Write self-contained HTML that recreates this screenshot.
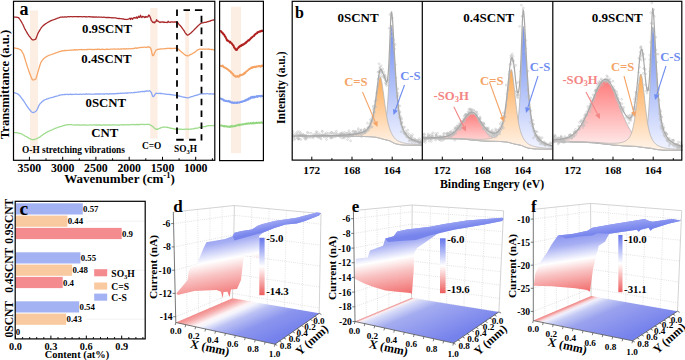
<!DOCTYPE html><html><head><meta charset="utf-8"><style>html,body{margin:0;padding:0;background:#fff;overflow:hidden}svg{display:block}text{font-family:"Liberation Serif",serif}</style></head><body>
<svg width="685" height="360" viewBox="0 0 685 360">
<rect width="685" height="360" fill="#fff"/>
<rect x="30" y="10.5" width="8" height="143.5" fill="#fdeee4"/>
<rect x="150.2" y="8" width="7.4" height="130.5" fill="#fdeee4"/>
<rect x="185.2" y="9.7" width="3.9" height="129.5" fill="#fdeee4"/>
<rect x="231" y="6.7" width="10" height="146.5" fill="#fdeee4"/>
<path d="M13.6 132.5 L14.3 132.6 L14.9 132.6 L15.6 132.6 L16.3 132.7 L17 132.8 L17.6 132.9 L18.3 133.1 L19 133.1 L19.6 133.3 L20.3 133.5 L21 133.7 L21.7 134 L22.3 134.3 L23 134.8 L23.7 135.2 L24.3 135.5 L25 136 L25.7 136.3 L26.4 136.7 L27 137 L27.7 137.4 L28.4 137.8 L29 138.3 L29.7 138.6 L30.4 139 L31.1 139.2 L31.7 139.5 L32.4 139.7 L33.1 139.7 L33.7 139.6 L34.4 139.5 L35.1 139.2 L35.8 139 L36.4 138.8 L37.1 138.4 L37.8 138.1 L38.4 137.8 L39.1 137.4 L39.8 137 L40.5 136.6 L41.1 136.1 L41.8 135.5 L42.5 135.1 L43.1 134.6 L43.8 134 L44.5 133.6 L45.2 133.2 L45.8 132.7 L46.5 132.5 L47.2 132.1 L47.9 131.7 L48.5 131.4 L49.2 131.1 L49.9 130.7 L50.5 130.5 L51.2 130.1 L51.9 129.9 L52.6 129.6 L53.2 129.2 L53.9 129 L54.6 128.7 L55.2 128.4 L55.9 128.1 L56.6 127.9 L57.3 127.6 L57.9 127.4 L58.6 127.2 L59.3 126.9 L59.9 126.7 L60.6 126.7 L61.3 126.3 L62 126.1 L62.6 125.8 L63.3 125.7 L64 125.7 L64.6 125.4 L65.3 125.1 L66 124.9 L66.7 124.8 L67.3 124.7 L68 124.8 L68.7 124.7 L69.3 124.7 L70 124.7 L70.7 124.7 L71.4 124.6 L72 124.7 L72.7 124.8 L73.4 125 L74 124.8 L74.7 125 L75.4 125.1 L76.1 124.9 L76.7 124.9 L77.4 125 L78.1 124.9 L78.7 124.9 L79.4 125 L80.1 125.1 L80.8 125 L81.4 124.9 L82.1 124.9 L82.8 125.2 L83.4 124.8 L84.1 124.8 L84.8 125.2 L85.5 124.9 L86.1 125.1 L86.8 125.2 L87.5 125.1 L88.1 125.1 L88.8 125.2 L89.5 125 L90.2 124.9 L90.8 124.8 L91.5 125 L92.2 125.1 L92.8 125.2 L93.5 124.9 L94.2 124.9 L94.9 124.9 L95.5 125 L96.2 124.9 L96.9 125 L97.5 125.1 L98.2 124.9 L98.9 125 L99.6 124.9 L100.2 125 L100.9 125 L101.6 125.3 L102.2 125.1 L102.9 124.9 L103.6 124.9 L104.3 125.1 L104.9 124.8 L105.6 124.8 L106.3 125.1 L106.9 125 L107.6 125 L108.3 124.8 L109 125 L109.6 124.9 L110.3 125 L111 125.2 L111.6 125.1 L112.3 124.9 L113 124.9 L113.7 125 L114.3 124.9 L115 124.8 L115.7 125 L116.4 124.8 L117 125.1 L117.7 125.1 L118.4 125 L119 124.9 L119.7 125.1 L120.4 124.9 L121.1 124.8 L121.7 124.9 L122.4 124.8 L123.1 124.6 L123.7 125 L124.4 124.8 L125.1 124.8 L125.8 125 L126.4 124.6 L127.1 124.7 L127.8 124.8 L128.4 124.8 L129.1 124.7 L129.8 124.8 L130.5 124.7 L131.1 124.5 L131.8 124.6 L132.5 124.7 L133.1 124.7 L133.8 124.4 L134.5 124.7 L135.2 124.6 L135.8 124.8 L136.5 124.5 L137.2 124.5 L137.8 124.4 L138.5 124.9 L139.2 124.5 L139.9 124.7 L140.5 124.4 L141.2 124.4 L141.9 124.3 L142.5 124.4 L143.2 124.5 L143.9 124.3 L144.6 124.6 L145.2 124.5 L145.9 124.3 L146.6 124.3 L147.2 124.4 L147.9 124.3 L148.6 124.4 L149.3 124.4 L149.9 124.8 L150.6 125.1 L151.3 125.5 L151.9 125.9 L152.6 126.5 L153.3 126.9 L154 127.7 L154.6 128.3 L155.3 128.9 L156 129.3 L156.6 129.1 L157.3 129.4 L158 128.9 L158.7 128.8 L159.3 128.5 L160 128.1 L160.7 128 L161.3 127.7 L162 127.5 L162.7 127.2 L163.4 127 L164 127.1 L164.7 127.1 L165.4 127.2 L166 127.1 L166.7 127.3 L167.4 127.2 L168.1 127.7 L168.7 127.6 L169.4 127.7 L170.1 128.1 L170.7 128.4 L171.4 128.1 L172.1 128.5 L172.8 128.6 L173.4 128.7 L174.1 128.9 L174.8 129 L175.4 129.1 L176.1 129.3 L176.8 129.2 L177.5 129.3 L178.1 129.2 L178.8 129.2 L179.5 129 L180.1 129.5 L180.8 129.2 L181.5 129.2 L182.2 129.3 L182.8 129.4 L183.5 129.3 L184.2 129.5 L184.9 129.1 L185.5 129.2 L186.2 129.2 L186.9 129.1 L187.5 129.4 L188.2 129.4 L188.9 129.2 L189.6 129.1 L190.2 129.2 L190.9 129.3 L191.6 128.8 L192.2 129 L192.9 128.8 L193.6 128.9 L194.3 128.5 L194.9 128.5 L195.6 128.2 L196.3 128.2 L196.9 128.4 L197.6 128 L198.3 127.8 L199 127.6 L199.6 127.2 L200.3 127.4 L201 127.3 L201.6 127.1 L202.3 127 L203 126.8 L203.7 126.7 L204.3 126.7 L205 126.6 L205.7 126.5 L206.3 126.2 L207 125.9 L207.7 125.9 L208.4 125.6 L209 125.7 L209.7 125.7 L210.4 125.5 L211 125.7 L211.7 125.6 L212.4 125.6 L213.1 125.6 L213.7 125.5 L214.4 125.5" fill="none" stroke="#9edc8c" stroke-width="1.3" stroke-linejoin="round"/>
<path d="M13.6 92.5 L14.3 92.6 L14.9 92.8 L15.6 93.1 L16.3 93.3 L17 93.7 L17.6 93.9 L18.3 94.3 L19 94.9 L19.6 95.5 L20.3 96.4 L21 97.3 L21.7 98.2 L22.3 99.1 L23 100 L23.7 100.9 L24.3 101.9 L25 103 L25.7 104.1 L26.4 105.1 L27 106.2 L27.7 107.1 L28.4 108 L29 108.8 L29.7 109.8 L30.4 110.5 L31.1 111.4 L31.7 112 L32.4 112.4 L33.1 112.5 L33.7 112.4 L34.4 112.1 L35.1 111.7 L35.8 111.2 L36.4 110.7 L37.1 109.6 L37.8 108.2 L38.4 106.6 L39.1 105.2 L39.8 104.1 L40.5 103.2 L41.1 102.7 L41.8 102 L42.5 101.3 L43.1 100.9 L43.8 100.4 L44.5 100 L45.2 99.7 L45.8 99.5 L46.5 99.2 L47.2 98.9 L47.9 98.8 L48.5 98.5 L49.2 98.2 L49.9 98 L50.5 97.8 L51.2 97.6 L51.9 97.5 L52.6 97.3 L53.2 97.1 L53.9 97 L54.6 96.7 L55.2 96.5 L55.9 96.4 L56.6 96.2 L57.3 96 L57.9 95.8 L58.6 95.5 L59.3 95.4 L59.9 95.1 L60.6 94.9 L61.3 94.8 L62 94.9 L62.6 94.6 L63.3 94.6 L64 94.6 L64.6 94.5 L65.3 94.5 L66 94.4 L66.7 94.3 L67.3 94.4 L68 94.5 L68.7 94.5 L69.3 94.4 L70 94.3 L70.7 94.2 L71.4 94.5 L72 94.5 L72.7 94.4 L73.4 94.3 L74 94.4 L74.7 94.3 L75.4 94.2 L76.1 94.2 L76.7 94.4 L77.4 94.3 L78.1 94.4 L78.7 94.3 L79.4 94.3 L80.1 94.1 L80.8 94.2 L81.4 94.5 L82.1 94.3 L82.8 94.2 L83.4 94.1 L84.1 94.2 L84.8 94.3 L85.5 94.1 L86.1 94 L86.8 94 L87.5 94.1 L88.1 94.1 L88.8 94.2 L89.5 94 L90.2 94.2 L90.8 94 L91.5 94.2 L92.2 94.3 L92.8 94.2 L93.5 94.1 L94.2 94.1 L94.9 94.2 L95.5 93.9 L96.2 94 L96.9 94 L97.5 94.1 L98.2 94 L98.9 94 L99.6 94 L100.2 94 L100.9 94 L101.6 93.8 L102.2 93.9 L102.9 94.1 L103.6 93.9 L104.3 94 L104.9 94 L105.6 93.8 L106.3 94 L106.9 93.7 L107.6 93.9 L108.3 94.1 L109 94 L109.6 93.7 L110.3 93.8 L111 93.7 L111.6 93.8 L112.3 93.8 L113 93.6 L113.7 93.8 L114.3 93.7 L115 93.8 L115.7 93.6 L116.4 93.5 L117 93.6 L117.7 93.5 L118.4 93.5 L119 93.5 L119.7 93.3 L120.4 93.2 L121.1 93.4 L121.7 93.4 L122.4 93.2 L123.1 93.2 L123.7 93.3 L124.4 93.2 L125.1 93.1 L125.8 93 L126.4 93.2 L127.1 92.9 L127.8 93 L128.4 92.8 L129.1 92.8 L129.8 92.9 L130.5 92.8 L131.1 92.5 L131.8 92.7 L132.5 92.8 L133.1 92.7 L133.8 92.5 L134.5 92.4 L135.2 92.5 L135.8 92.3 L136.5 92.3 L137.2 92.2 L137.8 92.1 L138.5 91.9 L139.2 92 L139.9 91.8 L140.5 91.7 L141.2 91.6 L141.9 91.7 L142.5 91.4 L143.2 91.6 L143.9 91.5 L144.6 91.4 L145.2 91.5 L145.9 91 L146.6 91 L147.2 90.9 L147.9 91.1 L148.6 91.1 L149.3 90.7 L149.9 90.8 L150.6 91.7 L151.3 92.6 L151.9 94.2 L152.6 96.2 L153.3 96.7 L154 96.1 L154.6 95 L155.3 94.1 L156 93.1 L156.6 93.4 L157.3 93.3 L158 93.5 L158.7 93.4 L159.3 93.4 L160 93.5 L160.7 93.5 L161.3 93.5 L162 93.5 L162.7 93.7 L163.4 93.8 L164 93.9 L164.7 93.9 L165.4 94.1 L166 94.1 L166.7 94.3 L167.4 94.3 L168.1 94.4 L168.7 94.4 L169.4 94.5 L170.1 94.5 L170.7 94.6 L171.4 94.7 L172.1 94.9 L172.8 94.9 L173.4 95.1 L174.1 95 L174.8 95.2 L175.4 95.3 L176.1 95.4 L176.8 95.6 L177.5 95.6 L178.1 95.9 L178.8 96 L179.5 96 L180.1 96.3 L180.8 96.4 L181.5 96.7 L182.2 96.8 L182.8 97 L183.5 97.1 L184.2 97.3 L184.9 97.2 L185.5 97.7 L186.2 97.6 L186.9 97.7 L187.5 97.8 L188.2 97.8 L188.9 97.6 L189.6 97.3 L190.2 97.1 L190.9 96.9 L191.6 96.7 L192.2 96.7 L192.9 96.3 L193.6 96.2 L194.3 95.7 L194.9 95.7 L195.6 95.4 L196.3 95.3 L196.9 95.1 L197.6 95 L198.3 94.6 L199 94.4 L199.6 94.1 L200.3 94.1 L201 93.9 L201.6 93.8 L202.3 93.8 L203 94 L203.7 93.6 L204.3 93.7 L205 94 L205.7 93.8 L206.3 93.7 L207 93.7 L207.7 93.7 L208.4 93.8 L209 94 L209.7 94 L210.4 93.7 L211 93.8 L211.7 93.8 L212.4 94 L213.1 93.9 L213.7 94 L214.4 94" fill="none" stroke="#8aa6f4" stroke-width="1.3" stroke-linejoin="round"/>
<path d="M13.6 48.1 L14.3 48 L14.9 48.1 L15.6 48.1 L16.3 48.3 L17 48.3 L17.6 48.6 L18.3 48.7 L19 49 L19.6 49.3 L20.3 49.6 L21 50.2 L21.7 51.1 L22.3 52.2 L23 53.3 L23.7 54.8 L24.3 56.8 L25 59 L25.7 61.4 L26.4 63.4 L27 65.5 L27.7 67.6 L28.4 69.7 L29 71.6 L29.7 73.4 L30.4 75.1 L31.1 77 L31.7 78.4 L32.4 79.6 L33.1 80 L33.7 79.9 L34.4 79.7 L35.1 79.4 L35.8 78.9 L36.4 77.3 L37.1 74.9 L37.8 72.4 L38.4 70.4 L39.1 68.1 L39.8 65.5 L40.5 63.6 L41.1 62.1 L41.8 61 L42.5 60.1 L43.1 59.3 L43.8 58.6 L44.5 58 L45.2 57.4 L45.8 57 L46.5 56.6 L47.2 56.2 L47.9 55.8 L48.5 55.5 L49.2 55.2 L49.9 55 L50.5 54.8 L51.2 54.5 L51.9 54.3 L52.6 54 L53.2 53.8 L53.9 53.6 L54.6 53.3 L55.2 53.1 L55.9 52.8 L56.6 52.7 L57.3 52.4 L57.9 52.1 L58.6 51.9 L59.3 51.6 L59.9 51.5 L60.6 51.4 L61.3 51.1 L62 50.8 L62.6 50.6 L63.3 50.8 L64 50.6 L64.6 50.5 L65.3 50.5 L66 50.6 L66.7 50.4 L67.3 50.3 L68 50.5 L68.7 50.3 L69.3 50 L70 50.2 L70.7 50.3 L71.4 50.1 L72 49.8 L72.7 50 L73.4 50.1 L74 50 L74.7 49.6 L75.4 50.1 L76.1 49.7 L76.7 49.9 L77.4 49.9 L78.1 50 L78.7 49.7 L79.4 49.6 L80.1 49.7 L80.8 49.6 L81.4 49.5 L82.1 49.9 L82.8 49.7 L83.4 49.7 L84.1 49.5 L84.8 49.8 L85.5 49.7 L86.1 49.7 L86.8 49.5 L87.5 49.4 L88.1 49.5 L88.8 49.3 L89.5 49.3 L90.2 49.4 L90.8 49.3 L91.5 49.5 L92.2 49.4 L92.8 49.6 L93.5 49.6 L94.2 49.4 L94.9 49.5 L95.5 49.4 L96.2 49.4 L96.9 49.5 L97.5 49.2 L98.2 49.4 L98.9 49.2 L99.6 49.4 L100.2 49.6 L100.9 49.3 L101.6 49.4 L102.2 49.2 L102.9 49.3 L103.6 49.3 L104.3 49.5 L104.9 49.6 L105.6 49.4 L106.3 49.2 L106.9 49.4 L107.6 49.2 L108.3 49.4 L109 49.3 L109.6 49.3 L110.3 49.2 L111 49.1 L111.6 49.2 L112.3 49.1 L113 49.2 L113.7 49 L114.3 49.1 L115 49 L115.7 49.2 L116.4 49.2 L117 49 L117.7 49.1 L118.4 49 L119 49.1 L119.7 49.2 L120.4 49 L121.1 48.9 L121.7 49.2 L122.4 48.8 L123.1 49 L123.7 48.9 L124.4 48.7 L125.1 49.1 L125.8 49 L126.4 48.7 L127.1 48.8 L127.8 48.8 L128.4 48.8 L129.1 48.6 L129.8 48.7 L130.5 48.8 L131.1 48.7 L131.8 48.6 L132.5 48.5 L133.1 48.7 L133.8 48.3 L134.5 48.4 L135.2 48 L135.8 48 L136.5 48.3 L137.2 47.9 L137.8 48 L138.5 47.9 L139.2 47.7 L139.9 47.7 L140.5 47.4 L141.2 47.4 L141.9 47.5 L142.5 47.4 L143.2 47.3 L143.9 47.2 L144.6 47.2 L145.2 47.1 L145.9 47.3 L146.6 47.3 L147.2 47 L147.9 47 L148.6 47 L149.3 47 L149.9 47.4 L150.6 48 L151.3 50 L151.9 53 L152.6 55.5 L153.3 55.6 L154 54.6 L154.6 52.8 L155.3 51.5 L156 50 L156.6 49.8 L157.3 49.5 L158 49.4 L158.7 49.2 L159.3 49.2 L160 49.3 L160.7 48.8 L161.3 48.9 L162 48.9 L162.7 48.8 L163.4 48.8 L164 48.8 L164.7 48.6 L165.4 48.7 L166 48.5 L166.7 48.5 L167.4 48.4 L168.1 48.4 L168.7 48.4 L169.4 48.5 L170.1 48.2 L170.7 48.6 L171.4 48.5 L172.1 48.5 L172.8 48.3 L173.4 48.3 L174.1 48.4 L174.8 48.4 L175.4 48.1 L176.1 48.3 L176.8 48.7 L177.5 48.5 L178.1 49.1 L178.8 49.6 L179.5 50.1 L180.1 50.9 L180.8 51.3 L181.5 51.9 L182.2 52.6 L182.8 52.9 L183.5 53.6 L184.2 54.2 L184.9 54.7 L185.5 55.4 L186.2 55.4 L186.9 55.8 L187.5 55.7 L188.2 55.8 L188.9 55.5 L189.6 54.9 L190.2 54.8 L190.9 54.4 L191.6 54.1 L192.2 53.9 L192.9 53.2 L193.6 52.8 L194.3 52.7 L194.9 52.1 L195.6 51.6 L196.3 51 L196.9 50.3 L197.6 49.9 L198.3 49.7 L199 49.3 L199.6 49.2 L200.3 49.2 L201 49.2 L201.6 49.2 L202.3 49.4 L203 49.2 L203.7 49 L204.3 49.2 L205 49.2 L205.7 49.2 L206.3 49.1 L207 49.1 L207.7 49.1 L208.4 49 L209 49.1 L209.7 49.4 L210.4 49.3 L211 49.5 L211.7 49.5 L212.4 49.5 L213.1 49.6 L213.7 49.8 L214.4 49.7" fill="none" stroke="#f7a668" stroke-width="1.3" stroke-linejoin="round"/>
<path d="M13.6 17 L14.3 17.1 L14.9 17.1 L15.6 17.1 L16.3 17.2 L17 17.3 L17.6 17.3 L18.3 17.6 L19 18.1 L19.6 19 L20.3 20 L21 21.2 L21.7 22.3 L22.3 23.5 L23 24.8 L23.7 26.3 L24.3 27.7 L25 29.1 L25.7 30.4 L26.4 31.5 L27 32.7 L27.7 33.9 L28.4 34.8 L29 35.8 L29.7 36.7 L30.4 37.7 L31.1 38.4 L31.7 39.2 L32.4 39.8 L33.1 39.9 L33.7 39.9 L34.4 39.7 L35.1 39.4 L35.8 38.9 L36.4 37.6 L37.1 35.6 L37.8 33.7 L38.4 32.5 L39.1 31.3 L39.8 30.1 L40.5 29 L41.1 28 L41.8 27.1 L42.5 26.4 L43.1 25.8 L43.8 25.1 L44.5 24.6 L45.2 24.1 L45.8 23.6 L46.5 23.2 L47.2 22.7 L47.9 22.3 L48.5 22 L49.2 21.7 L49.9 21.2 L50.5 20.9 L51.2 20.6 L51.9 20.3 L52.6 20 L53.2 19.8 L53.9 19.6 L54.6 19.3 L55.2 19.1 L55.9 18.8 L56.6 18.6 L57.3 18.2 L57.9 18.1 L58.6 17.9 L59.3 17.6 L59.9 17.4 L60.6 17.2 L61.3 17.2 L62 17.1 L62.6 17 L63.3 17.1 L64 17.1 L64.6 16.8 L65.3 16.8 L66 17.1 L66.7 17 L67.3 16.8 L68 16.7 L68.7 16.7 L69.3 16.8 L70 16.7 L70.7 16.7 L71.4 16.7 L72 16.7 L72.7 16.8 L73.4 16.7 L74 16.7 L74.7 16.7 L75.4 16.7 L76.1 16.7 L76.7 16.7 L77.4 16.6 L78.1 16.9 L78.7 16.7 L79.4 16.6 L80.1 16.6 L80.8 16.7 L81.4 16.7 L82.1 16.8 L82.8 16.8 L83.4 16.6 L84.1 16.7 L84.8 16.6 L85.5 16.8 L86.1 16.7 L86.8 17 L87.5 16.8 L88.1 16.6 L88.8 16.7 L89.5 16.9 L90.2 16.7 L90.8 16.8 L91.5 16.9 L92.2 17 L92.8 17 L93.5 16.9 L94.2 17.1 L94.9 17 L95.5 17.1 L96.2 16.9 L96.9 17.1 L97.5 17.2 L98.2 17 L98.9 17.1 L99.6 17.2 L100.2 17.2 L100.9 17.2 L101.6 17.2 L102.2 17.4 L102.9 17.4 L103.6 17.2 L104.3 17.2 L104.9 17.3 L105.6 17.5 L106.3 17.6 L106.9 17.4 L107.6 17.7 L108.3 17.4 L109 17.6 L109.6 17.5 L110.3 17.7 L111 17.5 L111.6 17.8 L112.3 17.8 L113 17.7 L113.7 17.8 L114.3 17.9 L115 17.9 L115.7 17.8 L116.4 18.2 L117 18.3 L117.7 18.4 L118.4 18.6 L119 18.4 L119.7 18.5 L120.4 18.7 L121.1 18.7 L121.7 18.8 L122.4 18.9 L123.1 19 L123.7 19 L124.4 19.3 L125.1 19.4 L125.8 19.3 L126.4 19.5 L127.1 19.3 L127.8 19.3 L128.4 19.2 L129.1 18.8 L129.8 18.3 L130.5 19.5 L131.1 18.1 L131.8 18.4 L132.5 19.3 L133.1 18.3 L133.8 17.7 L134.5 17.6 L135.2 18.1 L135.8 17.8 L136.5 16.9 L137.2 18.4 L137.8 17.5 L138.5 16.2 L139.2 17.3 L139.9 17.3 L140.5 15.2 L141.2 16.9 L141.9 17.6 L142.5 16.4 L143.2 16.4 L143.9 17 L144.6 17.6 L145.2 16.5 L145.9 17.4 L146.6 16.6 L147.2 17 L147.9 16.9 L148.6 15.1 L149.3 15.4 L149.9 16.5 L150.6 18.3 L151.3 20.5 L151.9 21.1 L152.6 22.2 L153.3 22.6 L154 22 L154.6 22.8 L155.3 21.8 L156 21.5 L156.6 19.6 L157.3 21.2 L158 21 L158.7 21.5 L159.3 22.1 L160 22.5 L160.7 21.9 L161.3 22.1 L162 22 L162.7 22 L163.4 21.9 L164 22.5 L164.7 22.1 L165.4 22.4 L166 22.3 L166.7 22.5 L167.4 22.5 L168.1 21.2 L168.7 22.2 L169.4 22.2 L170.1 22.4 L170.7 21.9 L171.4 22 L172.1 21.8 L172.8 22.1 L173.4 22.1 L174.1 22 L174.8 22 L175.4 22 L176.1 22 L176.8 21.8 L177.5 22.6 L178.1 23 L178.8 24.1 L179.5 25 L180.1 25.4 L180.8 26.3 L181.5 27.1 L182.2 28.2 L182.8 29 L183.5 30 L184.2 30.9 L184.9 32.3 L185.5 33.1 L186.2 34 L186.9 34.7 L187.5 35.1 L188.2 34.8 L188.9 34.6 L189.6 34 L190.2 33.5 L190.9 33 L191.6 32.2 L192.2 31.7 L192.9 31.1 L193.6 30.4 L194.3 29.6 L194.9 29.1 L195.6 28.2 L196.3 27.7 L196.9 26.9 L197.6 26.5 L198.3 25.4 L199 25 L199.6 24.4 L200.3 23.8 L201 23.3 L201.6 23 L202.3 22.9 L203 22.8 L203.7 22.7 L204.3 22.4 L205 22.4 L205.7 22.3 L206.3 22.1 L207 22 L207.7 21.7 L208.4 21.5 L209 21.4 L209.7 21.1 L210.4 21 L211 20.6 L211.7 20.4 L212.4 20.2 L213.1 20.1 L213.7 20 L214.4 19.5" fill="none" stroke="#a8282a" stroke-width="1.3" stroke-linejoin="round"/>
<path d="M220.2 31.1 L220.6 31 L220.9 31.3 L221.3 31.5 L221.6 32.3 L222 32.3 L222.3 32.8 L222.7 33 L223.1 33.6 L223.4 34.3 L223.8 34.2 L224.1 34.8 L224.5 35.2 L224.9 36.3 L225.2 36.5 L225.6 37.2 L225.9 37.8 L226.3 38.5 L226.6 39.5 L227 40.5 L227.4 40 L227.7 40.8 L228.1 40.9 L228.4 40.8 L228.8 41.3 L229.1 41.5 L229.5 41.6 L229.9 42.5 L230.2 41.7 L230.6 42.5 L230.9 42.8 L231.3 42.9 L231.7 43.4 L232 44 L232.4 44.3 L232.7 44.8 L233.1 45.4 L233.4 45.3 L233.8 46.8 L234.2 47.5 L234.5 47.8 L234.9 48.5 L235.2 48.7 L235.6 49.6 L236 49.8 L236.3 49.8 L236.7 50 L237 49.2 L237.4 49 L237.7 48.1 L238.1 48 L238.5 47.6 L238.8 47 L239.2 46.6 L239.5 47 L239.9 46 L240.2 45.8 L240.6 45.6 L241 45.9 L241.3 45.9 L241.7 45.3 L242 44.8 L242.4 44.7 L242.8 44.9 L243.1 44.2 L243.5 44.6 L243.8 44.3 L244.2 43.8 L244.5 43.7 L244.9 43.5 L245.3 43.4 L245.6 42.5 L246 42.8 L246.3 42.1 L246.7 41.8 L247 41.7 L247.4 41.3 L247.8 40.8 L248.1 40.4 L248.5 40.2 L248.8 40.5 L249.2 40.3 L249.6 39.7 L249.9 39.5 L250.3 38.8 L250.6 38.6 L251 38.4 L251.3 37.7 L251.7 37.5 L252.1 37.4 L252.4 37 L252.8 36.5 L253.1 36.5 L253.5 36 L253.9 36 L254.2 35.4 L254.6 34.9 L254.9 34.7 L255.3 34.3 L255.6 33.8 L256 33.6 L256.4 33.6 L256.7 33.3 L257.1 33.2 L257.4 32.2 L257.8 32.3 L258.1 32.1 L258.5 32.1 L258.9 31.8 L259.2 31.6 L259.6 31.8 L259.9 31.5 L260.3 31 L260.7 31.5 L261 31.3 L261.4 30.8 L261.7 31 L262.1 30.6 L262.4 31 L262.8 30.6" fill="none" stroke="#b0201e" stroke-width="2.0" stroke-linejoin="round"/>
<path d="M220.2 65.4 L220.6 65.7 L220.9 65.7 L221.3 66 L221.6 66.1 L222 66.2 L222.3 66.2 L222.7 65.6 L223.1 66.7 L223.4 66.4 L223.8 67.1 L224.1 67.5 L224.5 67.5 L224.9 67.5 L225.2 67.8 L225.6 68 L225.9 68.1 L226.3 68.3 L226.6 68.4 L227 69.1 L227.4 69.1 L227.7 69.5 L228.1 69.5 L228.4 69.9 L228.8 70.1 L229.1 70.6 L229.5 71 L229.9 71.1 L230.2 71.2 L230.6 71.5 L230.9 72.5 L231.3 72.3 L231.7 72.6 L232 73.4 L232.4 73.6 L232.7 73.9 L233.1 74.1 L233.4 75.2 L233.8 75.2 L234.2 75.6 L234.5 75.8 L234.9 75.8 L235.2 76.1 L235.6 76.7 L236 76.8 L236.3 76.6 L236.7 76.4 L237 76.3 L237.4 76.5 L237.7 76.1 L238.1 76.6 L238.5 76.6 L238.8 76.8 L239.2 76.2 L239.5 75.7 L239.9 75.5 L240.2 74.7 L240.6 75.2 L241 75.2 L241.3 75.3 L241.7 75 L242 74.9 L242.4 74.6 L242.8 74.5 L243.1 74.6 L243.5 73.7 L243.8 73.6 L244.2 73.1 L244.5 73.6 L244.9 73.2 L245.3 72.8 L245.6 72 L246 72 L246.3 71.6 L246.7 71.3 L247 70.9 L247.4 70.8 L247.8 70.2 L248.1 70.2 L248.5 69.7 L248.8 69.3 L249.2 69.1 L249.6 68.7 L249.9 68.8 L250.3 68.3 L250.6 68.3 L251 67.9 L251.3 67.5 L251.7 68 L252.1 67.4 L252.4 67.8 L252.8 67.6 L253.1 67 L253.5 67.1 L253.9 67.1 L254.2 66.9 L254.6 66.8 L254.9 67.2 L255.3 66.8 L255.6 66.9 L256 66.7 L256.4 66.8 L256.7 66.4 L257.1 66.6 L257.4 66.6 L257.8 66.4 L258.1 66.3 L258.5 66.1 L258.9 66.3 L259.2 66.3 L259.6 66.1 L259.9 66 L260.3 66.3 L260.7 66.7 L261 66 L261.4 66.1 L261.7 66.1 L262.1 65.4 L262.4 66 L262.8 65.8" fill="none" stroke="#f6a262" stroke-width="2.0" stroke-linejoin="round"/>
<path d="M220.2 98.8 L220.6 98.6 L220.9 98.6 L221.3 98.9 L221.6 99.2 L222 99.1 L222.3 99.4 L222.7 99.2 L223.1 99.7 L223.4 100.1 L223.8 100.5 L224.1 100.3 L224.5 100.3 L224.9 100.7 L225.2 100.8 L225.6 101.1 L225.9 101 L226.3 100.8 L226.6 101 L227 101.1 L227.4 101.3 L227.7 101.3 L228.1 101.2 L228.4 100.9 L228.8 101.4 L229.1 101.1 L229.5 101.8 L229.9 101.8 L230.2 101.5 L230.6 102.2 L230.9 102.3 L231.3 102.2 L231.7 102.7 L232 102.8 L232.4 102.2 L232.7 102.8 L233.1 102.7 L233.4 102.8 L233.8 103 L234.2 102.6 L234.5 102.7 L234.9 102.6 L235.2 102.7 L235.6 102.9 L236 102.5 L236.3 102.6 L236.7 103 L237 102.8 L237.4 102.9 L237.7 102.3 L238.1 102.5 L238.5 102.5 L238.8 102.6 L239.2 102.3 L239.5 102.6 L239.9 102.2 L240.2 102.2 L240.6 102 L241 102.1 L241.3 101.7 L241.7 102 L242 101.7 L242.4 101.5 L242.8 101.3 L243.1 101.3 L243.5 101.3 L243.8 101.2 L244.2 100.9 L244.5 100.9 L244.9 100.6 L245.3 100.8 L245.6 100.3 L246 99.7 L246.3 100.4 L246.7 99.9 L247 99.4 L247.4 99.5 L247.8 99.1 L248.1 99.7 L248.5 99.1 L248.8 98.4 L249.2 98.8 L249.6 98.4 L249.9 98.8 L250.3 97.9 L250.6 97.4 L251 97.9 L251.3 97.6 L251.7 97.5 L252.1 96.9 L252.4 97.4 L252.8 97.6 L253.1 96.7 L253.5 97.4 L253.9 96.8 L254.2 97.5 L254.6 97 L254.9 96.8 L255.3 97 L255.6 96.8 L256 96.5 L256.4 96.8 L256.7 96.4 L257.1 96 L257.4 96.9 L257.8 96.3 L258.1 96.2 L258.5 96.4 L258.9 95.9 L259.2 95.9 L259.6 96.1 L259.9 96 L260.3 96.1 L260.7 96.4 L261 95.9 L261.4 96.2 L261.7 96.2 L262.1 95.7 L262.4 96.1 L262.8 95.8" fill="none" stroke="#7f9df2" stroke-width="2.0" stroke-linejoin="round"/>
<path d="M220.2 125.6 L220.6 125.6 L220.9 125.5 L221.3 125.3 L221.6 125.7 L222 125.6 L222.3 126 L222.7 125.9 L223.1 125.8 L223.4 126.3 L223.8 126.3 L224.1 126 L224.5 126.5 L224.9 126.1 L225.2 126.2 L225.6 126.3 L225.9 126.1 L226.3 126.2 L226.6 126.3 L227 126.8 L227.4 126.8 L227.7 126.4 L228.1 126.9 L228.4 126.5 L228.8 126.6 L229.1 126.7 L229.5 126.6 L229.9 127.1 L230.2 126.6 L230.6 126.2 L230.9 126.8 L231.3 126.4 L231.7 126.4 L232 125.6 L232.4 126.6 L232.7 126.5 L233.1 126.4 L233.4 126.4 L233.8 126.5 L234.2 126 L234.5 126.2 L234.9 125.7 L235.2 125.7 L235.6 126 L236 125.7 L236.3 125.2 L236.7 125.6 L237 125.4 L237.4 125.1 L237.7 125.4 L238.1 125.1 L238.5 124.7 L238.8 124.8 L239.2 125.4 L239.5 124.5 L239.9 124.9 L240.2 125 L240.6 124.9 L241 124.4 L241.3 124.5 L241.7 124.6 L242 124.7 L242.4 124.3 L242.8 124.1 L243.1 124.6 L243.5 124.5 L243.8 124.3 L244.2 124 L244.5 124.2 L244.9 124.1 L245.3 124.2 L245.6 123.6 L246 123.9 L246.3 123.8 L246.7 123.5 L247 123.8 L247.4 123.7 L247.8 123.5 L248.1 123.7 L248.5 123.2 L248.8 123.5 L249.2 123.5 L249.6 123.5 L249.9 123.6 L250.3 123 L250.6 122.9 L251 123.3 L251.3 123.3 L251.7 123.7 L252.1 123.3 L252.4 122.9 L252.8 123.3 L253.1 122.8 L253.5 122.7 L253.9 123.6 L254.2 123.1 L254.6 123.1 L254.9 123.1 L255.3 123.3 L255.6 122.9 L256 123.1 L256.4 122.6 L256.7 122.4 L257.1 123.1 L257.4 123.1 L257.8 122.8 L258.1 122.8 L258.5 122.7 L258.9 122.5 L259.2 123 L259.6 122.8 L259.9 122.7 L260.3 122.7 L260.7 122.8 L261 122.7 L261.4 122.7 L261.7 122.2 L262.1 122.6 L262.4 123.1 L262.8 122.4" fill="none" stroke="#92d67e" stroke-width="1.8" stroke-linejoin="round"/>
<path d="M177 9.5 V16 M177 21.3 V27.8 M177 33.1 V39.6 M177 44.9 V51.4 M177 56.7 V63.2 M177 68.5 V75 M177 80.3 V86.8 M177 92.1 V98.6 M177 103.9 V110.4 M177 115.7 V122.2 M177 127.5 V134 M201.5 15.8 V22.4 M201.5 27.6 V34.2 M201.5 39.5 V46.1 M201.5 51.3 V57.9 M201.5 63.2 V69.8 M201.5 75 V81.6 M201.5 86.8 V93.4 M201.5 98.7 V105.3 M201.5 110.5 V117.1 M201.5 122.4 V129 M201.5 134.2 V140.4 M183.5 10.2 H190 M194.9 10.2 H202.2 M176.2 139.75 H183.7 M189.1 139.75 H195.75" stroke="#000" stroke-width="1.8" fill="none"/>
<rect x="13.5" y="1.3" width="201.3" height="159" fill="none" stroke="#000" stroke-width="1.2"/>
<rect x="219.6" y="1.3" width="43.8" height="159.3" fill="none" stroke="#000" stroke-width="1.2"/>
<line x1="212.4" y1="160.3" x2="212.4" y2="158.3" stroke="#000" stroke-width="1"/>
<line x1="195.7" y1="160.3" x2="195.7" y2="156.8" stroke="#000" stroke-width="1"/>
<line x1="179.1" y1="160.3" x2="179.1" y2="158.3" stroke="#000" stroke-width="1"/>
<line x1="162.5" y1="160.3" x2="162.5" y2="156.8" stroke="#000" stroke-width="1"/>
<line x1="145.8" y1="160.3" x2="145.8" y2="158.3" stroke="#000" stroke-width="1"/>
<line x1="129.2" y1="160.3" x2="129.2" y2="156.8" stroke="#000" stroke-width="1"/>
<line x1="112.6" y1="160.3" x2="112.6" y2="158.3" stroke="#000" stroke-width="1"/>
<line x1="95.9" y1="160.3" x2="95.9" y2="156.8" stroke="#000" stroke-width="1"/>
<line x1="79.3" y1="160.3" x2="79.3" y2="158.3" stroke="#000" stroke-width="1"/>
<line x1="62.7" y1="160.3" x2="62.7" y2="156.8" stroke="#000" stroke-width="1"/>
<line x1="46" y1="160.3" x2="46" y2="158.3" stroke="#000" stroke-width="1"/>
<line x1="29.4" y1="160.3" x2="29.4" y2="156.8" stroke="#000" stroke-width="1"/>
<g font-family="Liberation Serif" font-weight="bold">
<text x="29.4" y="171.5" font-size="11.8" text-anchor="middle" fill="#000" >3500</text>
<text x="62.7" y="171.5" font-size="11.8" text-anchor="middle" fill="#000" >3000</text>
<text x="95.9" y="171.5" font-size="11.8" text-anchor="middle" fill="#000" >2500</text>
<text x="129.2" y="171.5" font-size="11.8" text-anchor="middle" fill="#000" >2000</text>
<text x="162.5" y="171.5" font-size="11.8" text-anchor="middle" fill="#000" >1500</text>
<text x="195.7" y="171.5" font-size="11.8" text-anchor="middle" fill="#000" >1000</text>
<text x="19.6" y="14.8" font-size="18" text-anchor="start" fill="#000" >a</text>
<text x="82" y="32.5" font-size="12.8" text-anchor="start" fill="#000" >0.9SCNT</text>
<text x="81.3" y="62.5" font-size="12.8" text-anchor="start" fill="#000" >0.4SCNT</text>
<text x="85.5" y="106.7" font-size="12.8" text-anchor="start" fill="#000" >0SCNT</text>
<text x="91.3" y="137" font-size="12.8" text-anchor="start" fill="#000" >CNT</text>
<text x="22" y="152.8" font-size="9.4" text-anchor="start" fill="#000" >O-H stretching vibrations</text>
<text x="141.9" y="149" font-size="9.4" text-anchor="start" fill="#000" >C=O</text>
<text x="174.1" y="152.2" font-size="9.4">SO<tspan font-size="6.5" dy="2">3</tspan><tspan dy="-2">H</tspan></text>
<text x="64.3" y="183.3" font-size="13">Wavenumber (cm<tspan font-size="8.5" dy="-5">-1</tspan><tspan dy="5">)</tspan></text>
<text transform="translate(9.2,84.5) rotate(-90)" font-size="12.6" text-anchor="middle">Transmittance (a.u.)</text>
</g>
<defs>
<linearGradient id="g_so3" x1="0" y1="0" x2="0" y2="1"><stop offset="0" stop-color="#ff7c7c"/><stop offset="1" stop-color="#fff2f2"/></linearGradient>
<linearGradient id="g_cs2" x1="0" y1="0" x2="0" y2="1"><stop offset="0" stop-color="#ffab55"/><stop offset="1" stop-color="#fff4ea"/></linearGradient>
<linearGradient id="g_cs" x1="0" y1="0" x2="0" y2="1"><stop offset="0" stop-color="#6d8cf2"/><stop offset="1" stop-color="#f2f4ff"/></linearGradient>
</defs>
<clipPath id="clipb0"><rect x="292.5" y="1" width="128.9" height="159"/></clipPath>
<g clip-path="url(#clipb0)">
<path d="M337.9 136 L338.4 136 L338.9 136 L339.4 136 L339.9 136 L340.4 136 L340.9 136 L341.4 136 L341.9 136 L342.4 136 L342.9 136 L343.4 136 L343.9 136 L344.4 136 L344.9 136 L345.4 136 L345.9 136 L346.4 136 L346.9 136 L347.4 136 L347.9 136 L348.4 136 L348.9 136 L349.4 135.9 L349.9 135.9 L350.4 135.9 L350.9 135.9 L351.4 135.9 L351.9 135.9 L352.4 135.9 L352.9 135.9 L353.4 135.9 L353.9 135.9 L354.4 135.9 L354.9 135.9 L355.4 135.9 L355.9 135.8 L356.4 135.8 L356.9 135.8 L357.5 135.8 L358 135.8 L358.5 135.8 L359 135.8 L359.5 135.8 L360 135.7 L360.5 135.7 L361 135.7 L361.5 135.7 L362 135.7 L362.5 135.7 L363 135.6 L363.5 135.6 L364 135.6 L364.5 135.6 L365 135.5 L365.5 135.5 L366 135.5 L366.5 135.5 L367 135.4 L367.5 135.4 L368 135.4 L368.5 135.3 L369 135.3 L369.5 135.2 L370 135.2 L370.5 135.1 L371 135.1 L371.5 135 L372 135 L372.5 134.9 L373 134.9 L373.5 134.8 L374 134.7 L374.5 134.6 L375 134.6 L375.5 134.5 L376 134.4 L376.5 134.3 L377 134.2 L377.5 134 L378 133.9 L378.5 133.7 L379 133.5 L379.5 133.3 L380 133.1 L380.5 132.8 L381 132.4 L381.5 131.9 L382 131.4 L382.5 130.7 L383 129.9 L383.6 129 L384.1 127.8 L384.6 126.3 L385.1 124.5 L385.6 122.2 L386.1 119.2 L386.6 115.4 L387.1 110.6 L387.6 104.4 L388.1 96.7 L388.6 87.1 L389.1 75.7 L389.6 62.7 L390.1 48.9 L390.6 36.2 L391.1 27.4 L391.6 25.1 L392.1 27.1 L392.6 31.5 L393.1 37.8 L393.6 45.4 L394.1 53.7 L394.6 62.2 L395.1 70.4 L395.6 78.3 L396.1 85.5 L396.6 92 L397.1 97.9 L397.6 103.1 L398.1 107.7 L398.6 111.8 L399.1 115.3 L399.6 118.4 L400.1 121.1 L400.6 123.4 L401.1 125.4 L401.6 127.2 L402.1 128.7 L402.6 130.1 L403.1 131.3 L403.6 132.3 L404.1 133.3 L404.6 134.1 L405.1 134.9 L405.6 135.5 L406.1 136.2 L406.6 136.7 L407.1 137.2 L407.6 137.7 L408.1 138.1 L408.6 138.5 L409.1 138.9 L409.7 139.2 L410.2 139.6 L410.7 139.9 L411.2 140.1 L411.7 140.4 L412.2 140.6 L412.7 140.8 L413.2 141.1 L413.7 141.2 L414.2 141.4 L414.7 141.6 L415.2 141.8 L415.7 141.9 L416.2 142.1 L416.7 142.2 L417.2 142.3 L417.7 142.5 L418.2 142.6 L418.7 142.7 L419.2 142.8 L419.7 142.9 L420.2 143 L420.7 143.1 L421.2 143.2 L421.7 143.2 L422.2 143.3 L422.2 145.5 L421.7 145.5 L421.2 145.5 L420.7 145.5 L420.2 145.5 L419.7 145.5 L419.2 145.5 L418.7 145.4 L418.2 145.4 L417.7 145.4 L417.2 145.4 L416.7 145.4 L416.2 145.4 L415.7 145.4 L415.2 145.4 L414.7 145.4 L414.2 145.4 L413.7 145.3 L413.2 145.3 L412.7 145.3 L412.2 145.3 L411.7 145.3 L411.2 145.3 L410.7 145.3 L410.2 145.2 L409.7 145.2 L409.1 145.2 L408.6 145.2 L408.1 145.2 L407.6 145.2 L407.1 145.1 L406.6 145.1 L406.1 145.1 L405.6 145.1 L405.1 145 L404.6 145 L404.1 145 L403.6 144.9 L403.1 144.9 L402.6 144.9 L402.1 144.8 L401.6 144.8 L401.1 144.7 L400.6 144.7 L400.1 144.6 L399.6 144.6 L399.1 144.5 L398.6 144.4 L398.1 144.3 L397.6 144.2 L397.1 144.1 L396.6 144 L396.1 143.8 L395.6 143.7 L395.1 143.5 L394.6 143.3 L394.1 143.1 L393.6 142.9 L393.1 142.6 L392.6 142.3 L392.1 142.1 L391.6 141.8 L391.1 141.5 L390.6 141.2 L390.1 141 L389.6 140.8 L389.1 140.6 L388.6 140.5 L388.1 140.3 L387.6 140.2 L387.1 140.1 L386.6 140 L386.1 139.9 L385.6 139.8 L385.1 139.6 L384.6 139.5 L384.1 139.4 L383.6 139.3 L383 139.2 L382.5 139 L382 138.9 L381.5 138.7 L381 138.6 L380.5 138.4 L380 138.3 L379.5 138.1 L379 138 L378.5 137.9 L378 137.7 L377.5 137.6 L377 137.5 L376.5 137.4 L376 137.3 L375.5 137.2 L375 137.2 L374.5 137.1 L374 137 L373.5 137 L373 136.9 L372.5 136.9 L372 136.8 L371.5 136.8 L371 136.8 L370.5 136.8 L370 136.7 L369.5 136.7 L369 136.7 L368.5 136.7 L368 136.6 L367.5 136.6 L367 136.6 L366.5 136.6 L366 136.6 L365.5 136.6 L365 136.6 L364.5 136.5 L364 136.5 L363.5 136.5 L363 136.5 L362.5 136.5 L362 136.5 L361.5 136.5 L361 136.5 L360.5 136.5 L360 136.5 L359.5 136.5 L359 136.4 L358.5 136.4 L358 136.4 L357.5 136.4 L356.9 136.4 L356.4 136.4 L355.9 136.4 L355.4 136.4 L354.9 136.4 L354.4 136.4 L353.9 136.4 L353.4 136.4 L352.9 136.4 L352.4 136.4 L351.9 136.4 L351.4 136.4 L350.9 136.4 L350.4 136.4 L349.9 136.4 L349.4 136.4 L348.9 136.3 L348.4 136.3 L347.9 136.3 L347.4 136.3 L346.9 136.3 L346.4 136.3 L345.9 136.3 L345.4 136.3 L344.9 136.3 L344.4 136.3 L343.9 136.3 L343.4 136.3 L342.9 136.3 L342.4 136.3 L341.9 136.3 L341.4 136.3 L340.9 136.3 L340.4 136.3 L339.9 136.3 L339.4 136.3 L338.9 136.3 L338.4 136.3 L337.9 136.3 Z" fill="url(#g_cs)" stroke="#b4b4b4" stroke-width="0.8"/>
<path d="M312.8 136 L313.3 136 L313.8 136 L314.3 136 L314.8 136 L315.3 136 L315.8 136 L316.3 136 L316.8 135.9 L317.3 135.9 L317.8 135.9 L318.3 135.9 L318.8 135.9 L319.3 135.9 L319.8 135.9 L320.3 135.9 L320.8 135.9 L321.3 135.9 L321.8 135.9 L322.3 135.9 L322.8 135.9 L323.3 135.9 L323.8 135.9 L324.3 135.9 L324.8 135.9 L325.3 135.9 L325.8 135.9 L326.3 135.9 L326.8 135.9 L327.3 135.8 L327.8 135.8 L328.3 135.8 L328.8 135.8 L329.3 135.8 L329.8 135.8 L330.3 135.8 L330.8 135.8 L331.4 135.8 L331.9 135.8 L332.4 135.8 L332.9 135.8 L333.4 135.8 L333.9 135.7 L334.4 135.7 L334.9 135.7 L335.4 135.7 L335.9 135.7 L336.4 135.7 L336.9 135.7 L337.4 135.7 L337.9 135.7 L338.4 135.6 L338.9 135.6 L339.4 135.6 L339.9 135.6 L340.4 135.6 L340.9 135.6 L341.4 135.6 L341.9 135.5 L342.4 135.5 L342.9 135.5 L343.4 135.5 L343.9 135.5 L344.4 135.4 L344.9 135.4 L345.4 135.4 L345.9 135.4 L346.4 135.3 L346.9 135.3 L347.4 135.3 L347.9 135.3 L348.4 135.2 L348.9 135.2 L349.4 135.2 L349.9 135.1 L350.4 135.1 L350.9 135.1 L351.4 135 L351.9 135 L352.4 134.9 L352.9 134.9 L353.4 134.8 L353.9 134.8 L354.4 134.7 L354.9 134.7 L355.4 134.6 L355.9 134.5 L356.4 134.5 L356.9 134.4 L357.5 134.3 L358 134.2 L358.5 134.1 L359 134 L359.5 133.9 L360 133.8 L360.5 133.7 L361 133.6 L361.5 133.4 L362 133.3 L362.5 133.1 L363 133 L363.5 132.8 L364 132.6 L364.5 132.3 L365 132.1 L365.5 131.8 L366 131.5 L366.5 131.1 L367 130.7 L367.5 130.3 L368 129.8 L368.5 129.2 L369 128.5 L369.5 127.7 L370 126.8 L370.5 125.7 L371 124.5 L371.5 123.2 L372 121.6 L372.5 119.8 L373 117.7 L373.5 115.4 L374 112.9 L374.5 110.1 L375 107 L375.5 103.7 L376 100.2 L376.5 96.5 L377 92.8 L377.5 89 L378 85.5 L378.5 82.4 L379 79.8 L379.5 78 L380 77.1 L380.5 77.2 L381 78.3 L381.5 80.4 L382 83.3 L382.5 86.7 L383 90.4 L383.6 94.4 L384.1 98.4 L384.6 102.2 L385.1 106 L385.6 109.5 L386.1 112.7 L386.6 115.7 L387.1 118.4 L387.6 120.9 L388.1 123.1 L388.6 125.1 L389.1 126.9 L389.6 128.5 L390.1 129.9 L390.6 131.3 L391.1 132.5 L391.6 133.5 L392.1 134.5 L392.6 135.4 L393.1 136.2 L393.6 136.9 L394.1 137.6 L394.6 138.2 L395.1 138.7 L395.6 139.2 L396.1 139.6 L396.6 140 L397.1 140.3 L397.6 140.6 L398.1 140.9 L398.6 141.2 L399.1 141.4 L399.6 141.6 L400.1 141.9 L400.6 142 L401.1 142.2 L401.6 142.4 L402.1 142.5 L402.6 142.7 L403.1 142.8 L403.6 142.9 L404.1 143 L404.6 143.1 L405.1 143.2 L405.6 143.3 L406.1 143.4 L406.6 143.5 L407.1 143.6 L407.6 143.7 L408.1 143.7 L408.6 143.8 L409.1 143.9 L409.7 143.9 L410.2 144 L410.7 144 L411.2 144.1 L411.7 144.1 L412.2 144.2 L412.7 144.2 L413.2 144.3 L413.7 144.3 L414.2 144.4 L414.7 144.4 L415.2 144.4 L415.7 144.5 L416.2 144.5 L416.7 144.5 L417.2 144.6 L417.7 144.6 L418.2 144.6 L418.7 144.7 L419.2 144.7 L419.7 144.7 L420.2 144.7 L420.7 144.8 L421.2 144.8 L421.7 144.8 L422.2 144.8 L422.2 145.5 L421.7 145.5 L421.2 145.5 L420.7 145.5 L420.2 145.5 L419.7 145.5 L419.2 145.5 L418.7 145.4 L418.2 145.4 L417.7 145.4 L417.2 145.4 L416.7 145.4 L416.2 145.4 L415.7 145.4 L415.2 145.4 L414.7 145.4 L414.2 145.4 L413.7 145.3 L413.2 145.3 L412.7 145.3 L412.2 145.3 L411.7 145.3 L411.2 145.3 L410.7 145.3 L410.2 145.2 L409.7 145.2 L409.1 145.2 L408.6 145.2 L408.1 145.2 L407.6 145.2 L407.1 145.1 L406.6 145.1 L406.1 145.1 L405.6 145.1 L405.1 145 L404.6 145 L404.1 145 L403.6 144.9 L403.1 144.9 L402.6 144.9 L402.1 144.8 L401.6 144.8 L401.1 144.7 L400.6 144.7 L400.1 144.6 L399.6 144.6 L399.1 144.5 L398.6 144.4 L398.1 144.3 L397.6 144.2 L397.1 144.1 L396.6 144 L396.1 143.8 L395.6 143.7 L395.1 143.5 L394.6 143.3 L394.1 143.1 L393.6 142.9 L393.1 142.6 L392.6 142.3 L392.1 142.1 L391.6 141.8 L391.1 141.5 L390.6 141.2 L390.1 141 L389.6 140.8 L389.1 140.6 L388.6 140.5 L388.1 140.3 L387.6 140.2 L387.1 140.1 L386.6 140 L386.1 139.9 L385.6 139.8 L385.1 139.6 L384.6 139.5 L384.1 139.4 L383.6 139.3 L383 139.2 L382.5 139 L382 138.9 L381.5 138.7 L381 138.6 L380.5 138.4 L380 138.3 L379.5 138.1 L379 138 L378.5 137.9 L378 137.7 L377.5 137.6 L377 137.5 L376.5 137.4 L376 137.3 L375.5 137.2 L375 137.2 L374.5 137.1 L374 137 L373.5 137 L373 136.9 L372.5 136.9 L372 136.8 L371.5 136.8 L371 136.8 L370.5 136.8 L370 136.7 L369.5 136.7 L369 136.7 L368.5 136.7 L368 136.6 L367.5 136.6 L367 136.6 L366.5 136.6 L366 136.6 L365.5 136.6 L365 136.6 L364.5 136.5 L364 136.5 L363.5 136.5 L363 136.5 L362.5 136.5 L362 136.5 L361.5 136.5 L361 136.5 L360.5 136.5 L360 136.5 L359.5 136.5 L359 136.4 L358.5 136.4 L358 136.4 L357.5 136.4 L356.9 136.4 L356.4 136.4 L355.9 136.4 L355.4 136.4 L354.9 136.4 L354.4 136.4 L353.9 136.4 L353.4 136.4 L352.9 136.4 L352.4 136.4 L351.9 136.4 L351.4 136.4 L350.9 136.4 L350.4 136.4 L349.9 136.4 L349.4 136.4 L348.9 136.3 L348.4 136.3 L347.9 136.3 L347.4 136.3 L346.9 136.3 L346.4 136.3 L345.9 136.3 L345.4 136.3 L344.9 136.3 L344.4 136.3 L343.9 136.3 L343.4 136.3 L342.9 136.3 L342.4 136.3 L341.9 136.3 L341.4 136.3 L340.9 136.3 L340.4 136.3 L339.9 136.3 L339.4 136.3 L338.9 136.3 L338.4 136.3 L337.9 136.3 L337.4 136.3 L336.9 136.3 L336.4 136.3 L335.9 136.3 L335.4 136.3 L334.9 136.3 L334.4 136.3 L333.9 136.3 L333.4 136.3 L332.9 136.3 L332.4 136.3 L331.9 136.3 L331.4 136.3 L330.8 136.3 L330.3 136.3 L329.8 136.3 L329.3 136.3 L328.8 136.3 L328.3 136.3 L327.8 136.3 L327.3 136.3 L326.8 136.3 L326.3 136.3 L325.8 136.3 L325.3 136.3 L324.8 136.3 L324.3 136.2 L323.8 136.2 L323.3 136.2 L322.8 136.2 L322.3 136.2 L321.8 136.2 L321.3 136.2 L320.8 136.2 L320.3 136.2 L319.8 136.2 L319.3 136.2 L318.8 136.2 L318.3 136.2 L317.8 136.2 L317.3 136.2 L316.8 136.2 L316.3 136.2 L315.8 136.2 L315.3 136.2 L314.8 136.2 L314.3 136.2 L313.8 136.2 L313.3 136.2 L312.8 136.2 Z" fill="url(#g_cs2)" stroke="#b4b4b4" stroke-width="0.8"/>
<g fill="none" stroke="#bcbcbc" stroke-width="0.5"><circle cx="292" cy="134.2" r="0.9"/><circle cx="292.1" cy="135.8" r="0.9"/><circle cx="291.8" cy="135.1" r="0.9"/><circle cx="293.5" cy="139.8" r="0.9"/><circle cx="292.7" cy="131.3" r="0.9"/><circle cx="292.2" cy="136.7" r="0.9"/><circle cx="293.7" cy="137.4" r="0.9"/><circle cx="293.3" cy="133.7" r="0.9"/><circle cx="294.4" cy="134.7" r="0.9"/><circle cx="294.3" cy="136.8" r="0.9"/><circle cx="294.8" cy="139.2" r="0.9"/><circle cx="296.9" cy="134.1" r="0.9"/><circle cx="296.5" cy="132.8" r="0.9"/><circle cx="297.1" cy="137.9" r="0.9"/><circle cx="298.4" cy="139" r="0.9"/><circle cx="296.1" cy="135.3" r="0.9"/><circle cx="297.8" cy="131.6" r="0.9"/><circle cx="298.5" cy="138.8" r="0.9"/><circle cx="297.8" cy="135.6" r="0.9"/><circle cx="297.6" cy="138.2" r="0.9"/><circle cx="299.7" cy="135.9" r="0.9"/><circle cx="298.5" cy="135.2" r="0.9"/><circle cx="300.1" cy="135" r="0.9"/><circle cx="299.2" cy="138.9" r="0.9"/><circle cx="299.2" cy="138.8" r="0.9"/><circle cx="299.5" cy="131.7" r="0.9"/><circle cx="299.6" cy="134.1" r="0.9"/><circle cx="300.9" cy="139.5" r="0.9"/><circle cx="300.7" cy="135.2" r="0.9"/><circle cx="300.7" cy="133.2" r="0.9"/><circle cx="301" cy="135.9" r="0.9"/><circle cx="301.8" cy="135.7" r="0.9"/><circle cx="301.8" cy="135.7" r="0.9"/><circle cx="300.9" cy="135" r="0.9"/><circle cx="301.9" cy="135.3" r="0.9"/><circle cx="303.3" cy="135" r="0.9"/><circle cx="302.8" cy="136.6" r="0.9"/><circle cx="303.1" cy="134.3" r="0.9"/><circle cx="302.9" cy="135.3" r="0.9"/><circle cx="303.9" cy="135.6" r="0.9"/><circle cx="304.5" cy="138.5" r="0.9"/><circle cx="305" cy="136.7" r="0.9"/><circle cx="304.5" cy="135.7" r="0.9"/><circle cx="305.9" cy="137" r="0.9"/><circle cx="304.6" cy="136.7" r="0.9"/><circle cx="306.9" cy="138.1" r="0.9"/><circle cx="305.8" cy="136.9" r="0.9"/><circle cx="305.7" cy="139.5" r="0.9"/><circle cx="305.4" cy="138.6" r="0.9"/><circle cx="304.2" cy="135.8" r="0.9"/><circle cx="306.1" cy="135.1" r="0.9"/><circle cx="306.3" cy="137.6" r="0.9"/><circle cx="307.4" cy="136.9" r="0.9"/><circle cx="306.3" cy="135.7" r="0.9"/><circle cx="308.5" cy="133" r="0.9"/><circle cx="307.4" cy="132.3" r="0.9"/><circle cx="310" cy="136.6" r="0.9"/><circle cx="308.9" cy="137.4" r="0.9"/><circle cx="310.9" cy="137.5" r="0.9"/><circle cx="311.1" cy="133.3" r="0.9"/><circle cx="313.2" cy="137.9" r="0.9"/><circle cx="313.2" cy="134.8" r="0.9"/><circle cx="312.5" cy="136.6" r="0.9"/><circle cx="314" cy="136.7" r="0.9"/><circle cx="314.7" cy="134.2" r="0.9"/><circle cx="315.8" cy="134.7" r="0.9"/><circle cx="316.3" cy="131.7" r="0.9"/><circle cx="316.5" cy="134" r="0.9"/><circle cx="317.1" cy="132.2" r="0.9"/><circle cx="316.8" cy="136.7" r="0.9"/><circle cx="316.9" cy="135.9" r="0.9"/><circle cx="318.7" cy="137.6" r="0.9"/><circle cx="318.5" cy="136.5" r="0.9"/><circle cx="318.3" cy="134.5" r="0.9"/><circle cx="318" cy="136.5" r="0.9"/><circle cx="318.9" cy="135" r="0.9"/><circle cx="319.6" cy="137" r="0.9"/><circle cx="319.5" cy="136.4" r="0.9"/><circle cx="319.6" cy="133.8" r="0.9"/><circle cx="321.4" cy="135.8" r="0.9"/><circle cx="320.8" cy="135.9" r="0.9"/><circle cx="320.7" cy="135.1" r="0.9"/><circle cx="320.6" cy="137.5" r="0.9"/><circle cx="321.1" cy="139.1" r="0.9"/><circle cx="322.2" cy="135" r="0.9"/><circle cx="322.7" cy="135" r="0.9"/><circle cx="322.3" cy="131.3" r="0.9"/><circle cx="322.6" cy="135.5" r="0.9"/><circle cx="322.6" cy="134.9" r="0.9"/><circle cx="322.2" cy="131.5" r="0.9"/><circle cx="323.9" cy="136.3" r="0.9"/><circle cx="324.1" cy="136.9" r="0.9"/><circle cx="325.6" cy="134.3" r="0.9"/><circle cx="324.3" cy="135" r="0.9"/><circle cx="324.8" cy="133.8" r="0.9"/><circle cx="326.2" cy="137.2" r="0.9"/><circle cx="326.6" cy="132.7" r="0.9"/><circle cx="326" cy="135" r="0.9"/><circle cx="326.5" cy="139.5" r="0.9"/><circle cx="327.3" cy="135.8" r="0.9"/><circle cx="327.6" cy="136.6" r="0.9"/><circle cx="327.7" cy="135.4" r="0.9"/><circle cx="328.5" cy="133.3" r="0.9"/><circle cx="329.3" cy="135.6" r="0.9"/><circle cx="329.8" cy="136.4" r="0.9"/><circle cx="330" cy="133.6" r="0.9"/><circle cx="330" cy="136.3" r="0.9"/><circle cx="330.8" cy="138.1" r="0.9"/><circle cx="331.9" cy="137.7" r="0.9"/><circle cx="331.4" cy="132.4" r="0.9"/><circle cx="332" cy="133.6" r="0.9"/><circle cx="331.7" cy="132.4" r="0.9"/><circle cx="331.3" cy="137.7" r="0.9"/><circle cx="332.2" cy="136.7" r="0.9"/><circle cx="333.7" cy="136.9" r="0.9"/><circle cx="333.6" cy="133.8" r="0.9"/><circle cx="334.5" cy="133.2" r="0.9"/><circle cx="333.8" cy="135.7" r="0.9"/><circle cx="334.9" cy="135.7" r="0.9"/><circle cx="336.1" cy="133.8" r="0.9"/><circle cx="336.4" cy="135.7" r="0.9"/><circle cx="335.5" cy="136.7" r="0.9"/><circle cx="335.9" cy="135.9" r="0.9"/><circle cx="336.7" cy="133.4" r="0.9"/><circle cx="336.4" cy="131.2" r="0.9"/><circle cx="338" cy="134.9" r="0.9"/><circle cx="339.4" cy="135.7" r="0.9"/><circle cx="339" cy="134.8" r="0.9"/><circle cx="340.5" cy="134.5" r="0.9"/><circle cx="339.7" cy="133.9" r="0.9"/><circle cx="339.8" cy="136.7" r="0.9"/><circle cx="340.1" cy="135.2" r="0.9"/><circle cx="340" cy="135.5" r="0.9"/><circle cx="340.9" cy="133.4" r="0.9"/><circle cx="341" cy="134" r="0.9"/><circle cx="342.2" cy="135.6" r="0.9"/><circle cx="341.7" cy="133.3" r="0.9"/><circle cx="342.2" cy="132.7" r="0.9"/><circle cx="341.8" cy="134.6" r="0.9"/><circle cx="341.5" cy="137.6" r="0.9"/><circle cx="342.5" cy="135.6" r="0.9"/><circle cx="342.8" cy="138" r="0.9"/><circle cx="344" cy="134.9" r="0.9"/><circle cx="343.5" cy="134.5" r="0.9"/><circle cx="344.5" cy="132.4" r="0.9"/><circle cx="344.1" cy="134" r="0.9"/><circle cx="344.4" cy="138" r="0.9"/><circle cx="344.1" cy="135.8" r="0.9"/><circle cx="344.2" cy="136.6" r="0.9"/><circle cx="344.7" cy="136.5" r="0.9"/><circle cx="345.1" cy="135.1" r="0.9"/><circle cx="344.4" cy="134.7" r="0.9"/><circle cx="345.4" cy="135.3" r="0.9"/><circle cx="347" cy="136.4" r="0.9"/><circle cx="345.5" cy="135.9" r="0.9"/><circle cx="346" cy="136" r="0.9"/><circle cx="346.3" cy="135.2" r="0.9"/><circle cx="346.2" cy="133.4" r="0.9"/><circle cx="347.8" cy="134.4" r="0.9"/><circle cx="347.1" cy="133.1" r="0.9"/><circle cx="347.7" cy="136.9" r="0.9"/><circle cx="348.9" cy="130.7" r="0.9"/><circle cx="349.3" cy="134.4" r="0.9"/><circle cx="347.5" cy="139.6" r="0.9"/><circle cx="349" cy="134.1" r="0.9"/><circle cx="348.9" cy="132.6" r="0.9"/><circle cx="349.1" cy="134.7" r="0.9"/><circle cx="349.3" cy="137.3" r="0.9"/><circle cx="349.3" cy="134.4" r="0.9"/><circle cx="350.3" cy="136" r="0.9"/><circle cx="349.7" cy="134.9" r="0.9"/><circle cx="349.8" cy="134" r="0.9"/><circle cx="350.6" cy="140.9" r="0.9"/><circle cx="350.5" cy="134.8" r="0.9"/><circle cx="350.4" cy="133.6" r="0.9"/><circle cx="350.8" cy="133.6" r="0.9"/><circle cx="352.3" cy="135.3" r="0.9"/><circle cx="352.5" cy="135.3" r="0.9"/><circle cx="352.3" cy="136" r="0.9"/><circle cx="352.4" cy="134.6" r="0.9"/><circle cx="352.9" cy="131.5" r="0.9"/><circle cx="353" cy="135.3" r="0.9"/><circle cx="354" cy="133.6" r="0.9"/><circle cx="354.1" cy="133.7" r="0.9"/><circle cx="353" cy="131.2" r="0.9"/><circle cx="354.7" cy="133" r="0.9"/><circle cx="355.3" cy="132.6" r="0.9"/><circle cx="355.7" cy="133.9" r="0.9"/><circle cx="355" cy="131.1" r="0.9"/><circle cx="356.5" cy="134.1" r="0.9"/><circle cx="355.4" cy="134.2" r="0.9"/><circle cx="355.5" cy="131.7" r="0.9"/><circle cx="355.6" cy="132.6" r="0.9"/><circle cx="356.7" cy="132.1" r="0.9"/><circle cx="357.6" cy="135.5" r="0.9"/><circle cx="358.4" cy="128.6" r="0.9"/><circle cx="359" cy="132.6" r="0.9"/><circle cx="358.2" cy="130" r="0.9"/><circle cx="359" cy="132.3" r="0.9"/><circle cx="359.1" cy="134.8" r="0.9"/><circle cx="360" cy="131.7" r="0.9"/><circle cx="359.3" cy="133.2" r="0.9"/><circle cx="360.9" cy="131.1" r="0.9"/><circle cx="361.5" cy="136.6" r="0.9"/><circle cx="361.1" cy="134.5" r="0.9"/><circle cx="361.5" cy="134.9" r="0.9"/><circle cx="361.2" cy="129.8" r="0.9"/><circle cx="361.1" cy="130.2" r="0.9"/><circle cx="362.6" cy="134.2" r="0.9"/><circle cx="363.7" cy="131.6" r="0.9"/><circle cx="364.1" cy="131.2" r="0.9"/><circle cx="363.6" cy="132.3" r="0.9"/><circle cx="364.6" cy="129.1" r="0.9"/><circle cx="363.8" cy="133.1" r="0.9"/><circle cx="365.2" cy="131.4" r="0.9"/><circle cx="364.9" cy="132.1" r="0.9"/><circle cx="364.4" cy="129.8" r="0.9"/><circle cx="365.2" cy="132.1" r="0.9"/><circle cx="364.6" cy="129.5" r="0.9"/><circle cx="364.5" cy="132.8" r="0.9"/><circle cx="364.9" cy="132.7" r="0.9"/><circle cx="366.3" cy="132" r="0.9"/><circle cx="367.2" cy="130.3" r="0.9"/><circle cx="367.6" cy="130.1" r="0.9"/><circle cx="367.4" cy="123.1" r="0.9"/><circle cx="368.6" cy="130.3" r="0.9"/><circle cx="367.7" cy="127.8" r="0.9"/><circle cx="367.9" cy="128.1" r="0.9"/><circle cx="369.3" cy="126.9" r="0.9"/><circle cx="370.2" cy="123.2" r="0.9"/><circle cx="369.6" cy="125" r="0.9"/><circle cx="368.5" cy="127.5" r="0.9"/><circle cx="369.8" cy="128.1" r="0.9"/><circle cx="371.1" cy="121.8" r="0.9"/><circle cx="370.9" cy="120.6" r="0.9"/><circle cx="371.9" cy="126.6" r="0.9"/><circle cx="370.5" cy="119.4" r="0.9"/><circle cx="371.8" cy="127.2" r="0.9"/><circle cx="372.4" cy="116.5" r="0.9"/><circle cx="373.7" cy="112.7" r="0.9"/><circle cx="372.9" cy="118.9" r="0.9"/><circle cx="373.6" cy="121.3" r="0.9"/><circle cx="373.3" cy="106.2" r="0.9"/><circle cx="373" cy="117.5" r="0.9"/><circle cx="373.3" cy="109.6" r="0.9"/><circle cx="373.7" cy="116" r="0.9"/><circle cx="373.6" cy="107.7" r="0.9"/><circle cx="375.1" cy="101.2" r="0.9"/><circle cx="375.7" cy="106.9" r="0.9"/><circle cx="375.4" cy="107.1" r="0.9"/><circle cx="374.7" cy="112" r="0.9"/><circle cx="376.7" cy="100.3" r="0.9"/><circle cx="376.6" cy="92.9" r="0.9"/><circle cx="378" cy="86.6" r="0.9"/><circle cx="378.1" cy="79.1" r="0.9"/><circle cx="378.9" cy="75.7" r="0.9"/><circle cx="378.7" cy="71.7" r="0.9"/><circle cx="378" cy="72.2" r="0.9"/><circle cx="379" cy="63.7" r="0.9"/><circle cx="379.1" cy="71.6" r="0.9"/><circle cx="380" cy="70.9" r="0.9"/><circle cx="380.1" cy="76.7" r="0.9"/><circle cx="379.7" cy="71.9" r="0.9"/><circle cx="380.1" cy="68.7" r="0.9"/><circle cx="381.4" cy="70.7" r="0.9"/><circle cx="379.9" cy="66.9" r="0.9"/><circle cx="380" cy="68.2" r="0.9"/><circle cx="381.2" cy="65.7" r="0.9"/><circle cx="381.3" cy="73.5" r="0.9"/><circle cx="381.7" cy="72.1" r="0.9"/><circle cx="382.7" cy="68.9" r="0.9"/><circle cx="383.6" cy="72" r="0.9"/><circle cx="382.2" cy="76.5" r="0.9"/><circle cx="383.7" cy="76.3" r="0.9"/><circle cx="384.3" cy="77.7" r="0.9"/><circle cx="384.3" cy="74.6" r="0.9"/><circle cx="384.3" cy="75.2" r="0.9"/><circle cx="384.5" cy="78" r="0.9"/><circle cx="385.3" cy="80.3" r="0.9"/><circle cx="384.7" cy="76.3" r="0.9"/><circle cx="385" cy="75.7" r="0.9"/><circle cx="385.5" cy="83" r="0.9"/><circle cx="385.6" cy="77.6" r="0.9"/><circle cx="386.1" cy="84.1" r="0.9"/><circle cx="386.9" cy="82.4" r="0.9"/><circle cx="386.4" cy="83.8" r="0.9"/><circle cx="386.6" cy="85.5" r="0.9"/><circle cx="387.9" cy="80.2" r="0.9"/><circle cx="387.5" cy="80.2" r="0.9"/><circle cx="389.2" cy="28.3" r="0.9"/><circle cx="389.8" cy="14.5" r="0.9"/><circle cx="390.6" cy="31.8" r="0.9"/><circle cx="391.3" cy="17" r="0.9"/><circle cx="391.2" cy="19.4" r="0.9"/><circle cx="392.1" cy="26.5" r="0.9"/><circle cx="392.5" cy="18" r="0.9"/><circle cx="392.3" cy="36.3" r="0.9"/><circle cx="394.6" cy="48.9" r="0.9"/><circle cx="393.7" cy="40" r="0.9"/><circle cx="394" cy="45.7" r="0.9"/><circle cx="395.2" cy="44.3" r="0.9"/><circle cx="394.7" cy="69.2" r="0.9"/><circle cx="395.4" cy="64.7" r="0.9"/><circle cx="397.7" cy="88.9" r="0.9"/><circle cx="396.1" cy="77.9" r="0.9"/><circle cx="397.5" cy="106.3" r="0.9"/><circle cx="398.4" cy="96" r="0.9"/><circle cx="397.3" cy="107.9" r="0.9"/><circle cx="397.9" cy="93.3" r="0.9"/><circle cx="398.3" cy="101.2" r="0.9"/><circle cx="399.8" cy="112.6" r="0.9"/><circle cx="398.3" cy="105.6" r="0.9"/><circle cx="399.3" cy="114" r="0.9"/><circle cx="399.8" cy="111.5" r="0.9"/><circle cx="399.7" cy="105.9" r="0.9"/><circle cx="399" cy="117.3" r="0.9"/><circle cx="400" cy="118" r="0.9"/><circle cx="400.6" cy="116.5" r="0.9"/><circle cx="401.1" cy="123.4" r="0.9"/><circle cx="401.5" cy="119" r="0.9"/><circle cx="401.5" cy="118.6" r="0.9"/><circle cx="401.6" cy="123.5" r="0.9"/><circle cx="401.8" cy="122.6" r="0.9"/><circle cx="401.1" cy="131.7" r="0.9"/><circle cx="402" cy="121.9" r="0.9"/><circle cx="404" cy="132.5" r="0.9"/><circle cx="403.9" cy="133.5" r="0.9"/><circle cx="404.4" cy="127" r="0.9"/><circle cx="403.9" cy="127.6" r="0.9"/><circle cx="405.5" cy="133.3" r="0.9"/><circle cx="405.9" cy="130.9" r="0.9"/><circle cx="405.4" cy="134.6" r="0.9"/><circle cx="406.4" cy="136.9" r="0.9"/><circle cx="406.2" cy="133.9" r="0.9"/><circle cx="407.6" cy="133" r="0.9"/><circle cx="407.7" cy="130.2" r="0.9"/><circle cx="408.3" cy="137.1" r="0.9"/><circle cx="408.4" cy="135.1" r="0.9"/><circle cx="408.8" cy="137.8" r="0.9"/><circle cx="408.5" cy="137.9" r="0.9"/><circle cx="409.5" cy="134.6" r="0.9"/><circle cx="409" cy="141.2" r="0.9"/><circle cx="409.9" cy="140" r="0.9"/><circle cx="410.6" cy="140.2" r="0.9"/><circle cx="411.2" cy="136.1" r="0.9"/><circle cx="410.5" cy="137.7" r="0.9"/><circle cx="411.3" cy="137.5" r="0.9"/><circle cx="410.6" cy="138" r="0.9"/><circle cx="411.6" cy="136.6" r="0.9"/><circle cx="411.5" cy="140" r="0.9"/><circle cx="412.1" cy="139.8" r="0.9"/><circle cx="412.4" cy="140.3" r="0.9"/><circle cx="413.3" cy="138.7" r="0.9"/><circle cx="412" cy="142.6" r="0.9"/><circle cx="413.5" cy="140.4" r="0.9"/><circle cx="412.5" cy="134.6" r="0.9"/><circle cx="414.6" cy="139" r="0.9"/><circle cx="412.9" cy="140.3" r="0.9"/><circle cx="414.6" cy="142.7" r="0.9"/><circle cx="414.4" cy="140.3" r="0.9"/><circle cx="417" cy="140.6" r="0.9"/><circle cx="415.3" cy="139.8" r="0.9"/><circle cx="416.2" cy="142.4" r="0.9"/><circle cx="416" cy="140.3" r="0.9"/><circle cx="415.8" cy="140.2" r="0.9"/><circle cx="417.7" cy="140.2" r="0.9"/><circle cx="419" cy="142.9" r="0.9"/><circle cx="418.5" cy="140.8" r="0.9"/><circle cx="419.3" cy="138.6" r="0.9"/><circle cx="418.6" cy="143.2" r="0.9"/><circle cx="419.2" cy="140.6" r="0.9"/><circle cx="419.2" cy="142.8" r="0.9"/><circle cx="419.7" cy="142.8" r="0.9"/><circle cx="421.1" cy="144.6" r="0.9"/><circle cx="421.1" cy="144.5" r="0.9"/><circle cx="421.2" cy="141.3" r="0.9"/><circle cx="420.9" cy="142.1" r="0.9"/><circle cx="421.2" cy="140" r="0.9"/><circle cx="422.6" cy="145.9" r="0.9"/><circle cx="421.4" cy="143.5" r="0.9"/></g>
<path d="M291.7 136.2 L292.2 136.2 L292.7 136.2 L293.2 136.2 L293.7 136.2 L294.2 136.2 L294.7 136.2 L295.2 136.2 L295.7 136.2 L296.2 136.2 L296.7 136.2 L297.2 136.2 L297.7 136.2 L298.2 136.2 L298.7 136.2 L299.2 136.2 L299.7 136.2 L300.2 136.2 L300.7 136.2 L301.2 136.2 L301.7 136.2 L302.2 136.2 L302.7 136.2 L303.2 136.2 L303.7 136.2 L304.2 136.2 L304.8 136.2 L305.3 136.2 L305.8 136.2 L306.3 136.2 L306.8 136.2 L307.3 136.2 L307.8 136.2 L308.3 136.2 L308.8 136.2 L309.3 136.2 L309.8 136.2 L310.3 136.2 L310.8 136.2 L311.3 136.2 L311.8 136.2 L312.3 136.2 L312.8 136.2 L313.3 136.2 L313.8 136.2 L314.3 136.2 L314.8 136.2 L315.3 136.2 L315.8 136.2 L316.3 136.2 L316.8 136.2 L317.3 136.2 L317.8 136.2 L318.3 136.2 L318.8 136.2 L319.3 136.2 L319.8 136.2 L320.3 136.2 L320.8 136.2 L321.3 136.2 L321.8 136.2 L322.3 136.2 L322.8 136.2 L323.3 136.2 L323.8 136.2 L324.3 136.2 L324.8 136.3 L325.3 136.3 L325.8 136.3 L326.3 136.3 L326.8 136.3 L327.3 136.3 L327.8 136.3 L328.3 136.3 L328.8 136.3 L329.3 136.3 L329.8 136.3 L330.3 136.3 L330.8 136.3 L331.4 136.3 L331.9 136.3 L332.4 136.3 L332.9 136.3 L333.4 136.3 L333.9 136.3 L334.4 136.3 L334.9 136.3 L335.4 136.3 L335.9 136.3 L336.4 136.3 L336.9 136.3 L337.4 136.3 L337.9 136.3 L338.4 136.3 L338.9 136.3 L339.4 136.3 L339.9 136.3 L340.4 136.3 L340.9 136.3 L341.4 136.3 L341.9 136.3 L342.4 136.3 L342.9 136.3 L343.4 136.3 L343.9 136.3 L344.4 136.3 L344.9 136.3 L345.4 136.3 L345.9 136.3 L346.4 136.3 L346.9 136.3 L347.4 136.3 L347.9 136.3 L348.4 136.3 L348.9 136.3 L349.4 136.4 L349.9 136.4 L350.4 136.4 L350.9 136.4 L351.4 136.4 L351.9 136.4 L352.4 136.4 L352.9 136.4 L353.4 136.4 L353.9 136.4 L354.4 136.4 L354.9 136.4 L355.4 136.4 L355.9 136.4 L356.4 136.4 L356.9 136.4 L357.5 136.4 L358 136.4 L358.5 136.4 L359 136.4 L359.5 136.5 L360 136.5 L360.5 136.5 L361 136.5 L361.5 136.5 L362 136.5 L362.5 136.5 L363 136.5 L363.5 136.5 L364 136.5 L364.5 136.5 L365 136.6 L365.5 136.6 L366 136.6 L366.5 136.6 L367 136.6 L367.5 136.6 L368 136.6 L368.5 136.7 L369 136.7 L369.5 136.7 L370 136.7 L370.5 136.8 L371 136.8 L371.5 136.8 L372 136.8 L372.5 136.9 L373 136.9 L373.5 137 L374 137 L374.5 137.1 L375 137.2 L375.5 137.2 L376 137.3 L376.5 137.4 L377 137.5 L377.5 137.6 L378 137.7 L378.5 137.9 L379 138 L379.5 138.1 L380 138.3 L380.5 138.4 L381 138.6 L381.5 138.7 L382 138.9 L382.5 139 L383 139.2 L383.6 139.3 L384.1 139.4 L384.6 139.5 L385.1 139.6 L385.6 139.8 L386.1 139.9 L386.6 140 L387.1 140.1 L387.6 140.2 L388.1 140.3 L388.6 140.5 L389.1 140.6 L389.6 140.8 L390.1 141 L390.6 141.2 L391.1 141.5 L391.6 141.8 L392.1 142.1 L392.6 142.3 L393.1 142.6 L393.6 142.9 L394.1 143.1 L394.6 143.3 L395.1 143.5 L395.6 143.7 L396.1 143.8 L396.6 144 L397.1 144.1 L397.6 144.2 L398.1 144.3 L398.6 144.4 L399.1 144.5 L399.6 144.6 L400.1 144.6 L400.6 144.7 L401.1 144.7 L401.6 144.8 L402.1 144.8 L402.6 144.9 L403.1 144.9 L403.6 144.9 L404.1 145 L404.6 145 L405.1 145 L405.6 145.1 L406.1 145.1 L406.6 145.1 L407.1 145.1 L407.6 145.2 L408.1 145.2 L408.6 145.2 L409.1 145.2 L409.7 145.2 L410.2 145.2 L410.7 145.3 L411.2 145.3 L411.7 145.3 L412.2 145.3 L412.7 145.3 L413.2 145.3 L413.7 145.3 L414.2 145.4 L414.7 145.4 L415.2 145.4 L415.7 145.4 L416.2 145.4 L416.7 145.4 L417.2 145.4 L417.7 145.4 L418.2 145.4 L418.7 145.4 L419.2 145.5 L419.7 145.5 L420.2 145.5 L420.7 145.5 L421.2 145.5 L421.7 145.5 L422.2 145.5" fill="none" stroke="#b8b8b8" stroke-width="0.9"/>
<path d="M291.7 136 L292.2 136 L292.7 136 L293.2 136 L293.7 136 L294.2 136 L294.7 136 L295.2 136 L295.7 136 L296.2 136 L296.7 136 L297.2 136 L297.7 135.9 L298.2 135.9 L298.7 135.9 L299.2 135.9 L299.7 135.9 L300.2 135.9 L300.7 135.9 L301.2 135.9 L301.7 135.9 L302.2 135.9 L302.7 135.9 L303.2 135.9 L303.7 135.9 L304.2 135.9 L304.8 135.9 L305.3 135.9 L305.8 135.9 L306.3 135.9 L306.8 135.9 L307.3 135.9 L307.8 135.9 L308.3 135.9 L308.8 135.9 L309.3 135.9 L309.8 135.9 L310.3 135.9 L310.8 135.9 L311.3 135.9 L311.8 135.9 L312.3 135.9 L312.8 135.8 L313.3 135.8 L313.8 135.8 L314.3 135.8 L314.8 135.8 L315.3 135.8 L315.8 135.8 L316.3 135.8 L316.8 135.8 L317.3 135.8 L317.8 135.8 L318.3 135.8 L318.8 135.8 L319.3 135.8 L319.8 135.8 L320.3 135.8 L320.8 135.8 L321.3 135.8 L321.8 135.7 L322.3 135.7 L322.8 135.7 L323.3 135.7 L323.8 135.7 L324.3 135.7 L324.8 135.7 L325.3 135.7 L325.8 135.7 L326.3 135.7 L326.8 135.7 L327.3 135.7 L327.8 135.7 L328.3 135.6 L328.8 135.6 L329.3 135.6 L329.8 135.6 L330.3 135.6 L330.8 135.6 L331.4 135.6 L331.9 135.6 L332.4 135.6 L332.9 135.5 L333.4 135.5 L333.9 135.5 L334.4 135.5 L334.9 135.5 L335.4 135.5 L335.9 135.5 L336.4 135.4 L336.9 135.4 L337.4 135.4 L337.9 135.4 L338.4 135.4 L338.9 135.3 L339.4 135.3 L339.9 135.3 L340.4 135.3 L340.9 135.3 L341.4 135.2 L341.9 135.2 L342.4 135.2 L342.9 135.2 L343.4 135.1 L343.9 135.1 L344.4 135.1 L344.9 135.1 L345.4 135 L345.9 135 L346.4 135 L346.9 134.9 L347.4 134.9 L347.9 134.9 L348.4 134.8 L348.9 134.8 L349.4 134.7 L349.9 134.7 L350.4 134.6 L350.9 134.6 L351.4 134.5 L351.9 134.5 L352.4 134.4 L352.9 134.4 L353.4 134.3 L353.9 134.2 L354.4 134.2 L354.9 134.1 L355.4 134 L355.9 133.9 L356.4 133.8 L356.9 133.7 L357.5 133.6 L358 133.5 L358.5 133.4 L359 133.3 L359.5 133.2 L360 133 L360.5 132.9 L361 132.7 L361.5 132.6 L362 132.4 L362.5 132.2 L363 132 L363.5 131.8 L364 131.5 L364.5 131.3 L365 131 L365.5 130.6 L366 130.3 L366.5 129.9 L367 129.4 L367.5 128.9 L368 128.3 L368.5 127.7 L369 126.9 L369.5 126.1 L370 125.1 L370.5 123.9 L371 122.7 L371.5 121.2 L372 119.5 L372.5 117.6 L373 115.4 L373.5 113 L374 110.3 L374.5 107.3 L375 104 L375.5 100.5 L376 96.8 L376.5 92.9 L377 88.9 L377.5 84.8 L378 81 L378.5 77.4 L379 74.3 L379.5 71.9 L380 70.2 L380.5 69.4 L381 69.3 L381.5 69.9 L382 71 L382.5 72.2 L383 73.5 L383.6 74.8 L384.1 76 L384.6 77.3 L385.1 78.7 L385.6 80.3 L386.1 81.6 L386.6 82.1 L387.1 81.5 L387.6 79.1 L388.1 74.6 L388.6 67.8 L389.1 58.5 L389.6 46.9 L390.1 33.9 L390.6 21.6 L391.1 13.1 L391.6 11.5 L392.1 14.8 L392.6 20.9 L393.1 28.8 L393.6 37.8 L394.1 47.1 L394.6 56.3 L395.1 65.1 L395.6 73.3 L396.1 80.8 L396.6 87.7 L397.1 93.8 L397.6 99.3 L398.1 104.1 L398.6 108.3 L399.1 112 L399.6 115.3 L400.1 118.1 L400.6 120.6 L401.1 122.7 L401.6 124.6 L402.1 126.3 L402.6 127.7 L403.1 129 L403.6 130.2 L404.1 131.2 L404.6 132.1 L405.1 132.9 L405.6 133.7 L406.1 134.4 L406.6 135 L407.1 135.6 L407.6 136.1 L408.1 136.6 L408.6 137.1 L409.1 137.5 L409.7 137.9 L410.2 138.2 L410.7 138.6 L411.2 138.9 L411.7 139.2 L412.2 139.4 L412.7 139.7 L413.2 140 L413.7 140.2 L414.2 140.4 L414.7 140.6 L415.2 140.8 L415.7 141 L416.2 141.1 L416.7 141.3 L417.2 141.5 L417.7 141.6 L418.2 141.7 L418.7 141.9 L419.2 142 L419.7 142.1 L420.2 142.2 L420.7 142.3 L421.2 142.4 L421.7 142.5 L422.2 142.6" fill="none" stroke="#a8a8a8" stroke-width="1.2"/>
</g>
<clipPath id="clipb1"><rect x="423" y="1" width="128.9" height="159"/></clipPath>
<g clip-path="url(#clipb1)">
<path d="M422.2 138.2 L422.7 138.2 L423.2 138.2 L423.7 138.2 L424.2 138.2 L424.7 138.2 L425.2 138.1 L425.7 138.1 L426.2 138.1 L426.7 138.1 L427.2 138.1 L427.7 138.1 L428.2 138.1 L428.7 138.1 L429.2 138.1 L429.7 138.1 L430.2 138.1 L430.7 138 L431.2 138 L431.7 138 L432.2 138 L432.7 138 L433.2 138 L433.7 138 L434.2 137.9 L434.7 137.9 L435.2 137.9 L435.8 137.9 L436.3 137.9 L436.8 137.8 L437.3 137.8 L437.8 137.8 L438.3 137.8 L438.8 137.7 L439.3 137.7 L439.8 137.7 L440.3 137.6 L440.8 137.6 L441.3 137.5 L441.8 137.5 L442.3 137.4 L442.8 137.4 L443.3 137.3 L443.8 137.2 L444.3 137.1 L444.8 137.1 L445.3 137 L445.8 136.9 L446.3 136.7 L446.8 136.6 L447.3 136.5 L447.8 136.3 L448.3 136.1 L448.8 136 L449.3 135.8 L449.8 135.5 L450.3 135.3 L450.8 135.1 L451.3 134.8 L451.8 134.5 L452.3 134.2 L452.8 133.8 L453.3 133.4 L453.8 133.1 L454.3 132.6 L454.8 132.2 L455.3 131.7 L455.8 131.2 L456.3 130.7 L456.8 130.2 L457.3 129.6 L457.8 129 L458.3 128.4 L458.8 127.7 L459.3 127 L459.8 126.3 L460.3 125.6 L460.8 124.9 L461.3 124.2 L461.9 123.4 L462.4 122.7 L462.9 121.9 L463.4 121.2 L463.9 120.4 L464.4 119.7 L464.9 119 L465.4 118.3 L465.9 117.6 L466.4 116.9 L466.9 116.3 L467.4 115.7 L467.9 115.2 L468.4 114.7 L468.9 114.3 L469.4 114 L469.9 113.7 L470.4 113.5 L470.9 113.3 L471.4 113.3 L471.9 113.3 L472.4 113.4 L472.9 113.6 L473.4 113.9 L473.9 114.2 L474.4 114.6 L474.9 115.1 L475.4 115.6 L475.9 116.2 L476.4 116.8 L476.9 117.5 L477.4 118.2 L477.9 119 L478.4 119.7 L478.9 120.5 L479.4 121.3 L479.9 122.2 L480.4 123 L480.9 123.8 L481.4 124.6 L481.9 125.4 L482.4 126.2 L482.9 127 L483.4 127.8 L483.9 128.5 L484.4 129.3 L484.9 130 L485.4 130.7 L485.9 131.3 L486.4 132 L486.9 132.6 L487.4 133.1 L488 133.7 L488.5 134.2 L489 134.7 L489.5 135.2 L490 135.6 L490.5 136 L491 136.4 L491.5 136.7 L492 137.1 L492.5 137.4 L493 137.7 L493.5 138 L494 138.2 L494.5 138.4 L495 138.6 L495.5 138.8 L496 139 L496.5 139.2 L497 139.4 L497.5 139.5 L498 139.6 L498.5 139.8 L499 139.9 L499.5 140 L500 140.1 L500.5 140.2 L501 140.3 L501.5 140.4 L502 140.4 L502.5 140.5 L503 140.6 L503.5 140.7 L504 140.8 L504.5 140.8 L505 140.9 L505.5 141 L506 141.1 L506.5 141.2 L507 141.3 L507.5 141.4 L508 141.5 L508.5 141.7 L509 141.8 L509.5 141.9 L510 142.1 L510.5 142.2 L511 142.4 L511.5 142.5 L512 142.7 L512.5 142.9 L513 143 L513.5 143.2 L514.1 143.3 L514.6 143.4 L515.1 143.6 L515.6 143.7 L516.1 143.8 L516.6 143.9 L517.1 144 L517.6 144.1 L518.1 144.2 L518.6 144.3 L519.1 144.4 L519.6 144.5 L520.1 144.6 L520.6 144.8 L521.1 144.9 L521.6 145.1 L522.1 145.3 L522.6 145.5 L523.1 145.7 L523.6 145.9 L524.1 146.2 L524.6 146.4 L525.1 146.6 L525.6 146.8 L526.1 147 L526.6 147.2 L527.1 147.4 L527.6 147.5 L528.1 147.6 L528.6 147.8 L529.1 147.9 L529.6 148 L530.1 148 L530.6 148.1 L531.1 148.2 L531.6 148.3 L532.1 148.3 L532.6 148.4 L533.1 148.4 L533.6 148.5 L534.1 148.5 L534.6 148.5 L535.1 148.6 L535.6 148.6 L535.6 148.9 L535.1 148.8 L534.6 148.8 L534.1 148.8 L533.6 148.7 L533.1 148.7 L532.6 148.6 L532.1 148.6 L531.6 148.5 L531.1 148.5 L530.6 148.4 L530.1 148.3 L529.6 148.3 L529.1 148.2 L528.6 148.1 L528.1 148 L527.6 147.8 L527.1 147.7 L526.6 147.5 L526.1 147.4 L525.6 147.2 L525.1 147 L524.6 146.8 L524.1 146.5 L523.6 146.3 L523.1 146.1 L522.6 145.9 L522.1 145.6 L521.6 145.5 L521.1 145.3 L520.6 145.2 L520.1 145.1 L519.6 144.9 L519.1 144.8 L518.6 144.8 L518.1 144.7 L517.6 144.6 L517.1 144.5 L516.6 144.4 L516.1 144.3 L515.6 144.2 L515.1 144.1 L514.6 144 L514.1 143.9 L513.5 143.7 L513 143.6 L512.5 143.5 L512 143.3 L511.5 143.2 L511 143 L510.5 142.9 L510 142.7 L509.5 142.6 L509 142.5 L508.5 142.4 L508 142.3 L507.5 142.2 L507 142.1 L506.5 142 L506 142 L505.5 141.9 L505 141.8 L504.5 141.8 L504 141.7 L503.5 141.7 L503 141.7 L502.5 141.6 L502 141.6 L501.5 141.6 L501 141.6 L500.5 141.5 L500 141.5 L499.5 141.5 L499 141.5 L498.5 141.5 L498 141.4 L497.5 141.4 L497 141.4 L496.5 141.4 L496 141.4 L495.5 141.4 L495 141.3 L494.5 141.3 L494 141.3 L493.5 141.3 L493 141.3 L492.5 141.3 L492 141.3 L491.5 141.2 L491 141.2 L490.5 141.2 L490 141.2 L489.5 141.2 L489 141.2 L488.5 141.1 L488 141.1 L487.4 141.1 L486.9 141.1 L486.4 141.1 L485.9 141 L485.4 141 L484.9 141 L484.4 141 L483.9 140.9 L483.4 140.9 L482.9 140.9 L482.4 140.9 L481.9 140.8 L481.4 140.8 L480.9 140.8 L480.4 140.7 L479.9 140.7 L479.4 140.6 L478.9 140.6 L478.4 140.6 L477.9 140.5 L477.4 140.5 L476.9 140.4 L476.4 140.4 L475.9 140.3 L475.4 140.3 L474.9 140.2 L474.4 140.2 L473.9 140.1 L473.4 140.1 L472.9 140 L472.4 140 L471.9 139.9 L471.4 139.9 L470.9 139.8 L470.4 139.8 L469.9 139.7 L469.4 139.7 L468.9 139.7 L468.4 139.6 L467.9 139.6 L467.4 139.5 L466.9 139.5 L466.4 139.4 L465.9 139.4 L465.4 139.3 L464.9 139.3 L464.4 139.3 L463.9 139.2 L463.4 139.2 L462.9 139.2 L462.4 139.1 L461.9 139.1 L461.3 139.1 L460.8 139.1 L460.3 139 L459.8 139 L459.3 139 L458.8 139 L458.3 138.9 L457.8 138.9 L457.3 138.9 L456.8 138.9 L456.3 138.9 L455.8 138.9 L455.3 138.8 L454.8 138.8 L454.3 138.8 L453.8 138.8 L453.3 138.8 L452.8 138.8 L452.3 138.8 L451.8 138.8 L451.3 138.8 L450.8 138.7 L450.3 138.7 L449.8 138.7 L449.3 138.7 L448.8 138.7 L448.3 138.7 L447.8 138.7 L447.3 138.7 L446.8 138.7 L446.3 138.7 L445.8 138.7 L445.3 138.7 L444.8 138.7 L444.3 138.7 L443.8 138.7 L443.3 138.7 L442.8 138.7 L442.3 138.7 L441.8 138.7 L441.3 138.7 L440.8 138.7 L440.3 138.7 L439.8 138.7 L439.3 138.7 L438.8 138.7 L438.3 138.7 L437.8 138.6 L437.3 138.6 L436.8 138.6 L436.3 138.6 L435.8 138.6 L435.2 138.6 L434.7 138.6 L434.2 138.6 L433.7 138.6 L433.2 138.6 L432.7 138.6 L432.2 138.6 L431.7 138.6 L431.2 138.6 L430.7 138.6 L430.2 138.6 L429.7 138.6 L429.2 138.6 L428.7 138.6 L428.2 138.6 L427.7 138.6 L427.2 138.6 L426.7 138.6 L426.2 138.6 L425.7 138.6 L425.2 138.6 L424.7 138.6 L424.2 138.6 L423.7 138.6 L423.2 138.6 L422.7 138.6 L422.2 138.6 Z" fill="url(#g_so3)" stroke="#b4b4b4" stroke-width="0.8"/>
<path d="M466.9 139.2 L467.4 139.3 L467.9 139.3 L468.4 139.3 L468.9 139.4 L469.4 139.4 L469.9 139.5 L470.4 139.5 L470.9 139.6 L471.4 139.6 L471.9 139.6 L472.4 139.7 L472.9 139.7 L473.4 139.8 L473.9 139.8 L474.4 139.9 L474.9 139.9 L475.4 139.9 L475.9 140 L476.4 140 L476.9 140.1 L477.4 140.1 L477.9 140.1 L478.4 140.2 L478.9 140.2 L479.4 140.2 L479.9 140.3 L480.4 140.3 L480.9 140.3 L481.4 140.3 L481.9 140.4 L482.4 140.4 L482.9 140.4 L483.4 140.4 L483.9 140.4 L484.4 140.4 L484.9 140.4 L485.4 140.5 L485.9 140.5 L486.4 140.5 L486.9 140.5 L487.4 140.5 L488 140.5 L488.5 140.5 L489 140.5 L489.5 140.5 L490 140.5 L490.5 140.5 L491 140.5 L491.5 140.5 L492 140.4 L492.5 140.4 L493 140.4 L493.5 140.4 L494 140.4 L494.5 140.4 L495 140.4 L495.5 140.3 L496 140.3 L496.5 140.3 L497 140.3 L497.5 140.2 L498 140.2 L498.5 140.2 L499 140.1 L499.5 140.1 L500 140.1 L500.5 140 L501 140 L501.5 139.9 L502 139.9 L502.5 139.8 L503 139.8 L503.5 139.7 L504 139.6 L504.5 139.6 L505 139.5 L505.5 139.4 L506 139.3 L506.5 139.3 L507 139.2 L507.5 139.1 L508 139 L508.5 138.8 L509 138.7 L509.5 138.6 L510 138.4 L510.5 138.2 L511 138 L511.5 137.7 L512 137.4 L512.5 137 L513 136.5 L513.5 135.9 L514.1 135.3 L514.6 134.5 L515.1 133.5 L515.6 132.3 L516.1 130.8 L516.6 129 L517.1 126.8 L517.6 123.9 L518.1 120.3 L518.6 115.8 L519.1 110 L519.6 102.8 L520.1 94 L520.6 83.3 L521.1 71 L521.6 57.4 L522.1 43.9 L522.6 32.7 L523.1 26.6 L523.6 26.6 L524.1 29.7 L524.6 35 L525.1 42.1 L525.6 50.2 L526.1 58.9 L526.6 67.5 L527.1 75.8 L527.6 83.5 L528.1 90.7 L528.6 97.1 L529.1 102.8 L529.6 107.9 L530.1 112.4 L530.6 116.3 L531.1 119.8 L531.6 122.8 L532.1 125.3 L532.6 127.6 L533.1 129.6 L533.6 131.3 L534.1 132.8 L534.6 134.1 L535.1 135.2 L535.6 136.3 L536.1 137.2 L536.6 138 L537.1 138.7 L537.6 139.4 L538.1 140 L538.6 140.6 L539.1 141.1 L539.6 141.5 L540.2 142 L540.7 142.4 L541.2 142.7 L541.7 143.1 L542.2 143.4 L542.7 143.7 L543.2 143.9 L543.7 144.2 L544.2 144.4 L544.7 144.6 L545.2 144.8 L545.7 145 L546.2 145.2 L546.7 145.4 L547.2 145.6 L547.7 145.7 L548.2 145.9 L548.7 146 L549.2 146.1 L549.7 146.2 L550.2 146.4 L550.7 146.5 L551.2 146.6 L551.7 146.7 L552.2 146.8 L552.7 146.9 L552.7 149.3 L552.2 149.3 L551.7 149.3 L551.2 149.3 L550.7 149.3 L550.2 149.3 L549.7 149.3 L549.2 149.2 L548.7 149.2 L548.2 149.2 L547.7 149.2 L547.2 149.2 L546.7 149.2 L546.2 149.2 L545.7 149.2 L545.2 149.2 L544.7 149.2 L544.2 149.2 L543.7 149.1 L543.2 149.1 L542.7 149.1 L542.2 149.1 L541.7 149.1 L541.2 149.1 L540.7 149.1 L540.2 149 L539.6 149 L539.1 149 L538.6 149 L538.1 149 L537.6 148.9 L537.1 148.9 L536.6 148.9 L536.1 148.9 L535.6 148.9 L535.1 148.8 L534.6 148.8 L534.1 148.8 L533.6 148.7 L533.1 148.7 L532.6 148.6 L532.1 148.6 L531.6 148.5 L531.1 148.5 L530.6 148.4 L530.1 148.3 L529.6 148.3 L529.1 148.2 L528.6 148.1 L528.1 148 L527.6 147.8 L527.1 147.7 L526.6 147.5 L526.1 147.4 L525.6 147.2 L525.1 147 L524.6 146.8 L524.1 146.5 L523.6 146.3 L523.1 146.1 L522.6 145.9 L522.1 145.6 L521.6 145.5 L521.1 145.3 L520.6 145.2 L520.1 145.1 L519.6 144.9 L519.1 144.8 L518.6 144.8 L518.1 144.7 L517.6 144.6 L517.1 144.5 L516.6 144.4 L516.1 144.3 L515.6 144.2 L515.1 144.1 L514.6 144 L514.1 143.9 L513.5 143.7 L513 143.6 L512.5 143.5 L512 143.3 L511.5 143.2 L511 143 L510.5 142.9 L510 142.7 L509.5 142.6 L509 142.5 L508.5 142.4 L508 142.3 L507.5 142.2 L507 142.1 L506.5 142 L506 142 L505.5 141.9 L505 141.8 L504.5 141.8 L504 141.7 L503.5 141.7 L503 141.7 L502.5 141.6 L502 141.6 L501.5 141.6 L501 141.6 L500.5 141.5 L500 141.5 L499.5 141.5 L499 141.5 L498.5 141.5 L498 141.4 L497.5 141.4 L497 141.4 L496.5 141.4 L496 141.4 L495.5 141.4 L495 141.3 L494.5 141.3 L494 141.3 L493.5 141.3 L493 141.3 L492.5 141.3 L492 141.3 L491.5 141.2 L491 141.2 L490.5 141.2 L490 141.2 L489.5 141.2 L489 141.2 L488.5 141.1 L488 141.1 L487.4 141.1 L486.9 141.1 L486.4 141.1 L485.9 141 L485.4 141 L484.9 141 L484.4 141 L483.9 140.9 L483.4 140.9 L482.9 140.9 L482.4 140.9 L481.9 140.8 L481.4 140.8 L480.9 140.8 L480.4 140.7 L479.9 140.7 L479.4 140.6 L478.9 140.6 L478.4 140.6 L477.9 140.5 L477.4 140.5 L476.9 140.4 L476.4 140.4 L475.9 140.3 L475.4 140.3 L474.9 140.2 L474.4 140.2 L473.9 140.1 L473.4 140.1 L472.9 140 L472.4 140 L471.9 139.9 L471.4 139.9 L470.9 139.8 L470.4 139.8 L469.9 139.7 L469.4 139.7 L468.9 139.7 L468.4 139.6 L467.9 139.6 L467.4 139.5 L466.9 139.5 Z" fill="url(#g_cs)" stroke="#b4b4b4" stroke-width="0.8"/>
<path d="M439.8 138.4 L440.3 138.4 L440.8 138.4 L441.3 138.4 L441.8 138.4 L442.3 138.4 L442.8 138.4 L443.3 138.4 L443.8 138.4 L444.3 138.4 L444.8 138.4 L445.3 138.4 L445.8 138.4 L446.3 138.4 L446.8 138.4 L447.3 138.4 L447.8 138.4 L448.3 138.4 L448.8 138.4 L449.3 138.4 L449.8 138.4 L450.3 138.4 L450.8 138.4 L451.3 138.4 L451.8 138.4 L452.3 138.4 L452.8 138.4 L453.3 138.4 L453.8 138.4 L454.3 138.4 L454.8 138.4 L455.3 138.4 L455.8 138.4 L456.3 138.4 L456.8 138.5 L457.3 138.5 L457.8 138.5 L458.3 138.5 L458.8 138.5 L459.3 138.5 L459.8 138.5 L460.3 138.5 L460.8 138.6 L461.3 138.6 L461.9 138.6 L462.4 138.6 L462.9 138.6 L463.4 138.6 L463.9 138.7 L464.4 138.7 L464.9 138.7 L465.4 138.7 L465.9 138.8 L466.4 138.8 L466.9 138.8 L467.4 138.9 L467.9 138.9 L468.4 138.9 L468.9 138.9 L469.4 139 L469.9 139 L470.4 139 L470.9 139.1 L471.4 139.1 L471.9 139.1 L472.4 139.2 L472.9 139.2 L473.4 139.2 L473.9 139.2 L474.4 139.3 L474.9 139.3 L475.4 139.3 L475.9 139.3 L476.4 139.4 L476.9 139.4 L477.4 139.4 L477.9 139.4 L478.4 139.4 L478.9 139.4 L479.4 139.4 L479.9 139.4 L480.4 139.4 L480.9 139.4 L481.4 139.4 L481.9 139.4 L482.4 139.4 L482.9 139.3 L483.4 139.3 L483.9 139.3 L484.4 139.2 L484.9 139.2 L485.4 139.2 L485.9 139.1 L486.4 139.1 L486.9 139 L487.4 138.9 L488 138.9 L488.5 138.8 L489 138.7 L489.5 138.6 L490 138.5 L490.5 138.4 L491 138.3 L491.5 138.2 L492 138 L492.5 137.9 L493 137.7 L493.5 137.5 L494 137.3 L494.5 137.1 L495 136.9 L495.5 136.7 L496 136.4 L496.5 136.1 L497 135.7 L497.5 135.3 L498 134.9 L498.5 134.4 L499 133.8 L499.5 133.2 L500 132.4 L500.5 131.6 L501 130.6 L501.5 129.4 L502 128 L502.5 126.5 L503 124.6 L503.5 122.6 L504 120.2 L504.5 117.5 L505 114.5 L505.5 111.1 L506 107.4 L506.5 103.4 L507 99 L507.5 94.5 L508 89.8 L508.5 85.1 L509 80.6 L509.5 76.6 L510 73.2 L510.5 70.8 L511 69.6 L511.5 69.7 L512 71.2 L512.5 73.8 L513 77.4 L513.5 81.7 L514.1 86.4 L514.6 91.3 L515.1 96.2 L515.6 101 L516.1 105.5 L516.6 109.7 L517.1 113.6 L517.6 117.1 L518.1 120.3 L518.6 123.1 L519.1 125.6 L519.6 127.8 L520.1 129.8 L520.6 131.5 L521.1 133.1 L521.6 134.4 L522.1 135.7 L522.6 136.8 L523.1 137.7 L523.6 138.7 L524.1 139.5 L524.6 140.2 L525.1 140.9 L525.6 141.5 L526.1 142 L526.6 142.5 L527.1 143 L527.6 143.4 L528.1 143.8 L528.6 144.1 L529.1 144.4 L529.6 144.7 L530.1 144.9 L530.6 145.2 L531.1 145.4 L531.6 145.6 L532.1 145.8 L532.6 146 L533.1 146.1 L533.6 146.3 L534.1 146.4 L534.6 146.5 L535.1 146.6 L535.6 146.8 L536.1 146.9 L536.6 147 L537.1 147.1 L537.6 147.2 L538.1 147.2 L538.6 147.3 L539.1 147.4 L539.6 147.5 L540.2 147.5 L540.7 147.6 L541.2 147.7 L541.7 147.7 L542.2 147.8 L542.7 147.8 L543.2 147.9 L543.7 147.9 L544.2 148 L544.7 148 L545.2 148.1 L545.7 148.1 L546.2 148.2 L546.7 148.2 L547.2 148.2 L547.7 148.3 L548.2 148.3 L548.7 148.3 L549.2 148.4 L549.7 148.4 L550.2 148.4 L550.7 148.5 L551.2 148.5 L551.7 148.5 L552.2 148.5 L552.7 148.6 L552.7 149.3 L552.2 149.3 L551.7 149.3 L551.2 149.3 L550.7 149.3 L550.2 149.3 L549.7 149.3 L549.2 149.2 L548.7 149.2 L548.2 149.2 L547.7 149.2 L547.2 149.2 L546.7 149.2 L546.2 149.2 L545.7 149.2 L545.2 149.2 L544.7 149.2 L544.2 149.2 L543.7 149.1 L543.2 149.1 L542.7 149.1 L542.2 149.1 L541.7 149.1 L541.2 149.1 L540.7 149.1 L540.2 149 L539.6 149 L539.1 149 L538.6 149 L538.1 149 L537.6 148.9 L537.1 148.9 L536.6 148.9 L536.1 148.9 L535.6 148.9 L535.1 148.8 L534.6 148.8 L534.1 148.8 L533.6 148.7 L533.1 148.7 L532.6 148.6 L532.1 148.6 L531.6 148.5 L531.1 148.5 L530.6 148.4 L530.1 148.3 L529.6 148.3 L529.1 148.2 L528.6 148.1 L528.1 148 L527.6 147.8 L527.1 147.7 L526.6 147.5 L526.1 147.4 L525.6 147.2 L525.1 147 L524.6 146.8 L524.1 146.5 L523.6 146.3 L523.1 146.1 L522.6 145.9 L522.1 145.6 L521.6 145.5 L521.1 145.3 L520.6 145.2 L520.1 145.1 L519.6 144.9 L519.1 144.8 L518.6 144.8 L518.1 144.7 L517.6 144.6 L517.1 144.5 L516.6 144.4 L516.1 144.3 L515.6 144.2 L515.1 144.1 L514.6 144 L514.1 143.9 L513.5 143.7 L513 143.6 L512.5 143.5 L512 143.3 L511.5 143.2 L511 143 L510.5 142.9 L510 142.7 L509.5 142.6 L509 142.5 L508.5 142.4 L508 142.3 L507.5 142.2 L507 142.1 L506.5 142 L506 142 L505.5 141.9 L505 141.8 L504.5 141.8 L504 141.7 L503.5 141.7 L503 141.7 L502.5 141.6 L502 141.6 L501.5 141.6 L501 141.6 L500.5 141.5 L500 141.5 L499.5 141.5 L499 141.5 L498.5 141.5 L498 141.4 L497.5 141.4 L497 141.4 L496.5 141.4 L496 141.4 L495.5 141.4 L495 141.3 L494.5 141.3 L494 141.3 L493.5 141.3 L493 141.3 L492.5 141.3 L492 141.3 L491.5 141.2 L491 141.2 L490.5 141.2 L490 141.2 L489.5 141.2 L489 141.2 L488.5 141.1 L488 141.1 L487.4 141.1 L486.9 141.1 L486.4 141.1 L485.9 141 L485.4 141 L484.9 141 L484.4 141 L483.9 140.9 L483.4 140.9 L482.9 140.9 L482.4 140.9 L481.9 140.8 L481.4 140.8 L480.9 140.8 L480.4 140.7 L479.9 140.7 L479.4 140.6 L478.9 140.6 L478.4 140.6 L477.9 140.5 L477.4 140.5 L476.9 140.4 L476.4 140.4 L475.9 140.3 L475.4 140.3 L474.9 140.2 L474.4 140.2 L473.9 140.1 L473.4 140.1 L472.9 140 L472.4 140 L471.9 139.9 L471.4 139.9 L470.9 139.8 L470.4 139.8 L469.9 139.7 L469.4 139.7 L468.9 139.7 L468.4 139.6 L467.9 139.6 L467.4 139.5 L466.9 139.5 L466.4 139.4 L465.9 139.4 L465.4 139.3 L464.9 139.3 L464.4 139.3 L463.9 139.2 L463.4 139.2 L462.9 139.2 L462.4 139.1 L461.9 139.1 L461.3 139.1 L460.8 139.1 L460.3 139 L459.8 139 L459.3 139 L458.8 139 L458.3 138.9 L457.8 138.9 L457.3 138.9 L456.8 138.9 L456.3 138.9 L455.8 138.9 L455.3 138.8 L454.8 138.8 L454.3 138.8 L453.8 138.8 L453.3 138.8 L452.8 138.8 L452.3 138.8 L451.8 138.8 L451.3 138.8 L450.8 138.7 L450.3 138.7 L449.8 138.7 L449.3 138.7 L448.8 138.7 L448.3 138.7 L447.8 138.7 L447.3 138.7 L446.8 138.7 L446.3 138.7 L445.8 138.7 L445.3 138.7 L444.8 138.7 L444.3 138.7 L443.8 138.7 L443.3 138.7 L442.8 138.7 L442.3 138.7 L441.8 138.7 L441.3 138.7 L440.8 138.7 L440.3 138.7 L439.8 138.7 Z" fill="url(#g_cs2)" stroke="#b4b4b4" stroke-width="0.8"/>
<g fill="none" stroke="#bcbcbc" stroke-width="0.5"><circle cx="423.3" cy="141.5" r="0.9"/><circle cx="422.9" cy="137" r="0.9"/><circle cx="422.2" cy="139.3" r="0.9"/><circle cx="422.7" cy="134.7" r="0.9"/><circle cx="424" cy="133.9" r="0.9"/><circle cx="424.6" cy="139" r="0.9"/><circle cx="423.4" cy="137.9" r="0.9"/><circle cx="424.4" cy="138.2" r="0.9"/><circle cx="424.3" cy="136.7" r="0.9"/><circle cx="424.9" cy="137.2" r="0.9"/><circle cx="425.1" cy="139.4" r="0.9"/><circle cx="424.1" cy="141.2" r="0.9"/><circle cx="423.4" cy="137.4" r="0.9"/><circle cx="424.6" cy="134.5" r="0.9"/><circle cx="425.8" cy="140.3" r="0.9"/><circle cx="425.3" cy="139" r="0.9"/><circle cx="425.5" cy="139.1" r="0.9"/><circle cx="427.4" cy="138.1" r="0.9"/><circle cx="425.4" cy="142.4" r="0.9"/><circle cx="427.1" cy="137.9" r="0.9"/><circle cx="427.6" cy="138.7" r="0.9"/><circle cx="428.1" cy="134" r="0.9"/><circle cx="428.3" cy="136.6" r="0.9"/><circle cx="429.2" cy="136.4" r="0.9"/><circle cx="427.7" cy="137.7" r="0.9"/><circle cx="428.1" cy="138.4" r="0.9"/><circle cx="427.6" cy="136.2" r="0.9"/><circle cx="429.1" cy="141.1" r="0.9"/><circle cx="428.6" cy="135.6" r="0.9"/><circle cx="429.4" cy="136.8" r="0.9"/><circle cx="428.7" cy="138.2" r="0.9"/><circle cx="429.9" cy="135.2" r="0.9"/><circle cx="431" cy="138.8" r="0.9"/><circle cx="430.3" cy="138.9" r="0.9"/><circle cx="430.8" cy="137.1" r="0.9"/><circle cx="431.2" cy="141.4" r="0.9"/><circle cx="430.9" cy="137.8" r="0.9"/><circle cx="430.4" cy="138.2" r="0.9"/><circle cx="432" cy="135.7" r="0.9"/><circle cx="431.7" cy="134.3" r="0.9"/><circle cx="433" cy="136.3" r="0.9"/><circle cx="431.5" cy="136.9" r="0.9"/><circle cx="432.3" cy="136.7" r="0.9"/><circle cx="432.2" cy="139.1" r="0.9"/><circle cx="433" cy="132.8" r="0.9"/><circle cx="436" cy="135.2" r="0.9"/><circle cx="435.7" cy="133.8" r="0.9"/><circle cx="435.4" cy="140.1" r="0.9"/><circle cx="436.1" cy="136.3" r="0.9"/><circle cx="436.7" cy="136.4" r="0.9"/><circle cx="436.2" cy="135.2" r="0.9"/><circle cx="436.8" cy="139.2" r="0.9"/><circle cx="436.8" cy="136.6" r="0.9"/><circle cx="435.8" cy="137.8" r="0.9"/><circle cx="437.5" cy="133.3" r="0.9"/><circle cx="439.2" cy="139.6" r="0.9"/><circle cx="438.9" cy="138" r="0.9"/><circle cx="439.3" cy="138.3" r="0.9"/><circle cx="439.7" cy="139.6" r="0.9"/><circle cx="439.8" cy="136.8" r="0.9"/><circle cx="440.8" cy="136.8" r="0.9"/><circle cx="440" cy="138.6" r="0.9"/><circle cx="440" cy="138" r="0.9"/><circle cx="438.8" cy="136.6" r="0.9"/><circle cx="441.1" cy="137.1" r="0.9"/><circle cx="440.3" cy="136" r="0.9"/><circle cx="440.5" cy="138.4" r="0.9"/><circle cx="442.6" cy="138.8" r="0.9"/><circle cx="442.6" cy="137" r="0.9"/><circle cx="441.2" cy="140.6" r="0.9"/><circle cx="443.5" cy="133.8" r="0.9"/><circle cx="443.4" cy="136.3" r="0.9"/><circle cx="442.8" cy="140.2" r="0.9"/><circle cx="443.9" cy="135.9" r="0.9"/><circle cx="444.1" cy="133.3" r="0.9"/><circle cx="444.4" cy="139.2" r="0.9"/><circle cx="444.9" cy="137.4" r="0.9"/><circle cx="446.1" cy="133.7" r="0.9"/><circle cx="448.1" cy="137.4" r="0.9"/><circle cx="446.9" cy="133.8" r="0.9"/><circle cx="447.2" cy="133" r="0.9"/><circle cx="447.4" cy="135.4" r="0.9"/><circle cx="448.3" cy="134.7" r="0.9"/><circle cx="448.1" cy="133.4" r="0.9"/><circle cx="448.9" cy="134.8" r="0.9"/><circle cx="448.1" cy="133.5" r="0.9"/><circle cx="447.7" cy="135.6" r="0.9"/><circle cx="448.6" cy="135.3" r="0.9"/><circle cx="449.1" cy="136.8" r="0.9"/><circle cx="448.5" cy="134.4" r="0.9"/><circle cx="449.8" cy="132.3" r="0.9"/><circle cx="450.8" cy="132.4" r="0.9"/><circle cx="449.5" cy="134.4" r="0.9"/><circle cx="450" cy="137.9" r="0.9"/><circle cx="450.8" cy="136.6" r="0.9"/><circle cx="450.6" cy="133.1" r="0.9"/><circle cx="450.6" cy="136.2" r="0.9"/><circle cx="450.6" cy="131.9" r="0.9"/><circle cx="451.7" cy="136.1" r="0.9"/><circle cx="451.8" cy="133.3" r="0.9"/><circle cx="452.6" cy="134.8" r="0.9"/><circle cx="452.8" cy="134.5" r="0.9"/><circle cx="453.5" cy="132.7" r="0.9"/><circle cx="453.4" cy="133.8" r="0.9"/><circle cx="452.5" cy="130.6" r="0.9"/><circle cx="453.5" cy="132.5" r="0.9"/><circle cx="453.8" cy="134.6" r="0.9"/><circle cx="454.9" cy="140.3" r="0.9"/><circle cx="454.4" cy="133.2" r="0.9"/><circle cx="454.3" cy="131.8" r="0.9"/><circle cx="454.7" cy="129.2" r="0.9"/><circle cx="454.1" cy="133.4" r="0.9"/><circle cx="455.1" cy="127.8" r="0.9"/><circle cx="455.3" cy="129.1" r="0.9"/><circle cx="456.2" cy="131.1" r="0.9"/><circle cx="455.4" cy="127.8" r="0.9"/><circle cx="455.8" cy="133.5" r="0.9"/><circle cx="455.5" cy="132.5" r="0.9"/><circle cx="456.1" cy="128.3" r="0.9"/><circle cx="457.2" cy="128.3" r="0.9"/><circle cx="456.8" cy="126.3" r="0.9"/><circle cx="457.4" cy="126" r="0.9"/><circle cx="456.6" cy="129.8" r="0.9"/><circle cx="457.6" cy="129.9" r="0.9"/><circle cx="457.1" cy="128.6" r="0.9"/><circle cx="458" cy="128.2" r="0.9"/><circle cx="458.1" cy="126.3" r="0.9"/><circle cx="459.2" cy="127.6" r="0.9"/><circle cx="459" cy="123.7" r="0.9"/><circle cx="459" cy="126.5" r="0.9"/><circle cx="459.7" cy="129.7" r="0.9"/><circle cx="459.7" cy="128.8" r="0.9"/><circle cx="459.9" cy="124.8" r="0.9"/><circle cx="460.6" cy="124.3" r="0.9"/><circle cx="460.6" cy="127.4" r="0.9"/><circle cx="460.6" cy="128.1" r="0.9"/><circle cx="461" cy="120.9" r="0.9"/><circle cx="460.8" cy="122.9" r="0.9"/><circle cx="461.3" cy="124.3" r="0.9"/><circle cx="461.7" cy="126.4" r="0.9"/><circle cx="461.7" cy="121.7" r="0.9"/><circle cx="461.4" cy="124.3" r="0.9"/><circle cx="461" cy="122" r="0.9"/><circle cx="461.8" cy="127.8" r="0.9"/><circle cx="462.8" cy="121.9" r="0.9"/><circle cx="463.7" cy="120.4" r="0.9"/><circle cx="463.5" cy="119" r="0.9"/><circle cx="463.9" cy="121.6" r="0.9"/><circle cx="464.6" cy="120.6" r="0.9"/><circle cx="464.2" cy="116.2" r="0.9"/><circle cx="464.6" cy="118.6" r="0.9"/><circle cx="466" cy="114.9" r="0.9"/><circle cx="466" cy="115.9" r="0.9"/><circle cx="465.6" cy="114.6" r="0.9"/><circle cx="465.4" cy="114.6" r="0.9"/><circle cx="464.9" cy="115.6" r="0.9"/><circle cx="466.2" cy="114.4" r="0.9"/><circle cx="466.6" cy="116.7" r="0.9"/><circle cx="467.1" cy="116.8" r="0.9"/><circle cx="466.7" cy="114.5" r="0.9"/><circle cx="468.1" cy="111.6" r="0.9"/><circle cx="468.2" cy="115.3" r="0.9"/><circle cx="469" cy="109.1" r="0.9"/><circle cx="470.1" cy="109" r="0.9"/><circle cx="469.6" cy="114.3" r="0.9"/><circle cx="468.5" cy="114.1" r="0.9"/><circle cx="469" cy="114.7" r="0.9"/><circle cx="468.7" cy="112.2" r="0.9"/><circle cx="470.1" cy="109.7" r="0.9"/><circle cx="470.9" cy="111.2" r="0.9"/><circle cx="471.1" cy="113.3" r="0.9"/><circle cx="470.7" cy="110.6" r="0.9"/><circle cx="471.5" cy="110.7" r="0.9"/><circle cx="471.7" cy="109.3" r="0.9"/><circle cx="471.8" cy="109.9" r="0.9"/><circle cx="471.9" cy="114" r="0.9"/><circle cx="472.4" cy="113.2" r="0.9"/><circle cx="473.9" cy="110.1" r="0.9"/><circle cx="474" cy="111.4" r="0.9"/><circle cx="475.7" cy="112.6" r="0.9"/><circle cx="476.3" cy="115.4" r="0.9"/><circle cx="475.9" cy="112.4" r="0.9"/><circle cx="476.6" cy="115.2" r="0.9"/><circle cx="476.8" cy="111.7" r="0.9"/><circle cx="477.5" cy="114.1" r="0.9"/><circle cx="478.5" cy="118.6" r="0.9"/><circle cx="479.2" cy="121.2" r="0.9"/><circle cx="480" cy="117" r="0.9"/><circle cx="480.2" cy="118" r="0.9"/><circle cx="479.9" cy="121.8" r="0.9"/><circle cx="479.9" cy="119.2" r="0.9"/><circle cx="479.9" cy="119.2" r="0.9"/><circle cx="480.8" cy="122.5" r="0.9"/><circle cx="480" cy="121.9" r="0.9"/><circle cx="481.8" cy="125.4" r="0.9"/><circle cx="482" cy="125.1" r="0.9"/><circle cx="481.6" cy="122.4" r="0.9"/><circle cx="484" cy="124.3" r="0.9"/><circle cx="482.6" cy="125.1" r="0.9"/><circle cx="483" cy="122.7" r="0.9"/><circle cx="484.1" cy="124.2" r="0.9"/><circle cx="482.9" cy="128.6" r="0.9"/><circle cx="483.7" cy="123.2" r="0.9"/><circle cx="483.5" cy="129.1" r="0.9"/><circle cx="484.3" cy="128.1" r="0.9"/><circle cx="485" cy="127.4" r="0.9"/><circle cx="485.5" cy="129.1" r="0.9"/><circle cx="486.5" cy="129.6" r="0.9"/><circle cx="486.4" cy="131.3" r="0.9"/><circle cx="486.7" cy="128" r="0.9"/><circle cx="486.9" cy="128.9" r="0.9"/><circle cx="486.9" cy="129.4" r="0.9"/><circle cx="487.8" cy="133.9" r="0.9"/><circle cx="487.1" cy="132.1" r="0.9"/><circle cx="487.1" cy="128.3" r="0.9"/><circle cx="488.4" cy="129.6" r="0.9"/><circle cx="488" cy="128.8" r="0.9"/><circle cx="488.7" cy="131.2" r="0.9"/><circle cx="489.2" cy="131.8" r="0.9"/><circle cx="489.5" cy="136.1" r="0.9"/><circle cx="488.3" cy="127.9" r="0.9"/><circle cx="489.5" cy="133.9" r="0.9"/><circle cx="490.3" cy="133.4" r="0.9"/><circle cx="491.1" cy="131.2" r="0.9"/><circle cx="490.9" cy="132.4" r="0.9"/><circle cx="492.3" cy="131.8" r="0.9"/><circle cx="491.9" cy="132.9" r="0.9"/><circle cx="491.9" cy="135" r="0.9"/><circle cx="492.4" cy="130" r="0.9"/><circle cx="491.9" cy="135.7" r="0.9"/><circle cx="493.1" cy="132.4" r="0.9"/><circle cx="493.7" cy="136.1" r="0.9"/><circle cx="493.6" cy="134" r="0.9"/><circle cx="492.3" cy="135.6" r="0.9"/><circle cx="493.5" cy="134.3" r="0.9"/><circle cx="494.3" cy="135.3" r="0.9"/><circle cx="494.3" cy="133.3" r="0.9"/><circle cx="495.2" cy="131.5" r="0.9"/><circle cx="493.9" cy="134.4" r="0.9"/><circle cx="495.2" cy="134.5" r="0.9"/><circle cx="494.5" cy="137.2" r="0.9"/><circle cx="495.5" cy="129" r="0.9"/><circle cx="496.7" cy="132.2" r="0.9"/><circle cx="496.9" cy="134.7" r="0.9"/><circle cx="496.2" cy="130" r="0.9"/><circle cx="496.9" cy="132" r="0.9"/><circle cx="496.2" cy="136.6" r="0.9"/><circle cx="496.1" cy="135.2" r="0.9"/><circle cx="497.7" cy="130.3" r="0.9"/><circle cx="497.4" cy="134.9" r="0.9"/><circle cx="496.8" cy="134.2" r="0.9"/><circle cx="497.8" cy="133" r="0.9"/><circle cx="498.4" cy="132" r="0.9"/><circle cx="499.5" cy="131.6" r="0.9"/><circle cx="499.2" cy="129.3" r="0.9"/><circle cx="499.2" cy="129.9" r="0.9"/><circle cx="497.9" cy="132.2" r="0.9"/><circle cx="499.1" cy="130.8" r="0.9"/><circle cx="499.8" cy="134" r="0.9"/><circle cx="500" cy="128.8" r="0.9"/><circle cx="500.2" cy="124" r="0.9"/><circle cx="500.4" cy="127.4" r="0.9"/><circle cx="501.7" cy="128.7" r="0.9"/><circle cx="502.4" cy="127.1" r="0.9"/><circle cx="501.8" cy="125.4" r="0.9"/><circle cx="501.5" cy="122.3" r="0.9"/><circle cx="503.6" cy="127.8" r="0.9"/><circle cx="503.2" cy="116.4" r="0.9"/><circle cx="504.3" cy="121" r="0.9"/><circle cx="504.8" cy="117" r="0.9"/><circle cx="503.3" cy="112.9" r="0.9"/><circle cx="505.2" cy="116.8" r="0.9"/><circle cx="506.2" cy="85" r="0.9"/><circle cx="506.8" cy="93.7" r="0.9"/><circle cx="507.9" cy="90.2" r="0.9"/><circle cx="509" cy="83.7" r="0.9"/><circle cx="509.1" cy="81.5" r="0.9"/><circle cx="508.9" cy="74.5" r="0.9"/><circle cx="509.6" cy="71.9" r="0.9"/><circle cx="509.8" cy="77.6" r="0.9"/><circle cx="509.8" cy="64.5" r="0.9"/><circle cx="511.4" cy="64" r="0.9"/><circle cx="510.9" cy="55.6" r="0.9"/><circle cx="511.4" cy="56.2" r="0.9"/><circle cx="512" cy="58.9" r="0.9"/><circle cx="511.5" cy="58.8" r="0.9"/><circle cx="510.9" cy="57.7" r="0.9"/><circle cx="513.1" cy="56.4" r="0.9"/><circle cx="512.1" cy="60" r="0.9"/><circle cx="512.3" cy="54" r="0.9"/><circle cx="513.2" cy="60.6" r="0.9"/><circle cx="512.9" cy="61.3" r="0.9"/><circle cx="513.3" cy="61.3" r="0.9"/><circle cx="514.1" cy="66.9" r="0.9"/><circle cx="515.8" cy="65.3" r="0.9"/><circle cx="516.8" cy="82.9" r="0.9"/><circle cx="517.1" cy="96.6" r="0.9"/><circle cx="515.8" cy="92.5" r="0.9"/><circle cx="517" cy="95.1" r="0.9"/><circle cx="516.3" cy="91.3" r="0.9"/><circle cx="518.2" cy="94.8" r="0.9"/><circle cx="517.7" cy="94.5" r="0.9"/><circle cx="517.9" cy="95.4" r="0.9"/><circle cx="518" cy="97.8" r="0.9"/><circle cx="517.9" cy="91.9" r="0.9"/><circle cx="518.9" cy="82.1" r="0.9"/><circle cx="520.6" cy="71.5" r="0.9"/><circle cx="519.6" cy="26.4" r="0.9"/><circle cx="521.4" cy="5.1" r="0.9"/><circle cx="522.4" cy="16.1" r="0.9"/><circle cx="522.5" cy="16.5" r="0.9"/><circle cx="523.4" cy="8" r="0.9"/><circle cx="525.8" cy="48.5" r="0.9"/><circle cx="525.4" cy="51.3" r="0.9"/><circle cx="525.8" cy="40.3" r="0.9"/><circle cx="526.5" cy="75.8" r="0.9"/><circle cx="527.6" cy="89.8" r="0.9"/><circle cx="526.5" cy="84" r="0.9"/><circle cx="528" cy="71.2" r="0.9"/><circle cx="527.3" cy="96.6" r="0.9"/><circle cx="527.8" cy="90.3" r="0.9"/><circle cx="529.1" cy="96" r="0.9"/><circle cx="530" cy="110.1" r="0.9"/><circle cx="531.1" cy="110.9" r="0.9"/><circle cx="531.7" cy="121.2" r="0.9"/><circle cx="530.2" cy="122.5" r="0.9"/><circle cx="531.9" cy="126" r="0.9"/><circle cx="533.3" cy="124.4" r="0.9"/><circle cx="532.8" cy="120.3" r="0.9"/><circle cx="533.5" cy="124.1" r="0.9"/><circle cx="533.7" cy="131.1" r="0.9"/><circle cx="533.2" cy="128.6" r="0.9"/><circle cx="533.4" cy="138" r="0.9"/><circle cx="535.2" cy="131.4" r="0.9"/><circle cx="535.8" cy="131.6" r="0.9"/><circle cx="534.9" cy="136" r="0.9"/><circle cx="535.6" cy="135.8" r="0.9"/><circle cx="536.5" cy="135.2" r="0.9"/><circle cx="535.3" cy="134.8" r="0.9"/><circle cx="536.3" cy="136.5" r="0.9"/><circle cx="537.8" cy="137.9" r="0.9"/><circle cx="538.5" cy="138.3" r="0.9"/><circle cx="537.2" cy="136.2" r="0.9"/><circle cx="538.6" cy="138.1" r="0.9"/><circle cx="537.4" cy="139.3" r="0.9"/><circle cx="537.6" cy="139.6" r="0.9"/><circle cx="537" cy="131.7" r="0.9"/><circle cx="539.4" cy="137" r="0.9"/><circle cx="538.7" cy="137.3" r="0.9"/><circle cx="540.4" cy="138.5" r="0.9"/><circle cx="539.3" cy="139.5" r="0.9"/><circle cx="539.5" cy="141.4" r="0.9"/><circle cx="538.4" cy="140.9" r="0.9"/><circle cx="540.6" cy="139.5" r="0.9"/><circle cx="539.6" cy="139.9" r="0.9"/><circle cx="540.3" cy="144" r="0.9"/><circle cx="539.2" cy="139.3" r="0.9"/><circle cx="541.2" cy="141.3" r="0.9"/><circle cx="541.8" cy="144.3" r="0.9"/><circle cx="541.5" cy="142.3" r="0.9"/><circle cx="542.1" cy="137.6" r="0.9"/><circle cx="542.3" cy="142.5" r="0.9"/><circle cx="544" cy="141.8" r="0.9"/><circle cx="544.1" cy="142.7" r="0.9"/><circle cx="545.2" cy="145.1" r="0.9"/><circle cx="545" cy="144.4" r="0.9"/><circle cx="544.8" cy="143" r="0.9"/><circle cx="545.2" cy="145.4" r="0.9"/><circle cx="544" cy="144.5" r="0.9"/><circle cx="545.1" cy="143.9" r="0.9"/><circle cx="546.4" cy="144.4" r="0.9"/><circle cx="546.5" cy="144.5" r="0.9"/><circle cx="546.2" cy="143.5" r="0.9"/><circle cx="548.8" cy="144" r="0.9"/><circle cx="548.4" cy="145.2" r="0.9"/><circle cx="550.3" cy="143.5" r="0.9"/><circle cx="550.8" cy="142.9" r="0.9"/><circle cx="551" cy="148" r="0.9"/><circle cx="550.5" cy="145.1" r="0.9"/><circle cx="553.1" cy="145.8" r="0.9"/></g>
<path d="M422.2 138.6 L422.7 138.6 L423.2 138.6 L423.7 138.6 L424.2 138.6 L424.7 138.6 L425.2 138.6 L425.7 138.6 L426.2 138.6 L426.7 138.6 L427.2 138.6 L427.7 138.6 L428.2 138.6 L428.7 138.6 L429.2 138.6 L429.7 138.6 L430.2 138.6 L430.7 138.6 L431.2 138.6 L431.7 138.6 L432.2 138.6 L432.7 138.6 L433.2 138.6 L433.7 138.6 L434.2 138.6 L434.7 138.6 L435.2 138.6 L435.8 138.6 L436.3 138.6 L436.8 138.6 L437.3 138.6 L437.8 138.6 L438.3 138.7 L438.8 138.7 L439.3 138.7 L439.8 138.7 L440.3 138.7 L440.8 138.7 L441.3 138.7 L441.8 138.7 L442.3 138.7 L442.8 138.7 L443.3 138.7 L443.8 138.7 L444.3 138.7 L444.8 138.7 L445.3 138.7 L445.8 138.7 L446.3 138.7 L446.8 138.7 L447.3 138.7 L447.8 138.7 L448.3 138.7 L448.8 138.7 L449.3 138.7 L449.8 138.7 L450.3 138.7 L450.8 138.7 L451.3 138.8 L451.8 138.8 L452.3 138.8 L452.8 138.8 L453.3 138.8 L453.8 138.8 L454.3 138.8 L454.8 138.8 L455.3 138.8 L455.8 138.9 L456.3 138.9 L456.8 138.9 L457.3 138.9 L457.8 138.9 L458.3 138.9 L458.8 139 L459.3 139 L459.8 139 L460.3 139 L460.8 139.1 L461.3 139.1 L461.9 139.1 L462.4 139.1 L462.9 139.2 L463.4 139.2 L463.9 139.2 L464.4 139.3 L464.9 139.3 L465.4 139.3 L465.9 139.4 L466.4 139.4 L466.9 139.5 L467.4 139.5 L467.9 139.6 L468.4 139.6 L468.9 139.7 L469.4 139.7 L469.9 139.7 L470.4 139.8 L470.9 139.8 L471.4 139.9 L471.9 139.9 L472.4 140 L472.9 140 L473.4 140.1 L473.9 140.1 L474.4 140.2 L474.9 140.2 L475.4 140.3 L475.9 140.3 L476.4 140.4 L476.9 140.4 L477.4 140.5 L477.9 140.5 L478.4 140.6 L478.9 140.6 L479.4 140.6 L479.9 140.7 L480.4 140.7 L480.9 140.8 L481.4 140.8 L481.9 140.8 L482.4 140.9 L482.9 140.9 L483.4 140.9 L483.9 140.9 L484.4 141 L484.9 141 L485.4 141 L485.9 141 L486.4 141.1 L486.9 141.1 L487.4 141.1 L488 141.1 L488.5 141.1 L489 141.2 L489.5 141.2 L490 141.2 L490.5 141.2 L491 141.2 L491.5 141.2 L492 141.3 L492.5 141.3 L493 141.3 L493.5 141.3 L494 141.3 L494.5 141.3 L495 141.3 L495.5 141.4 L496 141.4 L496.5 141.4 L497 141.4 L497.5 141.4 L498 141.4 L498.5 141.5 L499 141.5 L499.5 141.5 L500 141.5 L500.5 141.5 L501 141.6 L501.5 141.6 L502 141.6 L502.5 141.6 L503 141.7 L503.5 141.7 L504 141.7 L504.5 141.8 L505 141.8 L505.5 141.9 L506 142 L506.5 142 L507 142.1 L507.5 142.2 L508 142.3 L508.5 142.4 L509 142.5 L509.5 142.6 L510 142.7 L510.5 142.9 L511 143 L511.5 143.2 L512 143.3 L512.5 143.5 L513 143.6 L513.5 143.7 L514.1 143.9 L514.6 144 L515.1 144.1 L515.6 144.2 L516.1 144.3 L516.6 144.4 L517.1 144.5 L517.6 144.6 L518.1 144.7 L518.6 144.8 L519.1 144.8 L519.6 144.9 L520.1 145.1 L520.6 145.2 L521.1 145.3 L521.6 145.5 L522.1 145.6 L522.6 145.9 L523.1 146.1 L523.6 146.3 L524.1 146.5 L524.6 146.8 L525.1 147 L525.6 147.2 L526.1 147.4 L526.6 147.5 L527.1 147.7 L527.6 147.8 L528.1 148 L528.6 148.1 L529.1 148.2 L529.6 148.3 L530.1 148.3 L530.6 148.4 L531.1 148.5 L531.6 148.5 L532.1 148.6 L532.6 148.6 L533.1 148.7 L533.6 148.7 L534.1 148.8 L534.6 148.8 L535.1 148.8 L535.6 148.9 L536.1 148.9 L536.6 148.9 L537.1 148.9 L537.6 148.9 L538.1 149 L538.6 149 L539.1 149 L539.6 149 L540.2 149 L540.7 149.1 L541.2 149.1 L541.7 149.1 L542.2 149.1 L542.7 149.1 L543.2 149.1 L543.7 149.1 L544.2 149.2 L544.7 149.2 L545.2 149.2 L545.7 149.2 L546.2 149.2 L546.7 149.2 L547.2 149.2 L547.7 149.2 L548.2 149.2 L548.7 149.2 L549.2 149.2 L549.7 149.3 L550.2 149.3 L550.7 149.3 L551.2 149.3 L551.7 149.3 L552.2 149.3 L552.7 149.3" fill="none" stroke="#b8b8b8" stroke-width="0.9"/>
<path d="M422.2 137.9 L422.7 137.9 L423.2 137.9 L423.7 137.9 L424.2 137.9 L424.7 137.9 L425.2 137.9 L425.7 137.9 L426.2 137.9 L426.7 137.9 L427.2 137.8 L427.7 137.8 L428.2 137.8 L428.7 137.8 L429.2 137.8 L429.7 137.8 L430.2 137.8 L430.7 137.7 L431.2 137.7 L431.7 137.7 L432.2 137.7 L432.7 137.7 L433.2 137.7 L433.7 137.6 L434.2 137.6 L434.7 137.6 L435.2 137.6 L435.8 137.5 L436.3 137.5 L436.8 137.5 L437.3 137.5 L437.8 137.4 L438.3 137.4 L438.8 137.4 L439.3 137.3 L439.8 137.3 L440.3 137.2 L440.8 137.2 L441.3 137.1 L441.8 137.1 L442.3 137 L442.8 137 L443.3 136.9 L443.8 136.8 L444.3 136.7 L444.8 136.6 L445.3 136.5 L445.8 136.4 L446.3 136.3 L446.8 136.2 L447.3 136 L447.8 135.8 L448.3 135.7 L448.8 135.5 L449.3 135.3 L449.8 135 L450.3 134.8 L450.8 134.5 L451.3 134.3 L451.8 134 L452.3 133.6 L452.8 133.3 L453.3 132.9 L453.8 132.5 L454.3 132.1 L454.8 131.6 L455.3 131.1 L455.8 130.6 L456.3 130.1 L456.8 129.5 L457.3 128.9 L457.8 128.3 L458.3 127.7 L458.8 127 L459.3 126.4 L459.8 125.7 L460.3 124.9 L460.8 124.2 L461.3 123.5 L461.9 122.7 L462.4 121.9 L462.9 121.2 L463.4 120.4 L463.9 119.6 L464.4 118.9 L464.9 118.1 L465.4 117.4 L465.9 116.7 L466.4 116 L466.9 115.4 L467.4 114.8 L467.9 114.2 L468.4 113.8 L468.9 113.3 L469.4 112.9 L469.9 112.6 L470.4 112.4 L470.9 112.3 L471.4 112.2 L471.9 112.2 L472.4 112.2 L472.9 112.4 L473.4 112.6 L473.9 112.9 L474.4 113.3 L474.9 113.7 L475.4 114.2 L475.9 114.8 L476.4 115.4 L476.9 116 L477.4 116.7 L477.9 117.4 L478.4 118.1 L478.9 118.9 L479.4 119.7 L479.9 120.4 L480.4 121.2 L480.9 122 L481.4 122.7 L481.9 123.5 L482.4 124.2 L482.9 124.9 L483.4 125.6 L483.9 126.3 L484.4 127 L484.9 127.6 L485.4 128.2 L485.9 128.8 L486.4 129.3 L486.9 129.8 L487.4 130.3 L488 130.7 L488.5 131.1 L489 131.5 L489.5 131.8 L490 132.1 L490.5 132.4 L491 132.6 L491.5 132.8 L492 133 L492.5 133.1 L493 133.2 L493.5 133.2 L494 133.2 L494.5 133.2 L495 133.1 L495.5 133 L496 132.9 L496.5 132.7 L497 132.4 L497.5 132.1 L498 131.7 L498.5 131.3 L499 130.7 L499.5 130.1 L500 129.4 L500.5 128.5 L501 127.5 L501.5 126.3 L502 124.9 L502.5 123.3 L503 121.4 L503.5 119.2 L504 116.8 L504.5 114 L505 110.8 L505.5 107.3 L506 103.4 L506.5 99.2 L507 94.6 L507.5 89.8 L508 84.8 L508.5 79.7 L509 74.6 L509.5 69.9 L510 65.6 L510.5 62.1 L511 59.5 L511.5 58 L512 57.6 L512.5 58.2 L513 59.9 L513.5 62.6 L514.1 66.2 L514.6 70.6 L515.1 75.5 L515.6 80.3 L516.1 84.7 L516.6 88.4 L517.1 91.1 L517.6 92.7 L518.1 92.9 L518.6 91.6 L519.1 88.7 L519.6 83.8 L520.1 76.8 L520.6 67.5 L521.1 55.8 L521.6 42.3 L522.1 28.4 L522.6 16.5 L523.1 10.1 L523.6 10.9 L524.1 15.8 L524.6 23.4 L525.1 32.5 L525.6 42.3 L526.1 52 L526.6 61.4 L527.1 70.2 L527.6 78.3 L528.1 85.8 L528.6 92.5 L529.1 98.5 L529.6 103.8 L530.1 108.5 L530.6 112.6 L531.1 116.2 L531.6 119.3 L532.1 122.1 L532.6 124.5 L533.1 126.6 L533.6 128.4 L534.1 130 L534.6 131.4 L535.1 132.7 L535.6 133.8 L536.1 134.8 L536.6 135.7 L537.1 136.5 L537.6 137.3 L538.1 138 L538.6 138.6 L539.1 139.2 L539.6 139.7 L540.2 140.2 L540.7 140.6 L541.2 141 L541.7 141.4 L542.2 141.8 L542.7 142.1 L543.2 142.4 L543.7 142.7 L544.2 143 L544.7 143.3 L545.2 143.5 L545.7 143.7 L546.2 144 L546.7 144.2 L547.2 144.4 L547.7 144.5 L548.2 144.7 L548.7 144.9 L549.2 145 L549.7 145.2 L550.2 145.3 L550.7 145.5 L551.2 145.6 L551.7 145.7 L552.2 145.8 L552.7 145.9" fill="none" stroke="#a8a8a8" stroke-width="1.2"/>
</g>
<clipPath id="clipb2"><rect x="553.5" y="1" width="128.9" height="159"/></clipPath>
<g clip-path="url(#clipb2)">
<path d="M552.7 140.4 L553.2 140.3 L553.7 140.3 L554.2 140.3 L554.7 140.2 L555.2 140.2 L555.7 140.1 L556.2 140.1 L556.7 140 L557.2 140 L557.7 139.9 L558.2 139.9 L558.7 139.8 L559.2 139.8 L559.7 139.7 L560.2 139.6 L560.7 139.5 L561.2 139.5 L561.7 139.4 L562.2 139.3 L562.7 139.2 L563.2 139.1 L563.7 139 L564.2 138.9 L564.7 138.7 L565.2 138.6 L565.8 138.4 L566.3 138.3 L566.8 138.1 L567.3 137.9 L567.8 137.7 L568.3 137.5 L568.8 137.3 L569.3 137.1 L569.8 136.9 L570.3 136.6 L570.8 136.3 L571.3 136 L571.8 135.7 L572.3 135.4 L572.8 135 L573.3 134.7 L573.8 134.3 L574.3 133.8 L574.8 133.4 L575.3 132.9 L575.8 132.5 L576.3 131.9 L576.8 131.4 L577.3 130.8 L577.8 130.3 L578.3 129.6 L578.8 129 L579.3 128.3 L579.8 127.6 L580.3 126.9 L580.8 126.1 L581.3 125.3 L581.8 124.5 L582.3 123.6 L582.8 122.7 L583.3 121.8 L583.8 120.9 L584.3 119.9 L584.8 118.9 L585.3 117.9 L585.8 116.9 L586.3 115.8 L586.8 114.7 L587.3 113.6 L587.8 112.4 L588.3 111.3 L588.8 110.1 L589.3 108.9 L589.8 107.7 L590.3 106.5 L590.8 105.2 L591.3 104 L591.9 102.8 L592.4 101.5 L592.9 100.3 L593.4 99 L593.9 97.8 L594.4 96.6 L594.9 95.4 L595.4 94.2 L595.9 93.1 L596.4 92 L596.9 90.9 L597.4 89.8 L597.9 88.8 L598.4 87.8 L598.9 86.9 L599.4 86 L599.9 85.2 L600.4 84.4 L600.9 83.7 L601.4 83.1 L601.9 82.5 L602.4 82 L602.9 81.6 L603.4 81.3 L603.9 81 L604.4 80.9 L604.9 80.8 L605.4 80.8 L605.9 80.9 L606.4 81 L606.9 81.3 L607.4 81.6 L607.9 82 L608.4 82.5 L608.9 83.1 L609.4 83.8 L609.9 84.5 L610.4 85.3 L610.9 86.1 L611.4 87 L611.9 88 L612.4 89 L612.9 90.1 L613.4 91.2 L613.9 92.3 L614.4 93.5 L614.9 94.7 L615.4 95.9 L615.9 97.2 L616.4 98.5 L616.9 99.7 L617.4 101 L618 102.4 L618.5 103.7 L619 105 L619.5 106.3 L620 107.6 L620.5 108.9 L621 110.2 L621.5 111.5 L622 112.7 L622.5 114 L623 115.2 L623.5 116.4 L624 117.6 L624.5 118.8 L625 119.9 L625.5 121 L626 122.1 L626.5 123.2 L627 124.2 L627.5 125.2 L628 126.2 L628.5 127.1 L629 128 L629.5 128.9 L630 129.7 L630.5 130.5 L631 131.3 L631.5 132.1 L632 132.8 L632.5 133.5 L633 134.2 L633.5 134.8 L634 135.4 L634.5 136 L635 136.6 L635.5 137.1 L636 137.7 L636.5 138.2 L637 138.6 L637.5 139.1 L638 139.5 L638.5 140 L639 140.4 L639.5 140.8 L640 141.1 L640.5 141.5 L641 141.9 L641.5 142.2 L642 142.5 L642.5 142.8 L643 143.1 L643.5 143.4 L644.1 143.6 L644.6 143.8 L645.1 144.1 L645.6 144.3 L646.1 144.5 L646.6 144.6 L647.1 144.8 L647.6 145 L648.1 145.1 L648.6 145.3 L649.1 145.4 L649.6 145.6 L650.1 145.7 L650.6 145.9 L651.1 146.1 L651.6 146.2 L652.1 146.4 L652.6 146.6 L653.1 146.7 L653.6 146.9 L654.1 147.1 L654.6 147.2 L655.1 147.4 L655.6 147.5 L656.1 147.7 L656.6 147.8 L657.1 147.9 L657.6 148 L658.1 148.1 L658.6 148.2 L659.1 148.2 L659.6 148.3 L660.1 148.4 L660.6 148.4 L661.1 148.5 L661.6 148.6 L662.1 148.6 L662.6 148.6 L663.1 148.7 L663.6 148.7 L664.1 148.8 L664.6 148.8 L665.1 148.8 L665.6 148.9 L666.1 148.9 L666.6 148.9 L667.1 149 L667.6 149 L668.1 149 L668.6 149.1 L669.1 149.1 L669.6 149.1 L670.2 149.1 L670.7 149.2 L671.2 149.2 L671.7 149.2 L672.2 149.2 L672.7 149.2 L673.2 149.3 L673.7 149.3 L674.2 149.3 L674.7 149.3 L675.2 149.3 L675.7 149.4 L676.2 149.4 L676.7 149.4 L677.2 149.4 L677.7 149.4 L678.2 149.4 L678.7 149.5 L679.2 149.5 L679.7 149.5 L680.2 149.5 L680.7 149.5 L681.2 149.5 L681.7 149.5 L682.2 149.5 L682.7 149.6 L683.2 149.6 L683.2 150.3 L682.7 150.3 L682.2 150.3 L681.7 150.3 L681.2 150.3 L680.7 150.3 L680.2 150.3 L679.7 150.3 L679.2 150.3 L678.7 150.3 L678.2 150.3 L677.7 150.3 L677.2 150.2 L676.7 150.2 L676.2 150.2 L675.7 150.2 L675.2 150.2 L674.7 150.2 L674.2 150.2 L673.7 150.2 L673.2 150.2 L672.7 150.2 L672.2 150.2 L671.7 150.2 L671.2 150.2 L670.7 150.2 L670.2 150.2 L669.6 150.1 L669.1 150.1 L668.6 150.1 L668.1 150.1 L667.6 150.1 L667.1 150.1 L666.6 150.1 L666.1 150.1 L665.6 150.1 L665.1 150 L664.6 150 L664.1 150 L663.6 150 L663.1 150 L662.6 150 L662.1 149.9 L661.6 149.9 L661.1 149.9 L660.6 149.8 L660.1 149.8 L659.6 149.8 L659.1 149.7 L658.6 149.7 L658.1 149.6 L657.6 149.6 L657.1 149.5 L656.6 149.4 L656.1 149.4 L655.6 149.3 L655.1 149.2 L654.6 149.1 L654.1 149 L653.6 148.9 L653.1 148.7 L652.6 148.6 L652.1 148.5 L651.6 148.4 L651.1 148.3 L650.6 148.2 L650.1 148.2 L649.6 148.1 L649.1 148 L648.6 148 L648.1 147.9 L647.6 147.9 L647.1 147.8 L646.6 147.8 L646.1 147.7 L645.6 147.7 L645.1 147.6 L644.6 147.6 L644.1 147.5 L643.5 147.5 L643 147.4 L642.5 147.3 L642 147.3 L641.5 147.2 L641 147.1 L640.5 147 L640 147 L639.5 146.9 L639 146.8 L638.5 146.7 L638 146.7 L637.5 146.6 L637 146.6 L636.5 146.5 L636 146.5 L635.5 146.4 L635 146.4 L634.5 146.4 L634 146.3 L633.5 146.3 L633 146.3 L632.5 146.3 L632 146.2 L631.5 146.2 L631 146.2 L630.5 146.1 L630 146.1 L629.5 146.1 L629 146.1 L628.5 146 L628 146 L627.5 146 L627 146 L626.5 145.9 L626 145.9 L625.5 145.9 L625 145.9 L624.5 145.8 L624 145.8 L623.5 145.8 L623 145.7 L622.5 145.7 L622 145.7 L621.5 145.6 L621 145.6 L620.5 145.6 L620 145.5 L619.5 145.5 L619 145.5 L618.5 145.4 L618 145.4 L617.4 145.3 L616.9 145.3 L616.4 145.2 L615.9 145.2 L615.4 145.1 L614.9 145.1 L614.4 145.1 L613.9 145 L613.4 145 L612.9 144.9 L612.4 144.9 L611.9 144.8 L611.4 144.7 L610.9 144.7 L610.4 144.6 L609.9 144.6 L609.4 144.5 L608.9 144.5 L608.4 144.4 L607.9 144.4 L607.4 144.3 L606.9 144.2 L606.4 144.2 L605.9 144.1 L605.4 144.1 L604.9 144 L604.4 143.9 L603.9 143.9 L603.4 143.8 L602.9 143.8 L602.4 143.7 L601.9 143.7 L601.4 143.6 L600.9 143.6 L600.4 143.5 L599.9 143.4 L599.4 143.4 L598.9 143.3 L598.4 143.3 L597.9 143.2 L597.4 143.2 L596.9 143.1 L596.4 143.1 L595.9 143 L595.4 143 L594.9 143 L594.4 142.9 L593.9 142.9 L593.4 142.8 L592.9 142.8 L592.4 142.8 L591.9 142.7 L591.3 142.7 L590.8 142.7 L590.3 142.6 L589.8 142.6 L589.3 142.6 L588.8 142.5 L588.3 142.5 L587.8 142.5 L587.3 142.4 L586.8 142.4 L586.3 142.4 L585.8 142.4 L585.3 142.3 L584.8 142.3 L584.3 142.3 L583.8 142.3 L583.3 142.3 L582.8 142.2 L582.3 142.2 L581.8 142.2 L581.3 142.2 L580.8 142.2 L580.3 142.2 L579.8 142.2 L579.3 142.1 L578.8 142.1 L578.3 142.1 L577.8 142.1 L577.3 142.1 L576.8 142.1 L576.3 142.1 L575.8 142.1 L575.3 142.1 L574.8 142.1 L574.3 142 L573.8 142 L573.3 142 L572.8 142 L572.3 142 L571.8 142 L571.3 142 L570.8 142 L570.3 142 L569.8 142 L569.3 142 L568.8 142 L568.3 142 L567.8 142 L567.3 142 L566.8 142 L566.3 142 L565.8 142 L565.2 142 L564.7 142 L564.2 141.9 L563.7 141.9 L563.2 141.9 L562.7 141.9 L562.2 141.9 L561.7 141.9 L561.2 141.9 L560.7 141.9 L560.2 141.9 L559.7 141.9 L559.2 141.9 L558.7 141.9 L558.2 141.9 L557.7 141.9 L557.2 141.9 L556.7 141.9 L556.2 141.9 L555.7 141.9 L555.2 141.9 L554.7 141.9 L554.2 141.9 L553.7 141.9 L553.2 141.9 L552.7 141.9 Z" fill="url(#g_so3)" stroke="#b4b4b4" stroke-width="0.8"/>
<path d="M595.9 142.8 L596.4 142.8 L596.9 142.9 L597.4 142.9 L597.9 143 L598.4 143 L598.9 143.1 L599.4 143.1 L599.9 143.2 L600.4 143.2 L600.9 143.2 L601.4 143.3 L601.9 143.3 L602.4 143.4 L602.9 143.4 L603.4 143.5 L603.9 143.5 L604.4 143.6 L604.9 143.7 L605.4 143.7 L605.9 143.8 L606.4 143.8 L606.9 143.9 L607.4 143.9 L607.9 143.9 L608.4 144 L608.9 144 L609.4 144.1 L609.9 144.1 L610.4 144.2 L610.9 144.2 L611.4 144.3 L611.9 144.3 L612.4 144.4 L612.9 144.4 L613.4 144.4 L613.9 144.5 L614.4 144.5 L614.9 144.5 L615.4 144.6 L615.9 144.6 L616.4 144.6 L616.9 144.7 L617.4 144.7 L618 144.7 L618.5 144.7 L619 144.7 L619.5 144.8 L620 144.8 L620.5 144.8 L621 144.8 L621.5 144.8 L622 144.8 L622.5 144.8 L623 144.8 L623.5 144.8 L624 144.8 L624.5 144.8 L625 144.8 L625.5 144.8 L626 144.8 L626.5 144.8 L627 144.8 L627.5 144.7 L628 144.7 L628.5 144.7 L629 144.7 L629.5 144.6 L630 144.6 L630.5 144.5 L631 144.5 L631.5 144.4 L632 144.4 L632.5 144.3 L633 144.2 L633.5 144.2 L634 144.1 L634.5 144 L635 143.9 L635.5 143.8 L636 143.7 L636.5 143.6 L637 143.4 L637.5 143.3 L638 143.1 L638.5 142.9 L639 142.7 L639.5 142.5 L640 142.2 L640.5 141.9 L641 141.5 L641.5 141.1 L642 140.7 L642.5 140.1 L643 139.5 L643.5 138.8 L644.1 137.9 L644.6 136.8 L645.1 135.6 L645.6 134 L646.1 132.2 L646.6 129.8 L647.1 126.9 L647.6 123.2 L648.1 118.6 L648.6 112.7 L649.1 105.3 L649.6 96.3 L650.1 85.5 L650.6 72.9 L651.1 59 L651.6 45.3 L652.1 33.8 L652.6 27.3 L653.1 27.2 L653.6 30.2 L654.1 35.5 L654.6 42.6 L655.1 50.7 L655.6 59.4 L656.1 68 L656.6 76.4 L657.1 84.2 L657.6 91.4 L658.1 97.9 L658.6 103.6 L659.1 108.8 L659.6 113.3 L660.1 117.2 L660.6 120.7 L661.1 123.7 L661.6 126.3 L662.1 128.6 L662.6 130.5 L663.1 132.2 L663.6 133.7 L664.1 135.1 L664.6 136.2 L665.1 137.3 L665.6 138.2 L666.1 139 L666.6 139.7 L667.1 140.4 L667.6 141 L668.1 141.6 L668.6 142.1 L669.1 142.5 L669.6 143 L670.2 143.3 L670.7 143.7 L671.2 144 L671.7 144.4 L672.2 144.6 L672.7 144.9 L673.2 145.2 L673.7 145.4 L674.2 145.6 L674.7 145.8 L675.2 146 L675.7 146.2 L676.2 146.4 L676.7 146.5 L677.2 146.7 L677.7 146.8 L678.2 147 L678.7 147.1 L679.2 147.2 L679.7 147.3 L680.2 147.4 L680.7 147.5 L681.2 147.6 L681.7 147.7 L682.2 147.8 L682.7 147.9 L683.2 148 L683.2 150.3 L682.7 150.3 L682.2 150.3 L681.7 150.3 L681.2 150.3 L680.7 150.3 L680.2 150.3 L679.7 150.3 L679.2 150.3 L678.7 150.3 L678.2 150.3 L677.7 150.3 L677.2 150.2 L676.7 150.2 L676.2 150.2 L675.7 150.2 L675.2 150.2 L674.7 150.2 L674.2 150.2 L673.7 150.2 L673.2 150.2 L672.7 150.2 L672.2 150.2 L671.7 150.2 L671.2 150.2 L670.7 150.2 L670.2 150.2 L669.6 150.1 L669.1 150.1 L668.6 150.1 L668.1 150.1 L667.6 150.1 L667.1 150.1 L666.6 150.1 L666.1 150.1 L665.6 150.1 L665.1 150 L664.6 150 L664.1 150 L663.6 150 L663.1 150 L662.6 150 L662.1 149.9 L661.6 149.9 L661.1 149.9 L660.6 149.8 L660.1 149.8 L659.6 149.8 L659.1 149.7 L658.6 149.7 L658.1 149.6 L657.6 149.6 L657.1 149.5 L656.6 149.4 L656.1 149.4 L655.6 149.3 L655.1 149.2 L654.6 149.1 L654.1 149 L653.6 148.9 L653.1 148.7 L652.6 148.6 L652.1 148.5 L651.6 148.4 L651.1 148.3 L650.6 148.2 L650.1 148.2 L649.6 148.1 L649.1 148 L648.6 148 L648.1 147.9 L647.6 147.9 L647.1 147.8 L646.6 147.8 L646.1 147.7 L645.6 147.7 L645.1 147.6 L644.6 147.6 L644.1 147.5 L643.5 147.5 L643 147.4 L642.5 147.3 L642 147.3 L641.5 147.2 L641 147.1 L640.5 147 L640 147 L639.5 146.9 L639 146.8 L638.5 146.7 L638 146.7 L637.5 146.6 L637 146.6 L636.5 146.5 L636 146.5 L635.5 146.4 L635 146.4 L634.5 146.4 L634 146.3 L633.5 146.3 L633 146.3 L632.5 146.3 L632 146.2 L631.5 146.2 L631 146.2 L630.5 146.1 L630 146.1 L629.5 146.1 L629 146.1 L628.5 146 L628 146 L627.5 146 L627 146 L626.5 145.9 L626 145.9 L625.5 145.9 L625 145.9 L624.5 145.8 L624 145.8 L623.5 145.8 L623 145.7 L622.5 145.7 L622 145.7 L621.5 145.6 L621 145.6 L620.5 145.6 L620 145.5 L619.5 145.5 L619 145.5 L618.5 145.4 L618 145.4 L617.4 145.3 L616.9 145.3 L616.4 145.2 L615.9 145.2 L615.4 145.1 L614.9 145.1 L614.4 145.1 L613.9 145 L613.4 145 L612.9 144.9 L612.4 144.9 L611.9 144.8 L611.4 144.7 L610.9 144.7 L610.4 144.6 L609.9 144.6 L609.4 144.5 L608.9 144.5 L608.4 144.4 L607.9 144.4 L607.4 144.3 L606.9 144.2 L606.4 144.2 L605.9 144.1 L605.4 144.1 L604.9 144 L604.4 143.9 L603.9 143.9 L603.4 143.8 L602.9 143.8 L602.4 143.7 L601.9 143.7 L601.4 143.6 L600.9 143.6 L600.4 143.5 L599.9 143.4 L599.4 143.4 L598.9 143.3 L598.4 143.3 L597.9 143.2 L597.4 143.2 L596.9 143.1 L596.4 143.1 L595.9 143 Z" fill="url(#g_cs)" stroke="#b4b4b4" stroke-width="0.8"/>
<path d="M569.8 141.7 L570.3 141.7 L570.8 141.7 L571.3 141.7 L571.8 141.7 L572.3 141.7 L572.8 141.8 L573.3 141.8 L573.8 141.8 L574.3 141.8 L574.8 141.8 L575.3 141.8 L575.8 141.8 L576.3 141.8 L576.8 141.8 L577.3 141.8 L577.8 141.8 L578.3 141.8 L578.8 141.8 L579.3 141.8 L579.8 141.8 L580.3 141.8 L580.8 141.8 L581.3 141.8 L581.8 141.9 L582.3 141.9 L582.8 141.9 L583.3 141.9 L583.8 141.9 L584.3 141.9 L584.8 141.9 L585.3 141.9 L585.8 142 L586.3 142 L586.8 142 L587.3 142 L587.8 142 L588.3 142 L588.8 142.1 L589.3 142.1 L589.8 142.1 L590.3 142.1 L590.8 142.1 L591.3 142.2 L591.9 142.2 L592.4 142.2 L592.9 142.2 L593.4 142.3 L593.9 142.3 L594.4 142.3 L594.9 142.4 L595.4 142.4 L595.9 142.4 L596.4 142.5 L596.9 142.5 L597.4 142.5 L597.9 142.6 L598.4 142.6 L598.9 142.6 L599.4 142.7 L599.9 142.7 L600.4 142.7 L600.9 142.8 L601.4 142.8 L601.9 142.8 L602.4 142.9 L602.9 142.9 L603.4 142.9 L603.9 143 L604.4 143 L604.9 143 L605.4 143.1 L605.9 143.1 L606.4 143.1 L606.9 143.2 L607.4 143.2 L607.9 143.2 L608.4 143.2 L608.9 143.2 L609.4 143.3 L609.9 143.3 L610.4 143.3 L610.9 143.3 L611.4 143.3 L611.9 143.3 L612.4 143.3 L612.9 143.3 L613.4 143.3 L613.9 143.3 L614.4 143.3 L614.9 143.3 L615.4 143.2 L615.9 143.2 L616.4 143.2 L616.9 143.1 L617.4 143.1 L618 143.1 L618.5 143 L619 142.9 L619.5 142.9 L620 142.8 L620.5 142.7 L621 142.6 L621.5 142.5 L622 142.3 L622.5 142.2 L623 142 L623.5 141.9 L624 141.7 L624.5 141.5 L625 141.2 L625.5 141 L626 140.7 L626.5 140.4 L627 140 L627.5 139.6 L628 139.1 L628.5 138.6 L629 138 L629.5 137.2 L630 136.4 L630.5 135.4 L631 134.3 L631.5 133 L632 131.5 L632.5 129.7 L633 127.7 L633.5 125.4 L634 122.8 L634.5 119.8 L635 116.5 L635.5 112.9 L636 108.9 L636.5 104.6 L637 100.1 L637.5 95.4 L638 90.7 L638.5 86.1 L639 81.9 L639.5 78.4 L640 75.7 L640.5 74.2 L641 74 L641.5 75.1 L642 77.4 L642.5 80.7 L643 84.8 L643.5 89.4 L644.1 94.2 L644.6 99 L645.1 103.7 L645.6 108.2 L646.1 112.4 L646.6 116.3 L647.1 119.8 L647.6 123 L648.1 125.9 L648.6 128.4 L649.1 130.6 L649.6 132.6 L650.1 134.3 L650.6 135.8 L651.1 137.1 L651.6 138.3 L652.1 139.3 L652.6 140.2 L653.1 141 L653.6 141.7 L654.1 142.4 L654.6 142.9 L655.1 143.4 L655.6 143.9 L656.1 144.3 L656.6 144.7 L657.1 145 L657.6 145.4 L658.1 145.6 L658.6 145.9 L659.1 146.1 L659.6 146.4 L660.1 146.6 L660.6 146.8 L661.1 146.9 L661.6 147.1 L662.1 147.2 L662.6 147.4 L663.1 147.5 L663.6 147.6 L664.1 147.7 L664.6 147.9 L665.1 148 L665.6 148 L666.1 148.1 L666.6 148.2 L667.1 148.3 L667.6 148.4 L668.1 148.4 L668.6 148.5 L669.1 148.6 L669.6 148.6 L670.2 148.7 L670.7 148.8 L671.2 148.8 L671.7 148.9 L672.2 148.9 L672.7 149 L673.2 149 L673.7 149 L674.2 149.1 L674.7 149.1 L675.2 149.2 L675.7 149.2 L676.2 149.2 L676.7 149.3 L677.2 149.3 L677.7 149.3 L678.2 149.4 L678.7 149.4 L679.2 149.4 L679.7 149.4 L680.2 149.5 L680.7 149.5 L681.2 149.5 L681.7 149.5 L682.2 149.5 L682.7 149.6 L683.2 149.6 L683.2 150.3 L682.7 150.3 L682.2 150.3 L681.7 150.3 L681.2 150.3 L680.7 150.3 L680.2 150.3 L679.7 150.3 L679.2 150.3 L678.7 150.3 L678.2 150.3 L677.7 150.3 L677.2 150.2 L676.7 150.2 L676.2 150.2 L675.7 150.2 L675.2 150.2 L674.7 150.2 L674.2 150.2 L673.7 150.2 L673.2 150.2 L672.7 150.2 L672.2 150.2 L671.7 150.2 L671.2 150.2 L670.7 150.2 L670.2 150.2 L669.6 150.1 L669.1 150.1 L668.6 150.1 L668.1 150.1 L667.6 150.1 L667.1 150.1 L666.6 150.1 L666.1 150.1 L665.6 150.1 L665.1 150 L664.6 150 L664.1 150 L663.6 150 L663.1 150 L662.6 150 L662.1 149.9 L661.6 149.9 L661.1 149.9 L660.6 149.8 L660.1 149.8 L659.6 149.8 L659.1 149.7 L658.6 149.7 L658.1 149.6 L657.6 149.6 L657.1 149.5 L656.6 149.4 L656.1 149.4 L655.6 149.3 L655.1 149.2 L654.6 149.1 L654.1 149 L653.6 148.9 L653.1 148.7 L652.6 148.6 L652.1 148.5 L651.6 148.4 L651.1 148.3 L650.6 148.2 L650.1 148.2 L649.6 148.1 L649.1 148 L648.6 148 L648.1 147.9 L647.6 147.9 L647.1 147.8 L646.6 147.8 L646.1 147.7 L645.6 147.7 L645.1 147.6 L644.6 147.6 L644.1 147.5 L643.5 147.5 L643 147.4 L642.5 147.3 L642 147.3 L641.5 147.2 L641 147.1 L640.5 147 L640 147 L639.5 146.9 L639 146.8 L638.5 146.7 L638 146.7 L637.5 146.6 L637 146.6 L636.5 146.5 L636 146.5 L635.5 146.4 L635 146.4 L634.5 146.4 L634 146.3 L633.5 146.3 L633 146.3 L632.5 146.3 L632 146.2 L631.5 146.2 L631 146.2 L630.5 146.1 L630 146.1 L629.5 146.1 L629 146.1 L628.5 146 L628 146 L627.5 146 L627 146 L626.5 145.9 L626 145.9 L625.5 145.9 L625 145.9 L624.5 145.8 L624 145.8 L623.5 145.8 L623 145.7 L622.5 145.7 L622 145.7 L621.5 145.6 L621 145.6 L620.5 145.6 L620 145.5 L619.5 145.5 L619 145.5 L618.5 145.4 L618 145.4 L617.4 145.3 L616.9 145.3 L616.4 145.2 L615.9 145.2 L615.4 145.1 L614.9 145.1 L614.4 145.1 L613.9 145 L613.4 145 L612.9 144.9 L612.4 144.9 L611.9 144.8 L611.4 144.7 L610.9 144.7 L610.4 144.6 L609.9 144.6 L609.4 144.5 L608.9 144.5 L608.4 144.4 L607.9 144.4 L607.4 144.3 L606.9 144.2 L606.4 144.2 L605.9 144.1 L605.4 144.1 L604.9 144 L604.4 143.9 L603.9 143.9 L603.4 143.8 L602.9 143.8 L602.4 143.7 L601.9 143.7 L601.4 143.6 L600.9 143.6 L600.4 143.5 L599.9 143.4 L599.4 143.4 L598.9 143.3 L598.4 143.3 L597.9 143.2 L597.4 143.2 L596.9 143.1 L596.4 143.1 L595.9 143 L595.4 143 L594.9 143 L594.4 142.9 L593.9 142.9 L593.4 142.8 L592.9 142.8 L592.4 142.8 L591.9 142.7 L591.3 142.7 L590.8 142.7 L590.3 142.6 L589.8 142.6 L589.3 142.6 L588.8 142.5 L588.3 142.5 L587.8 142.5 L587.3 142.4 L586.8 142.4 L586.3 142.4 L585.8 142.4 L585.3 142.3 L584.8 142.3 L584.3 142.3 L583.8 142.3 L583.3 142.3 L582.8 142.2 L582.3 142.2 L581.8 142.2 L581.3 142.2 L580.8 142.2 L580.3 142.2 L579.8 142.2 L579.3 142.1 L578.8 142.1 L578.3 142.1 L577.8 142.1 L577.3 142.1 L576.8 142.1 L576.3 142.1 L575.8 142.1 L575.3 142.1 L574.8 142.1 L574.3 142 L573.8 142 L573.3 142 L572.8 142 L572.3 142 L571.8 142 L571.3 142 L570.8 142 L570.3 142 L569.8 142 Z" fill="url(#g_cs2)" stroke="#b4b4b4" stroke-width="0.8"/>
<g fill="none" stroke="#bcbcbc" stroke-width="0.5"><circle cx="554" cy="137.1" r="0.9"/><circle cx="552.7" cy="138.7" r="0.9"/><circle cx="553.9" cy="139.1" r="0.9"/><circle cx="553.7" cy="140.1" r="0.9"/><circle cx="553.6" cy="142.4" r="0.9"/><circle cx="553.6" cy="136.7" r="0.9"/><circle cx="554.4" cy="140.2" r="0.9"/><circle cx="554.5" cy="135.6" r="0.9"/><circle cx="555.5" cy="137.9" r="0.9"/><circle cx="555.9" cy="138.9" r="0.9"/><circle cx="554.7" cy="135.4" r="0.9"/><circle cx="555.6" cy="136.2" r="0.9"/><circle cx="555.9" cy="140.1" r="0.9"/><circle cx="556.7" cy="139.8" r="0.9"/><circle cx="556.9" cy="139.5" r="0.9"/><circle cx="558.1" cy="138" r="0.9"/><circle cx="558.2" cy="143.9" r="0.9"/><circle cx="557.4" cy="139.3" r="0.9"/><circle cx="558.3" cy="137.8" r="0.9"/><circle cx="559" cy="142.9" r="0.9"/><circle cx="558.4" cy="140.7" r="0.9"/><circle cx="559.7" cy="138.6" r="0.9"/><circle cx="561.6" cy="141.6" r="0.9"/><circle cx="561.5" cy="139.6" r="0.9"/><circle cx="559.8" cy="140.5" r="0.9"/><circle cx="560.1" cy="139.7" r="0.9"/><circle cx="561.3" cy="137.1" r="0.9"/><circle cx="560.4" cy="141.1" r="0.9"/><circle cx="561" cy="139.5" r="0.9"/><circle cx="561" cy="137.2" r="0.9"/><circle cx="561.6" cy="137.6" r="0.9"/><circle cx="559.8" cy="141" r="0.9"/><circle cx="560" cy="138.4" r="0.9"/><circle cx="560.9" cy="139.2" r="0.9"/><circle cx="562.4" cy="140.4" r="0.9"/><circle cx="561.7" cy="139.3" r="0.9"/><circle cx="561.1" cy="136" r="0.9"/><circle cx="562.5" cy="140.2" r="0.9"/><circle cx="562.8" cy="140.8" r="0.9"/><circle cx="562.4" cy="140.6" r="0.9"/><circle cx="562.3" cy="142.1" r="0.9"/><circle cx="563.5" cy="139.5" r="0.9"/><circle cx="564" cy="140.3" r="0.9"/><circle cx="563.6" cy="141.9" r="0.9"/><circle cx="564.2" cy="138" r="0.9"/><circle cx="563.9" cy="142.1" r="0.9"/><circle cx="563.9" cy="142" r="0.9"/><circle cx="564" cy="140" r="0.9"/><circle cx="564.8" cy="142.1" r="0.9"/><circle cx="564.6" cy="140.1" r="0.9"/><circle cx="564.9" cy="136.5" r="0.9"/><circle cx="566" cy="140.4" r="0.9"/><circle cx="566.3" cy="138.7" r="0.9"/><circle cx="567.7" cy="138.4" r="0.9"/><circle cx="567" cy="137.6" r="0.9"/><circle cx="568.5" cy="140" r="0.9"/><circle cx="568.8" cy="137.9" r="0.9"/><circle cx="569.3" cy="135" r="0.9"/><circle cx="569.3" cy="137.4" r="0.9"/><circle cx="570.7" cy="137.8" r="0.9"/><circle cx="570.8" cy="134.7" r="0.9"/><circle cx="569.9" cy="135.3" r="0.9"/><circle cx="569.7" cy="135.4" r="0.9"/><circle cx="570.5" cy="134.9" r="0.9"/><circle cx="570.6" cy="136.6" r="0.9"/><circle cx="571.9" cy="137.9" r="0.9"/><circle cx="571.6" cy="138.6" r="0.9"/><circle cx="572.3" cy="136.6" r="0.9"/><circle cx="573.4" cy="136.1" r="0.9"/><circle cx="573.7" cy="136.2" r="0.9"/><circle cx="574.3" cy="136.2" r="0.9"/><circle cx="574.9" cy="132.5" r="0.9"/><circle cx="575.8" cy="134.6" r="0.9"/><circle cx="574.5" cy="133.7" r="0.9"/><circle cx="574.5" cy="132.6" r="0.9"/><circle cx="574" cy="131.8" r="0.9"/><circle cx="575.3" cy="131.5" r="0.9"/><circle cx="576" cy="131.8" r="0.9"/><circle cx="575.5" cy="129.5" r="0.9"/><circle cx="576.5" cy="133.1" r="0.9"/><circle cx="576" cy="131.7" r="0.9"/><circle cx="579.6" cy="128.9" r="0.9"/><circle cx="579" cy="129.2" r="0.9"/><circle cx="578.4" cy="129.7" r="0.9"/><circle cx="579.1" cy="126.3" r="0.9"/><circle cx="578.9" cy="126.8" r="0.9"/><circle cx="579.5" cy="122.4" r="0.9"/><circle cx="580.7" cy="121" r="0.9"/><circle cx="581.1" cy="121.6" r="0.9"/><circle cx="582.8" cy="127.7" r="0.9"/><circle cx="581.9" cy="119.7" r="0.9"/><circle cx="582.5" cy="123.6" r="0.9"/><circle cx="582.1" cy="125.6" r="0.9"/><circle cx="583.6" cy="120.8" r="0.9"/><circle cx="583.6" cy="124.9" r="0.9"/><circle cx="583" cy="125.4" r="0.9"/><circle cx="584" cy="123" r="0.9"/><circle cx="584.2" cy="125.7" r="0.9"/><circle cx="582.8" cy="121.6" r="0.9"/><circle cx="584.4" cy="118.3" r="0.9"/><circle cx="584.5" cy="120.3" r="0.9"/><circle cx="584.3" cy="117.8" r="0.9"/><circle cx="584.6" cy="115.2" r="0.9"/><circle cx="586" cy="115.1" r="0.9"/><circle cx="586.5" cy="122.3" r="0.9"/><circle cx="587" cy="114.8" r="0.9"/><circle cx="585.3" cy="115.8" r="0.9"/><circle cx="585.8" cy="113.8" r="0.9"/><circle cx="587" cy="115.2" r="0.9"/><circle cx="587" cy="111.4" r="0.9"/><circle cx="588.3" cy="108.7" r="0.9"/><circle cx="587.7" cy="106.5" r="0.9"/><circle cx="590.1" cy="105.6" r="0.9"/><circle cx="589.8" cy="106.8" r="0.9"/><circle cx="590.1" cy="107.7" r="0.9"/><circle cx="590.1" cy="112" r="0.9"/><circle cx="590.1" cy="108.3" r="0.9"/><circle cx="590.2" cy="110.2" r="0.9"/><circle cx="590.9" cy="106.4" r="0.9"/><circle cx="590.5" cy="104.1" r="0.9"/><circle cx="591.7" cy="100.9" r="0.9"/><circle cx="591" cy="103.5" r="0.9"/><circle cx="590.8" cy="97.8" r="0.9"/><circle cx="592.7" cy="101.1" r="0.9"/><circle cx="591.9" cy="105.7" r="0.9"/><circle cx="593.1" cy="100.5" r="0.9"/><circle cx="594.1" cy="98.6" r="0.9"/><circle cx="593" cy="94.8" r="0.9"/><circle cx="595.5" cy="90.4" r="0.9"/><circle cx="594.9" cy="91.4" r="0.9"/><circle cx="596.5" cy="91.2" r="0.9"/><circle cx="595.1" cy="94.8" r="0.9"/><circle cx="595" cy="96.6" r="0.9"/><circle cx="596.3" cy="89.9" r="0.9"/><circle cx="596.4" cy="90.8" r="0.9"/><circle cx="596.5" cy="90.5" r="0.9"/><circle cx="595.8" cy="89.9" r="0.9"/><circle cx="597.1" cy="87.7" r="0.9"/><circle cx="595.9" cy="90.4" r="0.9"/><circle cx="596.7" cy="90.7" r="0.9"/><circle cx="596.6" cy="90.5" r="0.9"/><circle cx="597.5" cy="85.3" r="0.9"/><circle cx="598.4" cy="87.6" r="0.9"/><circle cx="598.5" cy="81.9" r="0.9"/><circle cx="599.2" cy="88" r="0.9"/><circle cx="599.7" cy="82.8" r="0.9"/><circle cx="598.3" cy="84.5" r="0.9"/><circle cx="599" cy="83.5" r="0.9"/><circle cx="599.9" cy="82.5" r="0.9"/><circle cx="600.3" cy="80.7" r="0.9"/><circle cx="601.1" cy="78.8" r="0.9"/><circle cx="600.3" cy="85.6" r="0.9"/><circle cx="602.1" cy="82.2" r="0.9"/><circle cx="602.6" cy="81.7" r="0.9"/><circle cx="602.5" cy="85" r="0.9"/><circle cx="602.5" cy="79.9" r="0.9"/><circle cx="605" cy="80.6" r="0.9"/><circle cx="604.7" cy="79.5" r="0.9"/><circle cx="605.6" cy="81.8" r="0.9"/><circle cx="605.5" cy="80.4" r="0.9"/><circle cx="606.5" cy="80.2" r="0.9"/><circle cx="606" cy="79.1" r="0.9"/><circle cx="607.3" cy="80.2" r="0.9"/><circle cx="605.8" cy="82.3" r="0.9"/><circle cx="606.8" cy="75.9" r="0.9"/><circle cx="607.7" cy="79.9" r="0.9"/><circle cx="607.1" cy="79.7" r="0.9"/><circle cx="608.5" cy="80" r="0.9"/><circle cx="607.5" cy="76.7" r="0.9"/><circle cx="608.5" cy="82.5" r="0.9"/><circle cx="608.5" cy="79.8" r="0.9"/><circle cx="609.3" cy="81.8" r="0.9"/><circle cx="609.9" cy="81.5" r="0.9"/><circle cx="609.9" cy="79.1" r="0.9"/><circle cx="610.2" cy="82.4" r="0.9"/><circle cx="612.9" cy="81.2" r="0.9"/><circle cx="613.5" cy="86.8" r="0.9"/><circle cx="613.1" cy="88.8" r="0.9"/><circle cx="614.3" cy="89.6" r="0.9"/><circle cx="614.6" cy="90.5" r="0.9"/><circle cx="615.4" cy="91.2" r="0.9"/><circle cx="616.9" cy="99.6" r="0.9"/><circle cx="615.5" cy="96" r="0.9"/><circle cx="616.7" cy="91.9" r="0.9"/><circle cx="617.2" cy="94.4" r="0.9"/><circle cx="617" cy="95.5" r="0.9"/><circle cx="617.6" cy="97.6" r="0.9"/><circle cx="616.6" cy="98.9" r="0.9"/><circle cx="618.4" cy="99.1" r="0.9"/><circle cx="619.9" cy="105.5" r="0.9"/><circle cx="618.1" cy="102.3" r="0.9"/><circle cx="619.3" cy="102.5" r="0.9"/><circle cx="619.9" cy="103" r="0.9"/><circle cx="620.1" cy="103.1" r="0.9"/><circle cx="620.9" cy="107.4" r="0.9"/><circle cx="619.7" cy="107" r="0.9"/><circle cx="620.9" cy="108.9" r="0.9"/><circle cx="621.7" cy="99.3" r="0.9"/><circle cx="620.4" cy="107.6" r="0.9"/><circle cx="621.2" cy="109.4" r="0.9"/><circle cx="622.5" cy="112" r="0.9"/><circle cx="622.4" cy="107.7" r="0.9"/><circle cx="622" cy="103.7" r="0.9"/><circle cx="621.2" cy="111.4" r="0.9"/><circle cx="622.9" cy="109.2" r="0.9"/><circle cx="623.7" cy="107.4" r="0.9"/><circle cx="623.4" cy="110.3" r="0.9"/><circle cx="625.8" cy="117.6" r="0.9"/><circle cx="629.9" cy="120.2" r="0.9"/><circle cx="628.1" cy="119.3" r="0.9"/><circle cx="627.8" cy="115.8" r="0.9"/><circle cx="628.8" cy="123.1" r="0.9"/><circle cx="629.3" cy="115.9" r="0.9"/><circle cx="629.6" cy="118" r="0.9"/><circle cx="630.2" cy="115.1" r="0.9"/><circle cx="630.9" cy="120.5" r="0.9"/><circle cx="630.8" cy="118.6" r="0.9"/><circle cx="630.1" cy="119.3" r="0.9"/><circle cx="630.8" cy="117.6" r="0.9"/><circle cx="631.7" cy="116.6" r="0.9"/><circle cx="632.5" cy="114" r="0.9"/><circle cx="633.6" cy="108" r="0.9"/><circle cx="633.5" cy="115.6" r="0.9"/><circle cx="632.8" cy="114.5" r="0.9"/><circle cx="633.8" cy="109.3" r="0.9"/><circle cx="634.9" cy="109.9" r="0.9"/><circle cx="635.1" cy="109.1" r="0.9"/><circle cx="634.5" cy="112.7" r="0.9"/><circle cx="635.2" cy="106.9" r="0.9"/><circle cx="634.8" cy="102.1" r="0.9"/><circle cx="634.4" cy="99.2" r="0.9"/><circle cx="635.8" cy="92.5" r="0.9"/><circle cx="635.7" cy="96.7" r="0.9"/><circle cx="636" cy="99" r="0.9"/><circle cx="636.3" cy="92" r="0.9"/><circle cx="636.6" cy="93.2" r="0.9"/><circle cx="636.3" cy="94.9" r="0.9"/><circle cx="637.5" cy="88.2" r="0.9"/><circle cx="638.4" cy="79.5" r="0.9"/><circle cx="638.8" cy="72.5" r="0.9"/><circle cx="639.5" cy="67.2" r="0.9"/><circle cx="638.8" cy="58" r="0.9"/><circle cx="639.6" cy="58.9" r="0.9"/><circle cx="641" cy="46.6" r="0.9"/><circle cx="641.4" cy="59.9" r="0.9"/><circle cx="640.5" cy="47.9" r="0.9"/><circle cx="640.6" cy="55.6" r="0.9"/><circle cx="639.9" cy="52" r="0.9"/><circle cx="641.4" cy="53" r="0.9"/><circle cx="641.9" cy="49.6" r="0.9"/><circle cx="640.9" cy="47.3" r="0.9"/><circle cx="642.8" cy="55" r="0.9"/><circle cx="643" cy="53.6" r="0.9"/><circle cx="643.2" cy="54.4" r="0.9"/><circle cx="642.6" cy="56.9" r="0.9"/><circle cx="644.1" cy="68.4" r="0.9"/><circle cx="643.4" cy="73.4" r="0.9"/><circle cx="645.2" cy="69.5" r="0.9"/><circle cx="644.7" cy="59.2" r="0.9"/><circle cx="644" cy="68.6" r="0.9"/><circle cx="645.6" cy="73.9" r="0.9"/><circle cx="646.1" cy="90.9" r="0.9"/><circle cx="645.4" cy="84.6" r="0.9"/><circle cx="648" cy="88.3" r="0.9"/><circle cx="647.1" cy="93.1" r="0.9"/><circle cx="648.2" cy="89.9" r="0.9"/><circle cx="648.8" cy="89.9" r="0.9"/><circle cx="647.2" cy="88.4" r="0.9"/><circle cx="649.7" cy="71.4" r="0.9"/><circle cx="649.1" cy="89.5" r="0.9"/><circle cx="650.3" cy="68.3" r="0.9"/><circle cx="649.8" cy="55.3" r="0.9"/><circle cx="650.6" cy="42.2" r="0.9"/><circle cx="649.9" cy="59.6" r="0.9"/><circle cx="650.6" cy="64.4" r="0.9"/><circle cx="651.1" cy="23.2" r="0.9"/><circle cx="650.8" cy="12.6" r="0.9"/><circle cx="652.9" cy="23.5" r="0.9"/><circle cx="651.9" cy="3" r="0.9"/><circle cx="652.3" cy="0.5" r="0.9"/><circle cx="653.1" cy="9.9" r="0.9"/><circle cx="653.5" cy="9.4" r="0.9"/><circle cx="654.3" cy="16.3" r="0.9"/><circle cx="655.7" cy="37.3" r="0.9"/><circle cx="655.4" cy="54.5" r="0.9"/><circle cx="655.6" cy="53.9" r="0.9"/><circle cx="655.9" cy="49.8" r="0.9"/><circle cx="656.9" cy="62" r="0.9"/><circle cx="656.9" cy="74.3" r="0.9"/><circle cx="656.6" cy="84.6" r="0.9"/><circle cx="656.1" cy="90.8" r="0.9"/><circle cx="658.7" cy="89.9" r="0.9"/><circle cx="658.1" cy="54.2" r="0.9"/><circle cx="658.6" cy="88.1" r="0.9"/><circle cx="658.7" cy="94.4" r="0.9"/><circle cx="658.2" cy="99.2" r="0.9"/><circle cx="659.2" cy="100.4" r="0.9"/><circle cx="659.8" cy="119.5" r="0.9"/><circle cx="660" cy="114.2" r="0.9"/><circle cx="659.8" cy="109.6" r="0.9"/><circle cx="659.3" cy="113.8" r="0.9"/><circle cx="660.1" cy="112.4" r="0.9"/><circle cx="660.8" cy="111.3" r="0.9"/><circle cx="660.3" cy="118.4" r="0.9"/><circle cx="660.7" cy="114.7" r="0.9"/><circle cx="659.7" cy="111.7" r="0.9"/><circle cx="661" cy="116.5" r="0.9"/><circle cx="661.3" cy="120.1" r="0.9"/><circle cx="660.7" cy="116.7" r="0.9"/><circle cx="660.5" cy="126.3" r="0.9"/><circle cx="661.8" cy="117.2" r="0.9"/><circle cx="661.1" cy="128.6" r="0.9"/><circle cx="662.8" cy="128.9" r="0.9"/><circle cx="662.3" cy="123.4" r="0.9"/><circle cx="663.2" cy="127.7" r="0.9"/><circle cx="662.7" cy="131.3" r="0.9"/><circle cx="662.1" cy="127.3" r="0.9"/><circle cx="663.3" cy="125.6" r="0.9"/><circle cx="663.2" cy="129.7" r="0.9"/><circle cx="664" cy="135.6" r="0.9"/><circle cx="663.9" cy="127.7" r="0.9"/><circle cx="664" cy="133.3" r="0.9"/><circle cx="665.4" cy="133.4" r="0.9"/><circle cx="665.6" cy="133.1" r="0.9"/><circle cx="665.4" cy="132.6" r="0.9"/><circle cx="665.6" cy="132.9" r="0.9"/><circle cx="665.4" cy="136.5" r="0.9"/><circle cx="666" cy="136.1" r="0.9"/><circle cx="666.9" cy="134.1" r="0.9"/><circle cx="666.9" cy="140.3" r="0.9"/><circle cx="666.8" cy="134" r="0.9"/><circle cx="667.3" cy="139" r="0.9"/><circle cx="668.9" cy="138.3" r="0.9"/><circle cx="667.5" cy="140.5" r="0.9"/><circle cx="667.5" cy="138.9" r="0.9"/><circle cx="667.9" cy="141.1" r="0.9"/><circle cx="668.4" cy="139.1" r="0.9"/><circle cx="669.8" cy="142.5" r="0.9"/><circle cx="669.1" cy="141.3" r="0.9"/><circle cx="669.3" cy="145.6" r="0.9"/><circle cx="670.8" cy="139.9" r="0.9"/><circle cx="669.8" cy="143.9" r="0.9"/><circle cx="671.2" cy="142.6" r="0.9"/><circle cx="671.5" cy="142.2" r="0.9"/><circle cx="673.3" cy="141.6" r="0.9"/><circle cx="674" cy="143.9" r="0.9"/><circle cx="673.3" cy="140.1" r="0.9"/><circle cx="672.9" cy="140.3" r="0.9"/><circle cx="672.8" cy="144.7" r="0.9"/><circle cx="673.3" cy="140.3" r="0.9"/><circle cx="674.2" cy="146.5" r="0.9"/><circle cx="673.5" cy="143.3" r="0.9"/><circle cx="674.9" cy="144.5" r="0.9"/><circle cx="675.4" cy="144.4" r="0.9"/><circle cx="676.4" cy="145.3" r="0.9"/><circle cx="676.7" cy="144.3" r="0.9"/><circle cx="677" cy="144.1" r="0.9"/><circle cx="676.5" cy="144.6" r="0.9"/><circle cx="677.6" cy="147.3" r="0.9"/><circle cx="676.9" cy="147.5" r="0.9"/><circle cx="678.2" cy="147.8" r="0.9"/><circle cx="679.1" cy="146" r="0.9"/><circle cx="678.4" cy="144.9" r="0.9"/><circle cx="678.5" cy="142" r="0.9"/><circle cx="677.7" cy="146.6" r="0.9"/><circle cx="679.3" cy="147.1" r="0.9"/><circle cx="678.3" cy="144.7" r="0.9"/><circle cx="679.8" cy="147.3" r="0.9"/><circle cx="679.5" cy="148.3" r="0.9"/><circle cx="679.4" cy="146" r="0.9"/><circle cx="681" cy="148.1" r="0.9"/><circle cx="680.4" cy="146.6" r="0.9"/><circle cx="680.8" cy="142.6" r="0.9"/><circle cx="681.3" cy="145.2" r="0.9"/><circle cx="681.6" cy="145.5" r="0.9"/><circle cx="682.2" cy="147.5" r="0.9"/><circle cx="682.7" cy="144.8" r="0.9"/><circle cx="682.4" cy="145.7" r="0.9"/><circle cx="682.8" cy="144.7" r="0.9"/><circle cx="682.7" cy="146.5" r="0.9"/></g>
<path d="M552.7 141.9 L553.2 141.9 L553.7 141.9 L554.2 141.9 L554.7 141.9 L555.2 141.9 L555.7 141.9 L556.2 141.9 L556.7 141.9 L557.2 141.9 L557.7 141.9 L558.2 141.9 L558.7 141.9 L559.2 141.9 L559.7 141.9 L560.2 141.9 L560.7 141.9 L561.2 141.9 L561.7 141.9 L562.2 141.9 L562.7 141.9 L563.2 141.9 L563.7 141.9 L564.2 141.9 L564.7 142 L565.2 142 L565.8 142 L566.3 142 L566.8 142 L567.3 142 L567.8 142 L568.3 142 L568.8 142 L569.3 142 L569.8 142 L570.3 142 L570.8 142 L571.3 142 L571.8 142 L572.3 142 L572.8 142 L573.3 142 L573.8 142 L574.3 142 L574.8 142.1 L575.3 142.1 L575.8 142.1 L576.3 142.1 L576.8 142.1 L577.3 142.1 L577.8 142.1 L578.3 142.1 L578.8 142.1 L579.3 142.1 L579.8 142.2 L580.3 142.2 L580.8 142.2 L581.3 142.2 L581.8 142.2 L582.3 142.2 L582.8 142.2 L583.3 142.3 L583.8 142.3 L584.3 142.3 L584.8 142.3 L585.3 142.3 L585.8 142.4 L586.3 142.4 L586.8 142.4 L587.3 142.4 L587.8 142.5 L588.3 142.5 L588.8 142.5 L589.3 142.6 L589.8 142.6 L590.3 142.6 L590.8 142.7 L591.3 142.7 L591.9 142.7 L592.4 142.8 L592.9 142.8 L593.4 142.8 L593.9 142.9 L594.4 142.9 L594.9 143 L595.4 143 L595.9 143 L596.4 143.1 L596.9 143.1 L597.4 143.2 L597.9 143.2 L598.4 143.3 L598.9 143.3 L599.4 143.4 L599.9 143.4 L600.4 143.5 L600.9 143.6 L601.4 143.6 L601.9 143.7 L602.4 143.7 L602.9 143.8 L603.4 143.8 L603.9 143.9 L604.4 143.9 L604.9 144 L605.4 144.1 L605.9 144.1 L606.4 144.2 L606.9 144.2 L607.4 144.3 L607.9 144.4 L608.4 144.4 L608.9 144.5 L609.4 144.5 L609.9 144.6 L610.4 144.6 L610.9 144.7 L611.4 144.7 L611.9 144.8 L612.4 144.9 L612.9 144.9 L613.4 145 L613.9 145 L614.4 145.1 L614.9 145.1 L615.4 145.1 L615.9 145.2 L616.4 145.2 L616.9 145.3 L617.4 145.3 L618 145.4 L618.5 145.4 L619 145.5 L619.5 145.5 L620 145.5 L620.5 145.6 L621 145.6 L621.5 145.6 L622 145.7 L622.5 145.7 L623 145.7 L623.5 145.8 L624 145.8 L624.5 145.8 L625 145.9 L625.5 145.9 L626 145.9 L626.5 145.9 L627 146 L627.5 146 L628 146 L628.5 146 L629 146.1 L629.5 146.1 L630 146.1 L630.5 146.1 L631 146.2 L631.5 146.2 L632 146.2 L632.5 146.3 L633 146.3 L633.5 146.3 L634 146.3 L634.5 146.4 L635 146.4 L635.5 146.4 L636 146.5 L636.5 146.5 L637 146.6 L637.5 146.6 L638 146.7 L638.5 146.7 L639 146.8 L639.5 146.9 L640 147 L640.5 147 L641 147.1 L641.5 147.2 L642 147.3 L642.5 147.3 L643 147.4 L643.5 147.5 L644.1 147.5 L644.6 147.6 L645.1 147.6 L645.6 147.7 L646.1 147.7 L646.6 147.8 L647.1 147.8 L647.6 147.9 L648.1 147.9 L648.6 148 L649.1 148 L649.6 148.1 L650.1 148.2 L650.6 148.2 L651.1 148.3 L651.6 148.4 L652.1 148.5 L652.6 148.6 L653.1 148.7 L653.6 148.9 L654.1 149 L654.6 149.1 L655.1 149.2 L655.6 149.3 L656.1 149.4 L656.6 149.4 L657.1 149.5 L657.6 149.6 L658.1 149.6 L658.6 149.7 L659.1 149.7 L659.6 149.8 L660.1 149.8 L660.6 149.8 L661.1 149.9 L661.6 149.9 L662.1 149.9 L662.6 150 L663.1 150 L663.6 150 L664.1 150 L664.6 150 L665.1 150 L665.6 150.1 L666.1 150.1 L666.6 150.1 L667.1 150.1 L667.6 150.1 L668.1 150.1 L668.6 150.1 L669.1 150.1 L669.6 150.1 L670.2 150.2 L670.7 150.2 L671.2 150.2 L671.7 150.2 L672.2 150.2 L672.7 150.2 L673.2 150.2 L673.7 150.2 L674.2 150.2 L674.7 150.2 L675.2 150.2 L675.7 150.2 L676.2 150.2 L676.7 150.2 L677.2 150.2 L677.7 150.3 L678.2 150.3 L678.7 150.3 L679.2 150.3 L679.7 150.3 L680.2 150.3 L680.7 150.3 L681.2 150.3 L681.7 150.3 L682.2 150.3 L682.7 150.3 L683.2 150.3" fill="none" stroke="#b8b8b8" stroke-width="0.9"/>
<path d="M552.7 140.1 L553.2 140.1 L553.7 140 L554.2 140 L554.7 139.9 L555.2 139.9 L555.7 139.9 L556.2 139.8 L556.7 139.8 L557.2 139.7 L557.7 139.7 L558.2 139.6 L558.7 139.5 L559.2 139.5 L559.7 139.4 L560.2 139.3 L560.7 139.2 L561.2 139.2 L561.7 139.1 L562.2 139 L562.7 138.9 L563.2 138.8 L563.7 138.6 L564.2 138.5 L564.7 138.4 L565.2 138.2 L565.8 138.1 L566.3 137.9 L566.8 137.8 L567.3 137.6 L567.8 137.4 L568.3 137.2 L568.8 137 L569.3 136.7 L569.8 136.5 L570.3 136.2 L570.8 135.9 L571.3 135.6 L571.8 135.3 L572.3 135 L572.8 134.6 L573.3 134.2 L573.8 133.8 L574.3 133.4 L574.8 133 L575.3 132.5 L575.8 132 L576.3 131.5 L576.8 130.9 L577.3 130.4 L577.8 129.8 L578.3 129.1 L578.8 128.5 L579.3 127.8 L579.8 127.1 L580.3 126.3 L580.8 125.6 L581.3 124.8 L581.8 123.9 L582.3 123.1 L582.8 122.2 L583.3 121.3 L583.8 120.3 L584.3 119.3 L584.8 118.3 L585.3 117.3 L585.8 116.2 L586.3 115.1 L586.8 114 L587.3 112.9 L587.8 111.7 L588.3 110.6 L588.8 109.4 L589.3 108.2 L589.8 107 L590.3 105.7 L590.8 104.5 L591.3 103.2 L591.9 102 L592.4 100.7 L592.9 99.5 L593.4 98.2 L593.9 97 L594.4 95.8 L594.9 94.5 L595.4 93.4 L595.9 92.2 L596.4 91 L596.9 89.9 L597.4 88.8 L597.9 87.8 L598.4 86.8 L598.9 85.9 L599.4 85 L599.9 84.1 L600.4 83.3 L600.9 82.6 L601.4 81.9 L601.9 81.3 L602.4 80.8 L602.9 80.4 L603.4 80 L603.9 79.7 L604.4 79.5 L604.9 79.4 L605.4 79.4 L605.9 79.4 L606.4 79.6 L606.9 79.8 L607.4 80.1 L607.9 80.4 L608.4 80.9 L608.9 81.4 L609.4 82 L609.9 82.7 L610.4 83.4 L610.9 84.2 L611.4 85 L611.9 85.9 L612.4 86.9 L612.9 87.9 L613.4 88.9 L613.9 90 L614.4 91.1 L614.9 92.2 L615.4 93.3 L615.9 94.5 L616.4 95.7 L616.9 96.9 L617.4 98 L618 99.2 L618.5 100.4 L619 101.6 L619.5 102.8 L620 103.9 L620.5 105.1 L621 106.2 L621.5 107.3 L622 108.4 L622.5 109.4 L623 110.4 L623.5 111.4 L624 112.3 L624.5 113.2 L625 114 L625.5 114.8 L626 115.5 L626.5 116.1 L627 116.7 L627.5 117.2 L628 117.6 L628.5 117.9 L629 118.1 L629.5 118.1 L630 118 L630.5 117.7 L631 117.2 L631.5 116.5 L632 115.6 L632.5 114.4 L633 112.8 L633.5 110.9 L634 108.7 L634.5 106.1 L635 103 L635.5 99.5 L636 95.6 L636.5 91.3 L637 86.6 L637.5 81.5 L638 76.2 L638.5 70.8 L639 65.4 L639.5 60.4 L640 56 L640.5 52.5 L641 50.1 L641.5 49.1 L642 49.5 L642.5 51.3 L643 54.6 L643.5 59 L644.1 64.3 L644.6 69.9 L645.1 75.4 L645.6 80.4 L646.1 84.7 L646.6 88 L647.1 90.1 L647.6 90.8 L648.1 89.9 L648.6 87.3 L649.1 82.7 L649.6 75.9 L650.1 66.6 L650.6 55 L651.1 41.5 L651.6 27.5 L652.1 15.6 L652.6 9.1 L653.1 9.9 L653.6 14.7 L654.1 22.2 L654.6 31.3 L655.1 41.1 L655.6 50.9 L656.1 60.3 L656.6 69.2 L657.1 77.5 L657.6 85 L658.1 91.8 L658.6 97.9 L659.1 103.3 L659.6 108 L660.1 112.2 L660.6 115.9 L661.1 119 L661.6 121.8 L662.1 124.3 L662.6 126.4 L663.1 128.3 L663.6 129.9 L664.1 131.3 L664.6 132.6 L665.1 133.8 L665.6 134.8 L666.1 135.7 L666.6 136.6 L667.1 137.3 L667.6 138 L668.1 138.7 L668.6 139.2 L669.1 139.8 L669.6 140.3 L670.2 140.7 L670.7 141.2 L671.2 141.6 L671.7 141.9 L672.2 142.3 L672.7 142.6 L673.2 142.9 L673.7 143.2 L674.2 143.5 L674.7 143.7 L675.2 144 L675.7 144.2 L676.2 144.4 L676.7 144.6 L677.2 144.8 L677.7 145 L678.2 145.2 L678.7 145.3 L679.2 145.5 L679.7 145.6 L680.2 145.8 L680.7 145.9 L681.2 146 L681.7 146.2 L682.2 146.3 L682.7 146.4 L683.2 146.5" fill="none" stroke="#a8a8a8" stroke-width="1.2"/>
</g>
<rect x="292.2" y="1.3" width="389.6" height="158.8" fill="none" stroke="#000" stroke-width="1.2"/>
<line x1="422.3" y1="1" x2="422.3" y2="160" stroke="#000" stroke-width="1.2"/>
<line x1="552.8" y1="1" x2="552.8" y2="160" stroke="#000" stroke-width="1.2"/>
<line x1="412.3" y1="160" x2="412.3" y2="158.2" stroke="#000" stroke-width="1"/>
<line x1="392.2" y1="160" x2="392.2" y2="156.7" stroke="#000" stroke-width="1"/>
<line x1="372.1" y1="160" x2="372.1" y2="158.2" stroke="#000" stroke-width="1"/>
<line x1="352" y1="160" x2="352" y2="156.7" stroke="#000" stroke-width="1"/>
<line x1="331.9" y1="160" x2="331.9" y2="158.2" stroke="#000" stroke-width="1"/>
<line x1="311.8" y1="160" x2="311.8" y2="156.7" stroke="#000" stroke-width="1"/>
<line x1="542.8" y1="160" x2="542.8" y2="158.2" stroke="#000" stroke-width="1"/>
<line x1="522.7" y1="160" x2="522.7" y2="156.7" stroke="#000" stroke-width="1"/>
<line x1="502.6" y1="160" x2="502.6" y2="158.2" stroke="#000" stroke-width="1"/>
<line x1="482.5" y1="160" x2="482.5" y2="156.7" stroke="#000" stroke-width="1"/>
<line x1="462.4" y1="160" x2="462.4" y2="158.2" stroke="#000" stroke-width="1"/>
<line x1="442.3" y1="160" x2="442.3" y2="156.7" stroke="#000" stroke-width="1"/>
<line x1="673.3" y1="160" x2="673.3" y2="158.2" stroke="#000" stroke-width="1"/>
<line x1="653.2" y1="160" x2="653.2" y2="156.7" stroke="#000" stroke-width="1"/>
<line x1="633.1" y1="160" x2="633.1" y2="158.2" stroke="#000" stroke-width="1"/>
<line x1="613" y1="160" x2="613" y2="156.7" stroke="#000" stroke-width="1"/>
<line x1="592.9" y1="160" x2="592.9" y2="158.2" stroke="#000" stroke-width="1"/>
<line x1="572.8" y1="160" x2="572.8" y2="156.7" stroke="#000" stroke-width="1"/>
<g font-family="Liberation Serif" font-weight="bold">
<text x="311.8" y="174.2" font-size="11.3" text-anchor="middle" fill="#000" >172</text>
<text x="352" y="174.2" font-size="11.3" text-anchor="middle" fill="#000" >168</text>
<text x="392.2" y="174.2" font-size="11.3" text-anchor="middle" fill="#000" >164</text>
<text x="442.3" y="174.2" font-size="11.3" text-anchor="middle" fill="#000" >172</text>
<text x="482.5" y="174.2" font-size="11.3" text-anchor="middle" fill="#000" >168</text>
<text x="522.7" y="174.2" font-size="11.3" text-anchor="middle" fill="#000" >164</text>
<text x="572.8" y="174.2" font-size="11.3" text-anchor="middle" fill="#000" >172</text>
<text x="613" y="174.2" font-size="11.3" text-anchor="middle" fill="#000" >168</text>
<text x="653.2" y="174.2" font-size="11.3" text-anchor="middle" fill="#000" >164</text>
<text x="337.5" y="21.5" font-size="13" text-anchor="start" fill="#000" >0SCNT</text>
<text x="463.3" y="21.5" font-size="13" text-anchor="start" fill="#000" >0.4SCNT</text>
<text x="591.8" y="21.5" font-size="13" text-anchor="start" fill="#000" >0.9SCNT</text>
<text x="295" y="17.8" font-size="16" text-anchor="start" fill="#000" >b</text>
<text x="440" y="188" font-size="11.8" text-anchor="start" fill="#000" >Binding Engery (eV)</text>
<text transform="translate(285.2,87.7) rotate(-90)" font-size="11.6" text-anchor="middle">Intensity (a.u.)</text>
</g>
<g font-family="Liberation Serif" font-weight="bold" font-size="11.5">
<text x="344.2" y="85.8" font-size="12.7" text-anchor="start" fill="#f4a466" >C=S</text>
<text x="400.2" y="80.3" font-size="12.7" text-anchor="start" fill="#6f8cf0" >C-S</text>
<text x="480" y="85.3" font-size="12.7" text-anchor="start" fill="#f4a466" >C=S</text>
<text x="529.8" y="71.1" font-size="12.7" text-anchor="start" fill="#6f8cf0" >C-S</text>
<text x="610.9" y="71.1" font-size="12.7" text-anchor="start" fill="#f4a466" >C=S</text>
<text x="660.2" y="60.9" font-size="12.7" text-anchor="start" fill="#6f8cf0" >C-S</text>
<text x="433.5" y="99.7" font-size="12.7" fill="#f38585">-SO<tspan font-size="8.5" dy="2.5">3</tspan><tspan dy="-2.5">H</tspan></text>
<text x="562.4" y="83.6" font-size="12.7" fill="#f38585">-SO<tspan font-size="8.5" dy="2.5">3</tspan><tspan dy="-2.5">H</tspan></text>
</g>
<line x1="362.5" y1="92" x2="375.3" y2="121.9" stroke="#f4a466" stroke-width="1.1"/>
<polygon points="377.5,127 372.9,123 377.7,120.9" fill="#f4a466"/>
<line x1="404.5" y1="85" x2="395.4" y2="109.8" stroke="#6f8cf0" stroke-width="1.1"/>
<polygon points="393.5,115 393,108.9 397.8,110.7" fill="#6f8cf0"/>
<line x1="453.8" y1="106.7" x2="463.6" y2="126.6" stroke="#f38585" stroke-width="1.1"/>
<polygon points="466,131.5 461.2,127.7 465.9,125.4" fill="#f38585"/>
<line x1="489.5" y1="82" x2="502.1" y2="116.8" stroke="#f4a466" stroke-width="1.1"/>
<polygon points="504,122 499.7,117.7 504.6,115.9" fill="#f4a466"/>
<line x1="538" y1="76" x2="527.7" y2="107.8" stroke="#6f8cf0" stroke-width="1.1"/>
<polygon points="526,113 525.2,107 530.2,108.6" fill="#6f8cf0"/>
<line x1="586" y1="92" x2="597.5" y2="114.1" stroke="#f38585" stroke-width="1.1"/>
<polygon points="600,119 595.2,115.3 599.8,112.9" fill="#f38585"/>
<line x1="624" y1="76" x2="633.6" y2="111.7" stroke="#f4a466" stroke-width="1.1"/>
<polygon points="635,117 631.1,112.4 636.1,111" fill="#f4a466"/>
<line x1="666" y1="66" x2="656.7" y2="94.8" stroke="#6f8cf0" stroke-width="1.1"/>
<polygon points="655,100 654.2,94 659.2,95.6" fill="#6f8cf0"/>
<rect x="15.5" y="203.3" width="67.3" height="11.2" fill="#a3b2f2"/>
<rect x="15.5" y="215.6" width="51.9" height="11.2" fill="#f9c9a0"/>
<rect x="15.5" y="227.9" width="106.2" height="11.2" fill="#f48b8f"/>
<rect x="15.5" y="252.3" width="64.9" height="11.2" fill="#a3b2f2"/>
<rect x="15.5" y="264.6" width="56.6" height="11.2" fill="#f9c9a0"/>
<rect x="15.5" y="276.9" width="47.2" height="11.2" fill="#f48b8f"/>
<rect x="15.5" y="301.3" width="63.7" height="11.2" fill="#a3b2f2"/>
<rect x="15.5" y="313.6" width="50.7" height="11.2" fill="#f9c9a0"/>
<line x1="87.4" y1="221.2" x2="145" y2="221.2" stroke="#ebebeb" stroke-width="0.6"/>
<line x1="92.1" y1="270.2" x2="145" y2="270.2" stroke="#ebebeb" stroke-width="0.6"/>
<line x1="86.2" y1="319.2" x2="145" y2="319.2" stroke="#ebebeb" stroke-width="0.6"/>
<rect x="15.2" y="201.3" width="130" height="137.6" fill="none" stroke="#000" stroke-width="1.2"/>
<line x1="15.5" y1="338.9" x2="15.5" y2="335.6" stroke="#000" stroke-width="1"/>
<line x1="22.6" y1="338.9" x2="22.6" y2="337.1" stroke="#000" stroke-width="1"/>
<line x1="29.7" y1="338.9" x2="29.7" y2="337.1" stroke="#000" stroke-width="1"/>
<line x1="36.7" y1="338.9" x2="36.7" y2="337.1" stroke="#000" stroke-width="1"/>
<line x1="43.8" y1="338.9" x2="43.8" y2="337.1" stroke="#000" stroke-width="1"/>
<line x1="50.9" y1="338.9" x2="50.9" y2="335.6" stroke="#000" stroke-width="1"/>
<line x1="58" y1="338.9" x2="58" y2="337.1" stroke="#000" stroke-width="1"/>
<line x1="65.1" y1="338.9" x2="65.1" y2="337.1" stroke="#000" stroke-width="1"/>
<line x1="72.1" y1="338.9" x2="72.1" y2="337.1" stroke="#000" stroke-width="1"/>
<line x1="79.2" y1="338.9" x2="79.2" y2="337.1" stroke="#000" stroke-width="1"/>
<line x1="86.3" y1="338.9" x2="86.3" y2="335.6" stroke="#000" stroke-width="1"/>
<line x1="93.4" y1="338.9" x2="93.4" y2="337.1" stroke="#000" stroke-width="1"/>
<line x1="100.5" y1="338.9" x2="100.5" y2="337.1" stroke="#000" stroke-width="1"/>
<line x1="107.5" y1="338.9" x2="107.5" y2="337.1" stroke="#000" stroke-width="1"/>
<line x1="114.6" y1="338.9" x2="114.6" y2="337.1" stroke="#000" stroke-width="1"/>
<line x1="121.7" y1="338.9" x2="121.7" y2="335.6" stroke="#000" stroke-width="1"/>
<line x1="128.8" y1="338.9" x2="128.8" y2="337.1" stroke="#000" stroke-width="1"/>
<line x1="135.9" y1="338.9" x2="135.9" y2="337.1" stroke="#000" stroke-width="1"/>
<line x1="142.9" y1="338.9" x2="142.9" y2="337.1" stroke="#000" stroke-width="1"/>
<rect x="94.2" y="269.2" width="13" height="7.1" fill="#f48b8f"/>
<rect x="94.2" y="282.5" width="13" height="7.1" fill="#f9c9a0"/>
<rect x="94.2" y="293.6" width="13" height="7.1" fill="#a3b2f2"/>
<g font-family="Liberation Serif" font-weight="bold">
<text x="111.3" y="277" font-size="9.6">SO<tspan font-size="6.5" dy="2">3</tspan><tspan dy="-2">H</tspan></text>
<text x="111.3" y="289.5" font-size="9.6" text-anchor="start" fill="#000" >C=S</text>
<text x="111.3" y="300.5" font-size="9.6" text-anchor="start" fill="#000" >C-S</text>
<text x="83.1" y="212.1" font-size="8.8" text-anchor="start" fill="#000" >0.57</text>
<text x="67.7" y="224.4" font-size="8.8" text-anchor="start" fill="#000" >0.44</text>
<text x="122" y="236.7" font-size="8.8" text-anchor="start" fill="#000" >0.9</text>
<text x="80.7" y="261.1" font-size="8.8" text-anchor="start" fill="#000" >0.55</text>
<text x="72.4" y="273.4" font-size="8.8" text-anchor="start" fill="#000" >0.48</text>
<text x="63" y="285.7" font-size="8.8" text-anchor="start" fill="#000" >0.4</text>
<text x="79.5" y="310.1" font-size="8.8" text-anchor="start" fill="#000" >0.54</text>
<text x="66.5" y="322.4" font-size="8.8" text-anchor="start" fill="#000" >0.43</text>
<text x="15.8" y="334.7" font-size="8.8" text-anchor="start" fill="#000" >0</text>
<text x="15.5" y="349.5" font-size="10.3" text-anchor="middle" fill="#000" >0.0</text>
<text x="50.9" y="349.5" font-size="10.3" text-anchor="middle" fill="#000" >0.3</text>
<text x="86.3" y="349.5" font-size="10.3" text-anchor="middle" fill="#000" >0.6</text>
<text x="121.7" y="349.5" font-size="10.3" text-anchor="middle" fill="#000" >0.9</text>
<text x="77" y="357.7" font-size="10.4" text-anchor="middle" fill="#000" >Content (at%)</text>
<text x="19.5" y="214.6" font-size="19.5" text-anchor="start" fill="#000" >c</text>
<text transform="translate(12.6,221.3) rotate(-90)" font-size="11.5" text-anchor="middle">0.9SCNT</text>
<text transform="translate(12.6,270.3) rotate(-90)" font-size="11.5" text-anchor="middle">0.4SCNT</text>
<text transform="translate(12.6,319.3) rotate(-90)" font-size="11.5" text-anchor="middle">0SCNT</text>
</g>
<path d="M173.6 223.6 L234.2 215.3 L320.8 224.1 M174.1 246.9 L233.8 234.8 L320.4 245.1 M174.6 270.2 L233.4 254.3 L320.1 266.1 M175.1 293.4 L233 273.9 L319.7 287.1 M175.7 316.7 L232.6 293.4 L319.3 308.1 M221.2 303.1 L222.2 206.8 M249.8 301.3 L251.7 207.1 M209.8 308 L210 208.1 M267.2 304.3 L269 208.7 M198.5 312.8 L197.7 209.4 M284.5 307.3 L286.4 210.4 M187.1 317.7 L185.5 210.7 M301.9 310.3 L303.7 212" fill="none" stroke="#cfcfcf" stroke-width="0.6" stroke-dasharray="1,1.2"/>
<path d="M173.3 212 L234.4 205.5 L321 213.6 M234.4 205.5 L232.5 298.3 M321 213.6 L319.2 313.3" fill="none" stroke="#c8c8c8" stroke-width="0.8"/>
<defs><linearGradient id="fld" gradientUnits="userSpaceOnUse" x1="175.8" y1="322.5" x2="196.7" y2="371.6"><stop offset="0" stop-color="#f28a8a"/><stop offset="0.08" stop-color="#f6aaaa"/><stop offset="0.2" stop-color="#fdf4f6"/><stop offset="0.26" stop-color="#f4f4fc"/><stop offset="0.4" stop-color="#bcc2f4"/><stop offset="0.65" stop-color="#8c96ee"/><stop offset="1" stop-color="#7682ec"/></linearGradient>
<linearGradient id="sfd" gradientUnits="userSpaceOnUse" x1="184.2" y1="224.2" x2="199.1" y2="302.8"><stop offset="0" stop-color="#6a78ec"/><stop offset="0.315" stop-color="#a6aef3"/><stop offset="0.525" stop-color="#ffffff"/><stop offset="0.691" stop-color="#f9c4c4"/><stop offset="1" stop-color="#f27070"/></linearGradient>
<linearGradient id="cbd" x1="0" y1="0" x2="0" y2="1"><stop offset="0" stop-color="#6474ec"/><stop offset="0.5" stop-color="#ffffff"/><stop offset="1" stop-color="#ee5c5c"/></linearGradient></defs>
<polygon points="175.8,322.5 275,344.2 319.2,313.3 232.5,298.3" fill="url(#fld)"/>
<polygon points="176.4,293.3 182,286.7 187.6,280 188.7,271 192,265.6 196.4,264.4 198.7,260 203.1,248.9 206.4,242.2 225,238.9 232.8,236.1 234.4,232.8 241.7,231.1 251.7,229.4 258.3,225.6 274.4,221.1 296.7,217.8 316.7,212.5 321,213 319,215.5 305,221 296.7,223.5 285.6,224.5 274.4,228 263.3,232.5 259,236 259,258 245,254 243.3,260 241,280 237,289 231,289.4 229.5,297 227.5,291.7 223.5,292 222.8,298 221,291.7 216.4,290 194.2,291.1 177.8,295" fill="url(#sfd)" stroke="none"/>
<defs><linearGradient id="bgd" gradientUnits="userSpaceOnUse" x1="275.5" y1="219.5" x2="277.5" y2="228.5"><stop offset="0" stop-color="#a6aef5"/><stop offset="0.5" stop-color="#8c97f0"/><stop offset="1" stop-color="#7684ec"/></linearGradient></defs>
<polygon points="232.8,236.1 234.4,232.8 241.7,231.1 251.7,229.4 258.3,225.6 262,224 274.4,221.1 296.7,217.8 316.7,212.5 321,213 319,215.5 305,221 296.7,223.5 285.6,224.5 274.4,228 263.3,232.5 252.2,235.5 243.3,238 234.4,240.5" fill="url(#bgd)"/>
<path d="M173.3 212 L175.8 322.5 L275 344.2 L319.2 313.3" fill="none" stroke="#555" stroke-width="0.8"/>
<path d="M171.1 223.6 L173.6 223.6 M171.6 246.9 L174.1 246.9 M172.1 270.2 L174.6 270.2 M172.6 293.4 L175.1 293.4 M173.2 316.7 L175.7 316.7 M175.8 322.5 L175.2 325 M319.2 313.3 L321.4 314.5 M185.7 324.7 L185.1 327.2 M314.8 316.4 L317 317.6 M195.6 326.8 L195 329.3 M310.4 319.5 L312.6 320.7 M205.6 329 L205 331.5 M305.9 322.6 L308.1 323.8 M215.5 331.2 L214.9 333.7 M301.5 325.7 L303.7 326.9 M225.4 333.4 L224.8 335.9 M297.1 328.8 L299.3 329.9 M235.3 335.5 L234.7 338 M292.7 331.8 L294.9 333 M245.2 337.7 L244.6 340.2 M288.3 334.9 L290.5 336.1 M255.2 339.9 L254.6 342.4 M283.8 338 L286 339.2 M265.1 342 L264.5 344.5 M279.4 341.1 L281.6 342.3 M275 344.2 L274.4 346.7 M275 344.2 L277.2 345.4" stroke="#444" stroke-width="0.7" fill="none"/>
<rect x="259.3" y="237.8" width="5.3" height="57.4" fill="url(#cbd)"/>
<g font-family="Liberation Serif" font-weight="bold">
<text x="266.2" y="242" font-size="10.8" text-anchor="start" fill="#000" >-5.0</text>
<text x="266.2" y="294.7" font-size="10.8" text-anchor="start" fill="#000" >-14.3</text>
<text x="170.4" y="227" font-size="9.6" text-anchor="end" fill="#000" >-6</text>
<text x="170.9" y="250.3" font-size="9.6" text-anchor="end" fill="#000" >-8</text>
<text x="171.4" y="273.6" font-size="9.6" text-anchor="end" fill="#000" >-10</text>
<text x="171.9" y="296.8" font-size="9.6" text-anchor="end" fill="#000" >-12</text>
<text x="172.5" y="320.1" font-size="9.6" text-anchor="end" fill="#000" >-14</text>
<text x="173.3" y="212.3" font-size="17" text-anchor="start" fill="#000" >d</text>
<text x="175.8" y="334.2" font-size="9.2" text-anchor="middle" fill="#000" >0.0</text>
<text x="193.8" y="338.7" font-size="9.2" text-anchor="middle" fill="#000" >0.2</text>
<text x="212.8" y="342.8" font-size="9.2" text-anchor="middle" fill="#000" >0.4</text>
<text x="232.7" y="347.3" font-size="9.2" text-anchor="middle" fill="#000" >0.6</text>
<text x="253.1" y="352" font-size="9.2" text-anchor="middle" fill="#000" >0.8</text>
<text x="274.6" y="356.7" font-size="9.2" text-anchor="middle" fill="#000" >1.0</text>
<text x="318.9" y="324.4" font-size="9.2" text-anchor="middle" fill="#000" >0.0</text>
<text x="310" y="329.5" font-size="9.2" text-anchor="middle" fill="#000" >0.2</text>
<text x="302.2" y="335.5" font-size="9.2" text-anchor="middle" fill="#000" >0.4</text>
<text x="294.4" y="341.5" font-size="9.2" text-anchor="middle" fill="#000" >0.6</text>
<text x="285.6" y="348.9" font-size="9.2" text-anchor="middle" fill="#000" >0.8</text>
<text transform="translate(209,351.5) rotate(12)" font-size="12" text-anchor="middle">X (mm)</text>
<text transform="translate(314.5,343) rotate(-42)" font-size="12" text-anchor="middle">Y (mm)</text>
<text transform="translate(157,267) rotate(-90)" font-size="11.3" text-anchor="middle">Current (nA)</text>
</g>
<path d="M353.5 218.7 L412.1 211.8 L503.3 218.2 M353.7 233.4 L412.1 224.1 L502.6 231.6 M353.9 248.1 L412 236.4 L502 244.9 M354.2 262.7 L411.9 248.7 L501.4 258.3 M354.4 277.4 L411.8 261 L500.8 271.7 M354.6 292.1 L411.7 273.3 L500.1 285.1 M354.8 306.8 L411.6 285.6 L499.5 298.5 M355 321.5 L411.5 297.9 L498.9 311.9 M400.2 302.6 L400.4 206.1 M429 300.7 L430.5 206.2 M388.9 307.3 L388.7 207.2 M446.5 303.5 L448.8 207.3 M377.6 312.1 L376.9 208.4 M463.9 306.3 L467 208.5 M366.3 316.8 L365.2 209.5 M481.4 309.1 L485.3 209.6" fill="none" stroke="#cfcfcf" stroke-width="0.6" stroke-dasharray="1,1.2"/>
<path d="M353.4 210.6 L412.2 205 L503.6 210.8 M412.2 205 L411.5 297.9 M503.6 210.8 L498.9 311.9" fill="none" stroke="#c8c8c8" stroke-width="0.8"/>
<defs><linearGradient id="fle" gradientUnits="userSpaceOnUse" x1="355" y1="321.5" x2="375.1" y2="369.7"><stop offset="0" stop-color="#f08080"/><stop offset="0.015" stop-color="#f4b0b0"/><stop offset="0.035" stop-color="#f8f0f4"/><stop offset="0.1" stop-color="#d8dcf8"/><stop offset="0.3" stop-color="#a4acf0"/><stop offset="1" stop-color="#7682ec"/></linearGradient>
<linearGradient id="sfe" gradientUnits="userSpaceOnUse" x1="349.6" y1="228" x2="362" y2="301"><stop offset="0" stop-color="#6a78ec"/><stop offset="0.308" stop-color="#a6aef3"/><stop offset="0.514" stop-color="#ffffff"/><stop offset="0.684" stop-color="#f9c4c4"/><stop offset="1" stop-color="#f27070"/></linearGradient>
<linearGradient id="cbe" x1="0" y1="0" x2="0" y2="1"><stop offset="0" stop-color="#6474ec"/><stop offset="0.5" stop-color="#ffffff"/><stop offset="1" stop-color="#ee5c5c"/></linearGradient></defs>
<polygon points="355,321.5 453.5,343.1 498.9,311.9 411.5,297.9" fill="url(#fle)"/>
<polygon points="355.9,258.7 367.7,257.5 370,250.4 383,245.7 385.4,238.6 393.7,236.3 397.2,231.5 406.7,229.6 430,226.8 444.4,223.9 466.7,220.6 502.2,217.8 503.5,219 502,221 484.4,224.5 455,229.5 440,232 428,240.5 416.7,248.3 413.8,254 413.8,269.3 411.9,294.1 410.2,292.9 397.2,291.7 385.4,290.6 373.6,287 364.2,283.5 354.7,278.8" fill="url(#sfe)" stroke="none"/>
<defs><linearGradient id="bge" gradientUnits="userSpaceOnUse" x1="443" y1="221" x2="444.5" y2="231"><stop offset="0" stop-color="#a6aef5"/><stop offset="0.5" stop-color="#8c97f0"/><stop offset="1" stop-color="#7684ec"/></linearGradient></defs>
<polygon points="385.4,238.6 393.7,236.3 397.2,231.5 406.7,229.6 430,226.8 444.4,223.9 466.7,220.6 502.2,217.8 503.5,219 502,221 484.4,224.5 455,229.5 430,235.5 416,240 400,241 388,242" fill="url(#bge)"/>
<path d="M353.4 210.6 L355 321.5 L453.5 343.1 L498.9 311.9" fill="none" stroke="#555" stroke-width="0.8"/>
<path d="M351 218.7 L353.5 218.7 M351.2 233.4 L353.7 233.4 M351.4 248.1 L353.9 248.1 M351.7 262.7 L354.2 262.7 M351.9 277.4 L354.4 277.4 M352.1 292.1 L354.6 292.1 M352.3 306.8 L354.8 306.8 M352.5 321.5 L355 321.5 M355 321.5 L354.4 324 M498.9 311.9 L501.1 313.1 M364.9 323.7 L364.2 326.2 M494.4 315 L496.6 316.2 M374.7 325.8 L374.1 328.3 M489.8 318.1 L492 319.3 M384.6 328 L383.9 330.5 M485.3 321.3 L487.5 322.5 M394.4 330.1 L393.8 332.6 M480.7 324.4 L482.9 325.6 M404.2 332.3 L403.6 334.8 M476.2 327.5 L478.4 328.7 M414.1 334.5 L413.5 337 M471.7 330.6 L473.9 331.8 M423.9 336.6 L423.3 339.1 M467.1 333.7 L469.3 334.9 M433.8 338.8 L433.2 341.3 M462.6 336.9 L464.8 338.1 M443.6 340.9 L443 343.4 M458 340 L460.2 341.2 M453.5 343.1 L452.9 345.6 M453.5 343.1 L455.7 344.3" stroke="#444" stroke-width="0.7" fill="none"/>
<rect x="440" y="238.3" width="5.6" height="54.9" fill="url(#cbe)"/>
<g font-family="Liberation Serif" font-weight="bold">
<text x="447.2" y="242.5" font-size="10.8" text-anchor="start" fill="#000" >-6.0</text>
<text x="447.2" y="292.7" font-size="10.8" text-anchor="start" fill="#000" >-19.6</text>
<text x="350.3" y="222.1" font-size="9.6" text-anchor="end" fill="#000" >-6</text>
<text x="350.5" y="236.8" font-size="9.6" text-anchor="end" fill="#000" >-8</text>
<text x="350.7" y="251.5" font-size="9.6" text-anchor="end" fill="#000" >-10</text>
<text x="351" y="266.1" font-size="9.6" text-anchor="end" fill="#000" >-12</text>
<text x="351.2" y="280.8" font-size="9.6" text-anchor="end" fill="#000" >-14</text>
<text x="351.4" y="295.5" font-size="9.6" text-anchor="end" fill="#000" >-16</text>
<text x="351.6" y="310.2" font-size="9.6" text-anchor="end" fill="#000" >-18</text>
<text x="351.8" y="324.9" font-size="9.6" text-anchor="end" fill="#000" >-20</text>
<text x="351.7" y="212.3" font-size="17" text-anchor="start" fill="#000" >e</text>
<text x="354.4" y="334.2" font-size="9.2" text-anchor="middle" fill="#000" >0.0</text>
<text x="372.4" y="338.7" font-size="9.2" text-anchor="middle" fill="#000" >0.2</text>
<text x="391.4" y="342.8" font-size="9.2" text-anchor="middle" fill="#000" >0.4</text>
<text x="411.3" y="347.3" font-size="9.2" text-anchor="middle" fill="#000" >0.6</text>
<text x="431.7" y="352" font-size="9.2" text-anchor="middle" fill="#000" >0.8</text>
<text x="453.2" y="356.7" font-size="9.2" text-anchor="middle" fill="#000" >1.0</text>
<text x="497.5" y="324.4" font-size="9.2" text-anchor="middle" fill="#000" >0.0</text>
<text x="488.6" y="329.5" font-size="9.2" text-anchor="middle" fill="#000" >0.2</text>
<text x="480.8" y="335.5" font-size="9.2" text-anchor="middle" fill="#000" >0.4</text>
<text x="473" y="341.5" font-size="9.2" text-anchor="middle" fill="#000" >0.6</text>
<text x="464.2" y="348.9" font-size="9.2" text-anchor="middle" fill="#000" >0.8</text>
<text transform="translate(387.6,351.5) rotate(12)" font-size="12" text-anchor="middle">X (mm)</text>
<text transform="translate(493.1,343) rotate(-42)" font-size="12" text-anchor="middle">Y (mm)</text>
<text transform="translate(336.4,268) rotate(-90)" font-size="11.3" text-anchor="middle">Current (nA)</text>
</g>
<path d="M533.3 219.1 L590.6 211.5 L681.3 219.4 M533.3 242.2 L590.7 230.7 L680.5 240.2 M533.3 265.2 L590.9 249.9 L679.6 261.1 M533.3 288.3 L591 269.2 L678.7 282 M533.3 311.4 L591.1 288.4 L677.8 302.9 M579.5 301 L579.1 204.6 M608.4 299.1 L608.8 204.8 M568 305.9 L567.7 205.8 M625.7 302.1 L627 206.3 M556.4 310.8 L556.2 207 M642.9 305.2 L645.3 207.7 M544.9 315.7 L544.8 208.2 M660.2 308.2 L663.5 209.2" fill="none" stroke="#cfcfcf" stroke-width="0.6" stroke-dasharray="1,1.2"/>
<path d="M533.3 209.4 L590.6 203.4 L681.7 210.6 M590.6 203.4 L591.1 296.1 M681.7 210.6 L677.5 311.2" fill="none" stroke="#c8c8c8" stroke-width="0.8"/>
<defs><linearGradient id="flf" gradientUnits="userSpaceOnUse" x1="533.3" y1="320.6" x2="553.8" y2="368.9"><stop offset="0" stop-color="#f08080"/><stop offset="0.03" stop-color="#f4a8a8"/><stop offset="0.06" stop-color="#f8d8dc"/><stop offset="0.1" stop-color="#f0f0fc"/><stop offset="0.2" stop-color="#c4caf4"/><stop offset="0.4" stop-color="#9aa2ee"/><stop offset="1" stop-color="#7682ec"/></linearGradient>
<linearGradient id="sff" gradientUnits="userSpaceOnUse" x1="529.1" y1="226.4" x2="539.7" y2="297.6"><stop offset="0" stop-color="#6a78ec"/><stop offset="0.333" stop-color="#a6aef3"/><stop offset="0.556" stop-color="#ffffff"/><stop offset="0.711" stop-color="#f9c4c4"/><stop offset="1" stop-color="#f27070"/></linearGradient>
<linearGradient id="cbf" x1="0" y1="0" x2="0" y2="1"><stop offset="0" stop-color="#6474ec"/><stop offset="0.5" stop-color="#ffffff"/><stop offset="1" stop-color="#ee5c5c"/></linearGradient></defs>
<polygon points="533.3,320.6 632.6,340.8 677.5,311.2 591.1,296.1" fill="url(#flf)"/>
<polygon points="533.9,285.8 535.1,274 541,261 546.9,252.8 551.6,244.5 557.9,235.6 573.7,233.7 587.5,230.7 592.4,227.7 609.2,224.8 644.7,218.9 648.6,220.8 652.6,221.8 664.4,219.9 672.3,218.9 681.2,220.8 668.3,223.8 652.6,228.7 650.6,230.7 648.6,227.8 640.7,229.7 638.8,231.7 636.8,229.7 609.2,233.7 605,241.7 598.8,245.7 596.5,254 593,269.3 589.9,291.7 587,290.1 575.2,288.2 551.6,286.3" fill="url(#sff)" stroke="none"/>
<defs><linearGradient id="bgf" gradientUnits="userSpaceOnUse" x1="620" y1="219.5" x2="621.5" y2="231"><stop offset="0" stop-color="#a6aef5"/><stop offset="0.5" stop-color="#8c97f0"/><stop offset="1" stop-color="#7684ec"/></linearGradient></defs>
<polygon points="557.9,235.6 573.7,233.7 587.5,230.7 592.4,227.7 609.2,224.8 644.7,218.9 648.6,220.8 652.6,221.8 664.4,219.9 672.3,218.9 681.2,220.8 668.3,223.8 652.6,228.7 650.6,230.7 648.6,227.8 640.7,229.7 638.8,231.7 636.8,229.7 609.2,233.7 597.3,233.3 592.4,235.6 579.6,236.6 566,238.5" fill="url(#bgf)"/>
<path d="M533.3 209.4 L533.3 320.6 L632.6 340.8 L677.5 311.2" fill="none" stroke="#555" stroke-width="0.8"/>
<path d="M530.8 219.1 L533.3 219.1 M530.8 242.2 L533.3 242.2 M530.8 265.2 L533.3 265.2 M530.8 288.3 L533.3 288.3 M530.8 311.4 L533.3 311.4 M533.3 320.6 L532.7 323.1 M677.5 311.2 L679.7 312.4 M543.2 322.6 L542.6 325.1 M673 314.2 L675.2 315.4 M553.2 324.6 L552.6 327.1 M668.5 317.1 L670.7 318.3 M563.1 326.7 L562.5 329.2 M664 320.1 L666.2 321.3 M573 328.7 L572.4 331.2 M659.5 323 L661.7 324.2 M583 330.7 L582.4 333.2 M655 326 L657.2 327.2 M592.9 332.7 L592.3 335.2 M650.6 329 L652.8 330.2 M602.8 334.7 L602.2 337.2 M646.1 331.9 L648.3 333.1 M612.7 336.8 L612.1 339.3 M641.6 334.9 L643.8 336.1 M622.7 338.8 L622.1 341.3 M637.1 337.8 L639.3 339 M632.6 340.8 L632 343.3 M632.6 340.8 L634.8 342" stroke="#444" stroke-width="0.7" fill="none"/>
<rect x="618.3" y="235" width="4.2" height="57.2" fill="url(#cbf)"/>
<g font-family="Liberation Serif" font-weight="bold">
<text x="624.1" y="242.7" font-size="10.8" text-anchor="start" fill="#000" >-10.0</text>
<text x="624.1" y="292.7" font-size="10.8" text-anchor="start" fill="#000" >-31.1</text>
<text x="530.1" y="222.5" font-size="9.6" text-anchor="end" fill="#000" >-10</text>
<text x="530.1" y="245.6" font-size="9.6" text-anchor="end" fill="#000" >-15</text>
<text x="530.1" y="268.6" font-size="9.6" text-anchor="end" fill="#000" >-20</text>
<text x="530.1" y="291.7" font-size="9.6" text-anchor="end" fill="#000" >-25</text>
<text x="530.1" y="314.8" font-size="9.6" text-anchor="end" fill="#000" >-30</text>
<text x="531.1" y="212.3" font-size="17" text-anchor="start" fill="#000" >f</text>
<text x="533.3" y="332.4" font-size="9.2" text-anchor="middle" fill="#000" >0.0</text>
<text x="551.3" y="336.9" font-size="9.2" text-anchor="middle" fill="#000" >0.2</text>
<text x="570.3" y="341" font-size="9.2" text-anchor="middle" fill="#000" >0.4</text>
<text x="590.2" y="345.5" font-size="9.2" text-anchor="middle" fill="#000" >0.6</text>
<text x="610.6" y="350.2" font-size="9.2" text-anchor="middle" fill="#000" >0.8</text>
<text x="632.1" y="354.9" font-size="9.2" text-anchor="middle" fill="#000" >1.0</text>
<text x="676.4" y="322.6" font-size="9.2" text-anchor="middle" fill="#000" >0.0</text>
<text x="667.5" y="327.7" font-size="9.2" text-anchor="middle" fill="#000" >0.2</text>
<text x="659.7" y="333.7" font-size="9.2" text-anchor="middle" fill="#000" >0.4</text>
<text x="651.9" y="339.7" font-size="9.2" text-anchor="middle" fill="#000" >0.6</text>
<text x="643.1" y="347.1" font-size="9.2" text-anchor="middle" fill="#000" >0.8</text>
<text transform="translate(566.5,349.7) rotate(12)" font-size="12" text-anchor="middle">X (mm)</text>
<text transform="translate(672,341.2) rotate(-42)" font-size="12" text-anchor="middle">Y (mm)</text>
<text transform="translate(516.4,266) rotate(-90)" font-size="11.3" text-anchor="middle">Current (nA)</text>
</g>
</svg></body></html>
